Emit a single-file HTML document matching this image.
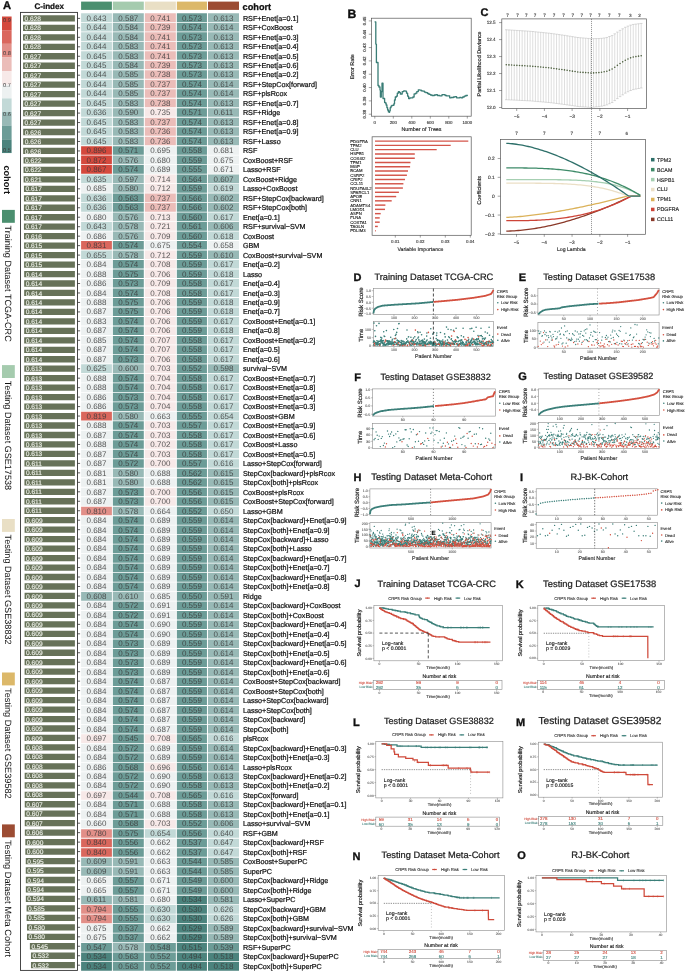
<!DOCTYPE html>
<html><head><meta charset="utf-8"><style>
html,body{margin:0;padding:0;background:#fff;}
svg{display:block;font-family:"Liberation Sans",sans-serif;will-change:transform;text-rendering:geometricPrecision;}
</style></head><body>
<svg width="685" height="972" viewBox="0 0 685 972">
<rect width="685" height="972" fill="#fff"/>
<rect x="81.1" y="1.6" width="30.8" height="8.3" fill="#4b8f6f"/>
<rect x="112.85" y="1.6" width="30.95" height="8.3" fill="#a5cbae"/>
<rect x="144.85" y="1.6" width="31" height="8.3" fill="#e9dfc5"/>
<rect x="176.85" y="1.6" width="30.1" height="8.3" fill="#dcb869"/>
<rect x="208" y="1.6" width="31" height="8.3" fill="#9c4c33"/>
<rect x="20.5" y="12.4" width="57" height="958" fill="none" stroke="#333" stroke-width="0.9"/>
<path d="M23.03,15.25h51.87v6.3h-51.87zM23.03,24.72h51.87v6.3h-51.87zM23.03,34.19h51.87v6.3h-51.87zM23.03,43.65h51.87v6.3h-51.87zM23.11,53.12h51.79v6.3h-51.79zM23.11,62.59h51.79v6.3h-51.79zM23.11,72.06h51.79v6.3h-51.79zM23.11,81.53h51.79v6.3h-51.79zM23.11,90.99h51.79v6.3h-51.79zM23.11,100.46h51.79v6.3h-51.79zM23.11,109.93h51.79v6.3h-51.79zM23.11,119.4h51.79v6.3h-51.79zM23.19,128.87h51.71v6.3h-51.71zM23.19,138.33h51.71v6.3h-51.71zM23.19,147.8h51.71v6.3h-51.71zM23.52,157.27h51.38v6.3h-51.38zM23.52,166.74h51.38v6.3h-51.38zM23.61,176.21h51.29v6.3h-51.29zM23.94,185.67h50.96v6.3h-50.96zM23.94,195.14h50.96v6.3h-50.96zM23.94,204.61h50.96v6.3h-50.96zM23.94,214.08h50.96v6.3h-50.96zM23.94,223.55h50.96v6.3h-50.96zM24.02,233.01h50.88v6.3h-50.88zM24.1,242.48h50.8v6.3h-50.8zM24.1,251.95h50.8v6.3h-50.8zM24.1,261.42h50.8v6.3h-50.8zM24.18,270.89h50.72v6.3h-50.72zM24.18,280.35h50.72v6.3h-50.72zM24.18,289.82h50.72v6.3h-50.72zM24.18,299.29h50.72v6.3h-50.72zM24.18,308.76h50.72v6.3h-50.72zM24.18,318.23h50.72v6.3h-50.72zM24.18,327.69h50.72v6.3h-50.72zM24.18,337.16h50.72v6.3h-50.72zM24.18,346.63h50.72v6.3h-50.72zM24.18,356.1h50.72v6.3h-50.72zM24.27,365.57h50.63v6.3h-50.63zM24.27,375.03h50.63v6.3h-50.63zM24.27,384.5h50.63v6.3h-50.63zM24.27,393.97h50.63v6.3h-50.63zM24.27,403.44h50.63v6.3h-50.63zM24.27,412.91h50.63v6.3h-50.63zM24.27,422.37h50.63v6.3h-50.63zM24.27,431.84h50.63v6.3h-50.63zM24.27,441.31h50.63v6.3h-50.63zM24.27,450.78h50.63v6.3h-50.63zM24.43,460.25h50.47v6.3h-50.47zM24.43,469.71h50.47v6.3h-50.47zM24.43,479.18h50.47v6.3h-50.47zM24.43,488.65h50.47v6.3h-50.47zM24.43,498.12h50.47v6.3h-50.47zM24.43,507.59h50.47v6.3h-50.47zM24.6,517.05h50.3v6.3h-50.3zM24.6,526.52h50.3v6.3h-50.3zM24.6,535.99h50.3v6.3h-50.3zM24.6,545.46h50.3v6.3h-50.3zM24.6,554.93h50.3v6.3h-50.3zM24.6,564.39h50.3v6.3h-50.3zM24.6,573.86h50.3v6.3h-50.3zM24.6,583.33h50.3v6.3h-50.3zM24.6,592.8h50.3v6.3h-50.3zM24.6,602.27h50.3v6.3h-50.3zM24.6,611.73h50.3v6.3h-50.3zM24.6,621.2h50.3v6.3h-50.3zM24.6,630.67h50.3v6.3h-50.3zM24.6,640.14h50.3v6.3h-50.3zM24.6,649.61h50.3v6.3h-50.3zM24.6,659.07h50.3v6.3h-50.3zM24.6,668.54h50.3v6.3h-50.3zM24.6,678.01h50.3v6.3h-50.3zM24.6,687.48h50.3v6.3h-50.3zM24.6,696.95h50.3v6.3h-50.3zM24.6,706.41h50.3v6.3h-50.3zM24.6,715.88h50.3v6.3h-50.3zM24.6,725.35h50.3v6.3h-50.3zM24.6,734.82h50.3v6.3h-50.3zM24.68,744.29h50.22v6.3h-50.22zM24.68,753.75h50.22v6.3h-50.22zM24.68,763.22h50.22v6.3h-50.22zM24.68,772.69h50.22v6.3h-50.22zM24.68,782.16h50.22v6.3h-50.22zM24.68,791.63h50.22v6.3h-50.22zM24.76,801.09h50.14v6.3h-50.14zM24.76,810.56h50.14v6.3h-50.14zM24.76,820.03h50.14v6.3h-50.14zM24.84,829.5h50.06v6.3h-50.06zM25.34,838.97h49.56v6.3h-49.56zM25.34,848.43h49.56v6.3h-49.56zM25.75,857.9h49.15v6.3h-49.15zM25.75,867.37h49.15v6.3h-49.15zM25.84,876.84h49.06v6.3h-49.06zM25.84,886.31h49.06v6.3h-49.06zM25.84,895.77h49.06v6.3h-49.06zM26.58,905.24h48.32v6.3h-48.32zM26.58,914.71h48.32v6.3h-48.32zM26.99,924.18h47.91v6.3h-47.91zM26.99,933.65h47.91v6.3h-47.91zM29.88,943.11h45.02v6.3h-45.02zM30.96,952.58h43.94v6.3h-43.94zM30.96,962.05h43.94v6.3h-43.94z" fill="#677259"/>
<path d="M77.5,18.4h2.6M77.5,27.87h2.6M77.5,37.34h2.6M77.5,46.8h2.6M77.5,56.27h2.6M77.5,65.74h2.6M77.5,75.21h2.6M77.5,84.68h2.6M77.5,94.14h2.6M77.5,103.61h2.6M77.5,113.08h2.6M77.5,122.55h2.6M77.5,132.02h2.6M77.5,141.48h2.6M77.5,150.95h2.6M77.5,160.42h2.6M77.5,169.89h2.6M77.5,179.36h2.6M77.5,188.82h2.6M77.5,198.29h2.6M77.5,207.76h2.6M77.5,217.23h2.6M77.5,226.7h2.6M77.5,236.16h2.6M77.5,245.63h2.6M77.5,255.1h2.6M77.5,264.57h2.6M77.5,274.04h2.6M77.5,283.5h2.6M77.5,292.97h2.6M77.5,302.44h2.6M77.5,311.91h2.6M77.5,321.38h2.6M77.5,330.84h2.6M77.5,340.31h2.6M77.5,349.78h2.6M77.5,359.25h2.6M77.5,368.72h2.6M77.5,378.18h2.6M77.5,387.65h2.6M77.5,397.12h2.6M77.5,406.59h2.6M77.5,416.06h2.6M77.5,425.52h2.6M77.5,434.99h2.6M77.5,444.46h2.6M77.5,453.93h2.6M77.5,463.4h2.6M77.5,472.86h2.6M77.5,482.33h2.6M77.5,491.8h2.6M77.5,501.27h2.6M77.5,510.74h2.6M77.5,520.2h2.6M77.5,529.67h2.6M77.5,539.14h2.6M77.5,548.61h2.6M77.5,558.08h2.6M77.5,567.54h2.6M77.5,577.01h2.6M77.5,586.48h2.6M77.5,595.95h2.6M77.5,605.42h2.6M77.5,614.88h2.6M77.5,624.35h2.6M77.5,633.82h2.6M77.5,643.29h2.6M77.5,652.76h2.6M77.5,662.22h2.6M77.5,671.69h2.6M77.5,681.16h2.6M77.5,690.63h2.6M77.5,700.1h2.6M77.5,709.56h2.6M77.5,719.03h2.6M77.5,728.5h2.6M77.5,737.97h2.6M77.5,747.44h2.6M77.5,756.9h2.6M77.5,766.37h2.6M77.5,775.84h2.6M77.5,785.31h2.6M77.5,794.78h2.6M77.5,804.24h2.6M77.5,813.71h2.6M77.5,823.18h2.6M77.5,832.65h2.6M77.5,842.12h2.6M77.5,851.58h2.6M77.5,861.05h2.6M77.5,870.52h2.6M77.5,879.99h2.6M77.5,889.46h2.6M77.5,898.92h2.6M77.5,908.39h2.6M77.5,917.86h2.6M77.5,927.33h2.6M77.5,936.8h2.6M77.5,946.26h2.6M77.5,955.73h2.6M77.5,965.2h2.6" stroke="#333" stroke-width="0.8"/>
<path d="M81.1,13.3h30.8v8.6h-30.8zM81.1,22.79h30.8v8.6h-30.8zM81.1,32.28h30.8v8.6h-30.8zM81.1,41.76h30.8v8.6h-30.8zM81.1,51.25h30.8v8.6h-30.8zM81.1,60.74h30.8v8.6h-30.8zM81.1,70.23h30.8v8.6h-30.8zM81.1,79.71h30.8v8.6h-30.8zM81.1,89.2h30.8v8.6h-30.8zM81.1,98.69h30.8v8.6h-30.8zM81.1,108.17h30.8v8.6h-30.8zM81.1,117.66h30.8v8.6h-30.8zM81.1,127.15h30.8v8.6h-30.8zM81.1,136.64h30.8v8.6h-30.8zM81.1,174.59h30.8v8.6h-30.8zM208,184.08h31v8.6h-31zM81.1,193.56h30.8v8.6h-30.8zM81.1,203.05h30.8v8.6h-30.8zM208,212.54h31v8.6h-31zM81.1,222.03h30.8v8.6h-30.8zM208,231.51h31v8.6h-31zM81.1,250.49h30.8v8.6h-30.8zM208,259.98h31v8.6h-31zM208,269.46h31v8.6h-31zM208,278.95h31v8.6h-31zM208,288.44h31v8.6h-31zM208,297.93h31v8.6h-31zM208,307.41h31v8.6h-31zM208,316.9h31v8.6h-31zM208,326.39h31v8.6h-31zM208,335.88h31v8.6h-31zM208,345.36h31v8.6h-31zM208,354.85h31v8.6h-31zM81.1,364.34h30.8v8.6h-30.8zM208,373.83h31v8.6h-31zM208,383.31h31v8.6h-31zM208,392.8h31v8.6h-31zM208,402.29h31v8.6h-31zM208,411.78h31v8.6h-31zM208,421.26h31v8.6h-31zM208,430.75h31v8.6h-31zM208,440.24h31v8.6h-31zM208,449.73h31v8.6h-31zM208,459.21h31v8.6h-31zM208,506.65h31v8.6h-31zM208,734.35h31v8.6h-31zM208,791.27h31v8.6h-31zM144.85,829.23h31v8.6h-31zM208,829.23h31v8.6h-31zM208,838.71h31v8.6h-31zM208,848.2h31v8.6h-31zM144.85,905.12h31v8.6h-31zM208,905.12h31v8.6h-31zM144.85,914.61h31v8.6h-31zM208,914.61h31v8.6h-31z" fill="#c2d9d7"/>
<path d="M112.85,13.3h30.95v8.6h-30.95zM208,13.3h31v8.6h-31zM112.85,22.79h30.95v8.6h-30.95zM208,22.79h31v8.6h-31zM112.85,32.28h30.95v8.6h-30.95zM208,32.28h31v8.6h-31zM112.85,41.76h30.95v8.6h-30.95zM208,41.76h31v8.6h-31zM112.85,51.25h30.95v8.6h-30.95zM208,51.25h31v8.6h-31zM112.85,60.74h30.95v8.6h-30.95zM208,60.74h31v8.6h-31zM112.85,70.23h30.95v8.6h-30.95zM208,70.23h31v8.6h-31zM112.85,79.71h30.95v8.6h-30.95zM208,79.71h31v8.6h-31zM112.85,89.2h30.95v8.6h-30.95zM208,89.2h31v8.6h-31zM112.85,98.69h30.95v8.6h-30.95zM208,98.69h31v8.6h-31zM112.85,108.17h30.95v8.6h-30.95zM208,108.17h31v8.6h-31zM112.85,117.66h30.95v8.6h-30.95zM208,117.66h31v8.6h-31zM112.85,127.15h30.95v8.6h-30.95zM208,127.15h31v8.6h-31zM112.85,136.64h30.95v8.6h-30.95zM208,136.64h31v8.6h-31zM112.85,155.61h30.95v8.6h-30.95zM112.85,174.59h30.95v8.6h-30.95zM208,174.59h31v8.6h-31zM112.85,184.08h30.95v8.6h-30.95zM208,193.56h31v8.6h-31zM208,203.05h31v8.6h-31zM112.85,212.54h30.95v8.6h-30.95zM112.85,222.03h30.95v8.6h-30.95zM208,222.03h31v8.6h-31zM112.85,231.51h30.95v8.6h-30.95zM112.85,250.49h30.95v8.6h-30.95zM208,250.49h31v8.6h-31zM112.85,364.34h30.95v8.6h-30.95zM208,364.34h31v8.6h-31zM112.85,411.78h30.95v8.6h-30.95zM112.85,468.7h30.95v8.6h-30.95zM208,468.7h31v8.6h-31zM112.85,478.19h30.95v8.6h-30.95zM208,478.19h31v8.6h-31zM208,487.68h31v8.6h-31zM208,497.16h31v8.6h-31zM112.85,506.65h30.95v8.6h-30.95zM208,516.14h31v8.6h-31zM208,525.62h31v8.6h-31zM208,535.11h31v8.6h-31zM208,544.6h31v8.6h-31zM208,554.09h31v8.6h-31zM208,563.58h31v8.6h-31zM208,573.06h31v8.6h-31zM208,582.55h31v8.6h-31zM81.1,592.04h30.8v8.6h-30.8zM112.85,592.04h30.95v8.6h-30.95zM208,592.04h31v8.6h-31zM208,601.52h31v8.6h-31zM208,611.01h31v8.6h-31zM208,620.5h31v8.6h-31zM208,629.99h31v8.6h-31zM208,639.48h31v8.6h-31zM208,648.96h31v8.6h-31zM208,658.45h31v8.6h-31zM208,667.94h31v8.6h-31zM208,677.42h31v8.6h-31zM208,686.91h31v8.6h-31zM208,696.4h31v8.6h-31zM208,705.89h31v8.6h-31zM208,715.38h31v8.6h-31zM208,724.86h31v8.6h-31zM208,743.84h31v8.6h-31zM208,753.33h31v8.6h-31zM208,762.81h31v8.6h-31zM208,772.3h31v8.6h-31zM208,781.79h31v8.6h-31zM208,800.76h31v8.6h-31zM208,810.25h31v8.6h-31zM208,819.74h31v8.6h-31zM81.1,857.69h30.8v8.6h-30.8zM112.85,857.69h30.95v8.6h-30.95zM208,857.69h31v8.6h-31zM81.1,867.18h30.8v8.6h-30.8zM112.85,867.18h30.95v8.6h-30.95zM208,867.18h31v8.6h-31zM208,876.66h31v8.6h-31zM208,886.15h31v8.6h-31zM81.1,895.64h30.8v8.6h-30.8zM112.85,895.64h30.95v8.6h-30.95zM208,895.64h31v8.6h-31zM208,924.1h31v8.6h-31zM208,933.59h31v8.6h-31zM112.85,943.08h30.95v8.6h-30.95z" fill="#98b9b6"/>
<path d="M144.85,13.3h31v8.6h-31zM144.85,22.79h31v8.6h-31zM144.85,32.28h31v8.6h-31zM144.85,41.76h31v8.6h-31zM144.85,51.25h31v8.6h-31zM144.85,60.74h31v8.6h-31zM144.85,70.23h31v8.6h-31zM144.85,79.71h31v8.6h-31zM144.85,89.2h31v8.6h-31zM144.85,98.69h31v8.6h-31zM144.85,117.66h31v8.6h-31zM144.85,127.15h31v8.6h-31zM144.85,136.64h31v8.6h-31zM144.85,193.56h31v8.6h-31zM144.85,203.05h31v8.6h-31z" fill="#ebbdb9"/>
<path d="M176.85,13.3h30.1v8.6h-30.1zM176.85,22.79h30.1v8.6h-30.1zM176.85,32.28h30.1v8.6h-30.1zM176.85,41.76h30.1v8.6h-30.1zM176.85,51.25h30.1v8.6h-30.1zM176.85,60.74h30.1v8.6h-30.1zM176.85,70.23h30.1v8.6h-30.1zM176.85,79.71h30.1v8.6h-30.1zM176.85,89.2h30.1v8.6h-30.1zM176.85,98.69h30.1v8.6h-30.1zM176.85,108.17h30.1v8.6h-30.1zM176.85,117.66h30.1v8.6h-30.1zM176.85,127.15h30.1v8.6h-30.1zM176.85,136.64h30.1v8.6h-30.1zM112.85,146.13h30.95v8.6h-30.95zM176.85,146.13h30.1v8.6h-30.1zM176.85,155.61h30.1v8.6h-30.1zM112.85,165.1h30.95v8.6h-30.95zM176.85,165.1h30.1v8.6h-30.1zM176.85,174.59h30.1v8.6h-30.1zM176.85,184.08h30.1v8.6h-30.1zM112.85,193.56h30.95v8.6h-30.95zM176.85,193.56h30.1v8.6h-30.1zM112.85,203.05h30.95v8.6h-30.95zM176.85,203.05h30.1v8.6h-30.1zM176.85,212.54h30.1v8.6h-30.1zM176.85,222.03h30.1v8.6h-30.1zM176.85,231.51h30.1v8.6h-30.1zM112.85,241h30.95v8.6h-30.95zM176.85,241h30.1v8.6h-30.1zM176.85,250.49h30.1v8.6h-30.1zM112.85,259.98h30.95v8.6h-30.95zM176.85,259.98h30.1v8.6h-30.1zM112.85,269.46h30.95v8.6h-30.95zM176.85,269.46h30.1v8.6h-30.1zM112.85,278.95h30.95v8.6h-30.95zM176.85,278.95h30.1v8.6h-30.1zM112.85,288.44h30.95v8.6h-30.95zM176.85,288.44h30.1v8.6h-30.1zM112.85,297.93h30.95v8.6h-30.95zM176.85,297.93h30.1v8.6h-30.1zM112.85,307.41h30.95v8.6h-30.95zM176.85,307.41h30.1v8.6h-30.1zM112.85,316.9h30.95v8.6h-30.95zM176.85,316.9h30.1v8.6h-30.1zM112.85,326.39h30.95v8.6h-30.95zM176.85,326.39h30.1v8.6h-30.1zM112.85,335.88h30.95v8.6h-30.95zM176.85,335.88h30.1v8.6h-30.1zM112.85,345.36h30.95v8.6h-30.95zM176.85,345.36h30.1v8.6h-30.1zM112.85,354.85h30.95v8.6h-30.95zM176.85,354.85h30.1v8.6h-30.1zM176.85,364.34h30.1v8.6h-30.1zM112.85,373.83h30.95v8.6h-30.95zM176.85,373.83h30.1v8.6h-30.1zM112.85,383.31h30.95v8.6h-30.95zM176.85,383.31h30.1v8.6h-30.1zM112.85,392.8h30.95v8.6h-30.95zM176.85,392.8h30.1v8.6h-30.1zM112.85,402.29h30.95v8.6h-30.95zM176.85,402.29h30.1v8.6h-30.1zM176.85,411.78h30.1v8.6h-30.1zM112.85,421.26h30.95v8.6h-30.95zM176.85,421.26h30.1v8.6h-30.1zM112.85,430.75h30.95v8.6h-30.95zM176.85,430.75h30.1v8.6h-30.1zM112.85,440.24h30.95v8.6h-30.95zM176.85,440.24h30.1v8.6h-30.1zM112.85,449.73h30.95v8.6h-30.95zM176.85,449.73h30.1v8.6h-30.1zM112.85,459.21h30.95v8.6h-30.95zM176.85,459.21h30.1v8.6h-30.1zM176.85,468.7h30.1v8.6h-30.1zM176.85,478.19h30.1v8.6h-30.1zM112.85,487.68h30.95v8.6h-30.95zM176.85,487.68h30.1v8.6h-30.1zM112.85,497.16h30.95v8.6h-30.95zM176.85,497.16h30.1v8.6h-30.1zM176.85,506.65h30.1v8.6h-30.1zM112.85,516.14h30.95v8.6h-30.95zM176.85,516.14h30.1v8.6h-30.1zM112.85,525.62h30.95v8.6h-30.95zM176.85,525.62h30.1v8.6h-30.1zM112.85,535.11h30.95v8.6h-30.95zM176.85,535.11h30.1v8.6h-30.1zM112.85,544.6h30.95v8.6h-30.95zM176.85,544.6h30.1v8.6h-30.1zM112.85,554.09h30.95v8.6h-30.95zM176.85,554.09h30.1v8.6h-30.1zM112.85,563.58h30.95v8.6h-30.95zM176.85,563.58h30.1v8.6h-30.1zM112.85,573.06h30.95v8.6h-30.95zM176.85,573.06h30.1v8.6h-30.1zM112.85,582.55h30.95v8.6h-30.95zM176.85,582.55h30.1v8.6h-30.1zM176.85,592.04h30.1v8.6h-30.1zM112.85,601.52h30.95v8.6h-30.95zM176.85,601.52h30.1v8.6h-30.1zM112.85,611.01h30.95v8.6h-30.95zM176.85,611.01h30.1v8.6h-30.1zM112.85,620.5h30.95v8.6h-30.95zM176.85,620.5h30.1v8.6h-30.1zM112.85,629.99h30.95v8.6h-30.95zM176.85,629.99h30.1v8.6h-30.1zM112.85,639.48h30.95v8.6h-30.95zM176.85,639.48h30.1v8.6h-30.1zM112.85,648.96h30.95v8.6h-30.95zM176.85,648.96h30.1v8.6h-30.1zM112.85,658.45h30.95v8.6h-30.95zM176.85,658.45h30.1v8.6h-30.1zM112.85,667.94h30.95v8.6h-30.95zM176.85,667.94h30.1v8.6h-30.1zM112.85,677.42h30.95v8.6h-30.95zM176.85,677.42h30.1v8.6h-30.1zM112.85,686.91h30.95v8.6h-30.95zM176.85,686.91h30.1v8.6h-30.1zM112.85,696.4h30.95v8.6h-30.95zM176.85,696.4h30.1v8.6h-30.1zM112.85,705.89h30.95v8.6h-30.95zM176.85,705.89h30.1v8.6h-30.1zM112.85,715.38h30.95v8.6h-30.95zM176.85,715.38h30.1v8.6h-30.1zM112.85,724.86h30.95v8.6h-30.95zM176.85,724.86h30.1v8.6h-30.1zM112.85,734.35h30.95v8.6h-30.95zM176.85,734.35h30.1v8.6h-30.1zM112.85,743.84h30.95v8.6h-30.95zM176.85,743.84h30.1v8.6h-30.1zM112.85,753.33h30.95v8.6h-30.95zM176.85,753.33h30.1v8.6h-30.1zM112.85,762.81h30.95v8.6h-30.95zM176.85,762.81h30.1v8.6h-30.1zM112.85,772.3h30.95v8.6h-30.95zM176.85,772.3h30.1v8.6h-30.1zM112.85,781.79h30.95v8.6h-30.95zM176.85,781.79h30.1v8.6h-30.1zM112.85,791.27h30.95v8.6h-30.95zM176.85,791.27h30.1v8.6h-30.1zM112.85,800.76h30.95v8.6h-30.95zM176.85,800.76h30.1v8.6h-30.1zM112.85,810.25h30.95v8.6h-30.95zM176.85,810.25h30.1v8.6h-30.1zM112.85,819.74h30.95v8.6h-30.95zM176.85,819.74h30.1v8.6h-30.1zM112.85,829.23h30.95v8.6h-30.95zM176.85,829.23h30.1v8.6h-30.1zM112.85,838.71h30.95v8.6h-30.95zM176.85,838.71h30.1v8.6h-30.1zM112.85,848.2h30.95v8.6h-30.95zM176.85,848.2h30.1v8.6h-30.1zM176.85,857.69h30.1v8.6h-30.1zM176.85,867.18h30.1v8.6h-30.1zM112.85,876.66h30.95v8.6h-30.95zM176.85,876.66h30.1v8.6h-30.1zM112.85,886.15h30.95v8.6h-30.95zM176.85,886.15h30.1v8.6h-30.1zM112.85,905.12h30.95v8.6h-30.95zM112.85,914.61h30.95v8.6h-30.95zM112.85,924.1h30.95v8.6h-30.95zM112.85,933.59h30.95v8.6h-30.95zM81.1,943.08h30.8v8.6h-30.8zM144.85,943.08h31v8.6h-31zM208,943.08h31v8.6h-31zM112.85,952.56h30.95v8.6h-30.95zM144.85,952.56h31v8.6h-31zM112.85,962.05h30.95v8.6h-30.95zM144.85,962.05h31v8.6h-31z" fill="#6c9c97"/>
<path d="M144.85,108.17h31v8.6h-31zM144.85,174.59h31v8.6h-31zM144.85,184.08h31v8.6h-31zM144.85,212.54h31v8.6h-31zM144.85,222.03h31v8.6h-31zM144.85,231.51h31v8.6h-31zM144.85,250.49h31v8.6h-31zM144.85,259.98h31v8.6h-31zM144.85,269.46h31v8.6h-31zM144.85,278.95h31v8.6h-31zM144.85,288.44h31v8.6h-31zM144.85,297.93h31v8.6h-31zM144.85,307.41h31v8.6h-31zM144.85,316.9h31v8.6h-31zM144.85,326.39h31v8.6h-31zM144.85,335.88h31v8.6h-31zM144.85,345.36h31v8.6h-31zM144.85,354.85h31v8.6h-31zM144.85,364.34h31v8.6h-31zM144.85,373.83h31v8.6h-31zM144.85,383.31h31v8.6h-31zM144.85,392.8h31v8.6h-31zM144.85,402.29h31v8.6h-31zM144.85,421.26h31v8.6h-31zM144.85,430.75h31v8.6h-31zM144.85,440.24h31v8.6h-31zM144.85,449.73h31v8.6h-31zM144.85,459.21h31v8.6h-31zM144.85,487.68h31v8.6h-31zM144.85,497.16h31v8.6h-31zM81.1,734.35h30.8v8.6h-30.8zM144.85,734.35h31v8.6h-31zM144.85,762.81h31v8.6h-31zM81.1,791.27h30.8v8.6h-30.8zM144.85,791.27h31v8.6h-31zM144.85,819.74h31v8.6h-31z" fill="#f7e9e8"/>
<path d="M81.1,146.13h30.8v8.6h-30.8zM81.1,155.61h30.8v8.6h-30.8zM81.1,165.1h30.8v8.6h-30.8z" fill="#d4493d"/>
<path d="M144.85,146.13h31v8.6h-31zM208,146.13h31v8.6h-31zM144.85,155.61h31v8.6h-31zM208,155.61h31v8.6h-31zM144.85,165.1h31v8.6h-31zM208,165.1h31v8.6h-31zM81.1,184.08h30.8v8.6h-30.8zM81.1,212.54h30.8v8.6h-30.8zM81.1,231.51h30.8v8.6h-30.8zM144.85,241h31v8.6h-31zM208,241h31v8.6h-31zM81.1,259.98h30.8v8.6h-30.8zM81.1,269.46h30.8v8.6h-30.8zM81.1,278.95h30.8v8.6h-30.8zM81.1,288.44h30.8v8.6h-30.8zM81.1,297.93h30.8v8.6h-30.8zM81.1,307.41h30.8v8.6h-30.8zM81.1,316.9h30.8v8.6h-30.8zM81.1,326.39h30.8v8.6h-30.8zM81.1,335.88h30.8v8.6h-30.8zM81.1,345.36h30.8v8.6h-30.8zM81.1,354.85h30.8v8.6h-30.8zM81.1,373.83h30.8v8.6h-30.8zM81.1,383.31h30.8v8.6h-30.8zM81.1,392.8h30.8v8.6h-30.8zM81.1,402.29h30.8v8.6h-30.8zM144.85,411.78h31v8.6h-31zM81.1,421.26h30.8v8.6h-30.8zM81.1,430.75h30.8v8.6h-30.8zM81.1,440.24h30.8v8.6h-30.8zM81.1,449.73h30.8v8.6h-30.8zM81.1,459.21h30.8v8.6h-30.8zM81.1,468.7h30.8v8.6h-30.8zM144.85,468.7h31v8.6h-31zM81.1,478.19h30.8v8.6h-30.8zM144.85,478.19h31v8.6h-31zM81.1,487.68h30.8v8.6h-30.8zM81.1,497.16h30.8v8.6h-30.8zM144.85,506.65h31v8.6h-31zM81.1,516.14h30.8v8.6h-30.8zM144.85,516.14h31v8.6h-31zM81.1,525.62h30.8v8.6h-30.8zM144.85,525.62h31v8.6h-31zM81.1,535.11h30.8v8.6h-30.8zM144.85,535.11h31v8.6h-31zM81.1,544.6h30.8v8.6h-30.8zM144.85,544.6h31v8.6h-31zM81.1,554.09h30.8v8.6h-30.8zM144.85,554.09h31v8.6h-31zM81.1,563.58h30.8v8.6h-30.8zM144.85,563.58h31v8.6h-31zM81.1,573.06h30.8v8.6h-30.8zM144.85,573.06h31v8.6h-31zM81.1,582.55h30.8v8.6h-30.8zM144.85,582.55h31v8.6h-31zM144.85,592.04h31v8.6h-31zM81.1,601.52h30.8v8.6h-30.8zM144.85,601.52h31v8.6h-31zM81.1,611.01h30.8v8.6h-30.8zM144.85,611.01h31v8.6h-31zM81.1,620.5h30.8v8.6h-30.8zM144.85,620.5h31v8.6h-31zM81.1,629.99h30.8v8.6h-30.8zM144.85,629.99h31v8.6h-31zM81.1,639.48h30.8v8.6h-30.8zM144.85,639.48h31v8.6h-31zM81.1,648.96h30.8v8.6h-30.8zM144.85,648.96h31v8.6h-31zM81.1,658.45h30.8v8.6h-30.8zM144.85,658.45h31v8.6h-31zM81.1,667.94h30.8v8.6h-30.8zM144.85,667.94h31v8.6h-31zM81.1,677.42h30.8v8.6h-30.8zM144.85,677.42h31v8.6h-31zM81.1,686.91h30.8v8.6h-30.8zM144.85,686.91h31v8.6h-31zM81.1,696.4h30.8v8.6h-30.8zM144.85,696.4h31v8.6h-31zM81.1,705.89h30.8v8.6h-30.8zM144.85,705.89h31v8.6h-31zM81.1,715.38h30.8v8.6h-30.8zM144.85,715.38h31v8.6h-31zM81.1,724.86h30.8v8.6h-30.8zM144.85,724.86h31v8.6h-31zM81.1,743.84h30.8v8.6h-30.8zM144.85,743.84h31v8.6h-31zM81.1,753.33h30.8v8.6h-30.8zM144.85,753.33h31v8.6h-31zM81.1,762.81h30.8v8.6h-30.8zM81.1,772.3h30.8v8.6h-30.8zM144.85,772.3h31v8.6h-31zM81.1,781.79h30.8v8.6h-30.8zM144.85,781.79h31v8.6h-31zM81.1,800.76h30.8v8.6h-30.8zM144.85,800.76h31v8.6h-31zM81.1,810.25h30.8v8.6h-30.8zM144.85,810.25h31v8.6h-31zM81.1,819.74h30.8v8.6h-30.8zM144.85,838.71h31v8.6h-31zM144.85,848.2h31v8.6h-31zM144.85,857.69h31v8.6h-31zM144.85,867.18h31v8.6h-31zM81.1,876.66h30.8v8.6h-30.8zM144.85,876.66h31v8.6h-31zM81.1,886.15h30.8v8.6h-30.8zM144.85,886.15h31v8.6h-31zM144.85,895.64h31v8.6h-31zM81.1,924.1h30.8v8.6h-30.8zM144.85,924.1h31v8.6h-31zM81.1,933.59h30.8v8.6h-30.8zM144.85,933.59h31v8.6h-31z" fill="#edf1f1"/>
<path d="M81.1,241h30.8v8.6h-30.8zM81.1,411.78h30.8v8.6h-30.8zM81.1,838.71h30.8v8.6h-30.8zM81.1,848.2h30.8v8.6h-30.8z" fill="#da675d"/>
<path d="M81.1,506.65h30.8v8.6h-30.8zM81.1,829.23h30.8v8.6h-30.8zM81.1,905.12h30.8v8.6h-30.8zM81.1,914.61h30.8v8.6h-30.8z" fill="#e28f88"/>
<path d="M176.85,895.64h30.1v8.6h-30.1zM176.85,905.12h30.1v8.6h-30.1zM176.85,914.61h30.1v8.6h-30.1zM176.85,924.1h30.1v8.6h-30.1zM176.85,933.59h30.1v8.6h-30.1zM176.85,943.08h30.1v8.6h-30.1zM81.1,952.56h30.8v8.6h-30.8zM176.85,952.56h30.1v8.6h-30.1zM208,952.56h31v8.6h-31zM81.1,962.05h30.8v8.6h-30.8zM176.85,962.05h30.1v8.6h-30.1zM208,962.05h31v8.6h-31z" fill="#4b837d"/>
<rect x="2" y="16.5" width="9.6" height="13.7" fill="#d4493d"/>
<rect x="2" y="30.15" width="9.6" height="13.7" fill="#da675d"/>
<rect x="2" y="43.8" width="9.6" height="13.7" fill="#e28f88"/>
<rect x="2" y="57.45" width="9.6" height="13.7" fill="#ebbdb9"/>
<rect x="2" y="71.1" width="9.6" height="13.7" fill="#f7e9e8"/>
<rect x="2" y="84.75" width="9.6" height="13.7" fill="#edf1f1"/>
<rect x="2" y="98.4" width="9.6" height="13.7" fill="#c2d9d7"/>
<rect x="2" y="112.05" width="9.6" height="13.7" fill="#98b9b6"/>
<rect x="2" y="125.7" width="9.6" height="13.7" fill="#6c9c97"/>
<rect x="2" y="139.35" width="9.6" height="13.7" fill="#4b837d"/>
<text transform="translate(4.4,165.4) rotate(90)" font-size="9.2" fill="#111" font-weight="bold">cohort</text>
<rect x="2" y="209.9" width="12.8" height="12.9" fill="#4b8f6f"/>
<text transform="translate(4.7,225.5) rotate(90)" font-size="9.1" fill="#111" textLength="116.2" lengthAdjust="spacingAndGlyphs">Training Dataset TCGA-CRC</text>
<rect x="2" y="365.1" width="12.8" height="12.9" fill="#a5cbae"/>
<text transform="translate(4.7,380.7) rotate(90)" font-size="9.1" fill="#111" textLength="109.3" lengthAdjust="spacingAndGlyphs">Testing Dataset GSE17538</text>
<rect x="2" y="519" width="12.8" height="12.9" fill="#e9dfc5"/>
<text transform="translate(4.7,534.6) rotate(90)" font-size="9.1" fill="#111" textLength="110.0" lengthAdjust="spacingAndGlyphs">Testing Dataset GSE38832</text>
<rect x="2" y="672.5" width="12.8" height="12.9" fill="#dcb869"/>
<text transform="translate(4.7,688.1) rotate(90)" font-size="9.1" fill="#111" textLength="110.6" lengthAdjust="spacingAndGlyphs">Testing Dataset GSE39582</text>
<rect x="2" y="824.4" width="12.8" height="12.9" fill="#9c4c33"/>
<text transform="translate(4.7,840) rotate(90)" font-size="9.1" fill="#111" textLength="117.0" lengthAdjust="spacingAndGlyphs">Testing Dataset Meta Cohort</text>
<rect x="371.4" y="18.2" width="99.8" height="98" fill="none" stroke="#555" stroke-width="0.7"/>
<line x1="368.8" y1="20.9" x2="371.4" y2="20.9" stroke="#444" stroke-width="0.5"/>
<text transform="translate(365.6,20.9) rotate(-90)" font-size="4.4" fill="#333" text-anchor="middle" stroke="#333" stroke-width="0.13">0.45</text>
<line x1="368.8" y1="34.23" x2="371.4" y2="34.23" stroke="#444" stroke-width="0.5"/>
<text transform="translate(365.6,34.23) rotate(-90)" font-size="4.4" fill="#333" text-anchor="middle" stroke="#333" stroke-width="0.13">0.44</text>
<line x1="368.8" y1="47.56" x2="371.4" y2="47.56" stroke="#444" stroke-width="0.5"/>
<text transform="translate(365.6,47.56) rotate(-90)" font-size="4.4" fill="#333" text-anchor="middle" stroke="#333" stroke-width="0.13">0.43</text>
<line x1="368.8" y1="60.89" x2="371.4" y2="60.89" stroke="#444" stroke-width="0.5"/>
<text transform="translate(365.6,60.89) rotate(-90)" font-size="4.4" fill="#333" text-anchor="middle" stroke="#333" stroke-width="0.13">0.42</text>
<line x1="368.8" y1="74.22" x2="371.4" y2="74.22" stroke="#444" stroke-width="0.5"/>
<text transform="translate(365.6,74.22) rotate(-90)" font-size="4.4" fill="#333" text-anchor="middle" stroke="#333" stroke-width="0.13">0.41</text>
<line x1="368.8" y1="87.55" x2="371.4" y2="87.55" stroke="#444" stroke-width="0.5"/>
<text transform="translate(365.6,87.55) rotate(-90)" font-size="4.4" fill="#333" text-anchor="middle" stroke="#333" stroke-width="0.13">0.40</text>
<line x1="368.8" y1="100.88" x2="371.4" y2="100.88" stroke="#444" stroke-width="0.5"/>
<text transform="translate(365.6,100.88) rotate(-90)" font-size="4.4" fill="#333" text-anchor="middle" stroke="#333" stroke-width="0.13">0.39</text>
<line x1="368.8" y1="114.21" x2="371.4" y2="114.21" stroke="#444" stroke-width="0.5"/>
<text transform="translate(365.6,114.21) rotate(-90)" font-size="4.4" fill="#333" text-anchor="middle" stroke="#333" stroke-width="0.13">0.38</text>
<text transform="translate(353.8,66.8) rotate(-90)" font-size="5.4" fill="#222" text-anchor="middle" stroke="#222" stroke-width="0.16">Error Rate</text>
<line x1="374.8" y1="116.2" x2="374.8" y2="118.6" stroke="#444" stroke-width="0.5"/>
<line x1="393.3" y1="116.2" x2="393.3" y2="118.6" stroke="#444" stroke-width="0.5"/>
<line x1="411.8" y1="116.2" x2="411.8" y2="118.6" stroke="#444" stroke-width="0.5"/>
<line x1="430.3" y1="116.2" x2="430.3" y2="118.6" stroke="#444" stroke-width="0.5"/>
<line x1="448.8" y1="116.2" x2="448.8" y2="118.6" stroke="#444" stroke-width="0.5"/>
<line x1="467.3" y1="116.2" x2="467.3" y2="118.6" stroke="#444" stroke-width="0.5"/>
<path d="M374.6,21.9 L375.8,21.9 L375.8,21.9 L375.8,21.9 L375.8,44.1 L376.4,44.1 L376.4,44.1 L376.4,44.1 L376.4,62.5 L377.7,62.5 L377.7,62.5 L378,62.5 L378,85.5 L378.9,85.5 L378.9,87 L380,87 L380,90.1 L380.4,90.1 L380.4,97 L381,97 L381,97 L381.3,97 L381.3,91.6 L382,91.6 L382,83.2 L383,83.2 L383,83.2 L383,83.2 L383,98.5 L384.1,98.5 L384.1,98.5 L384.6,98.5 L384.6,102.4 L385.3,102.4 L385.3,103 L386.1,103 L386.1,105 L386.9,105 L386.9,107.7 L387.6,107.7 L387.6,110 L388.4,110 L388.4,111.9 L389.2,111.9 L389.2,112.3 L389.6,112.3 L389.6,110.8 L390.2,110.8 L390.2,107.7 L391,107.7 L391,106.2 L391.8,106.2 L391.8,105.4 L393,105.4 L393,105.4 L393.8,105.4 L393.8,103.9 L394.5,103.9 L394.5,100 L395.3,100 L395.3,97 L396.4,97 L396.4,96.2 L397.3,96.2 L397.3,93.2 L398.4,93.2 L398.4,91.6 L399.4,91.6 L399.4,92.4 L400.3,92.4 L400.3,94 L401.4,94 L401.4,94 L402.2,94 L402.2,91.6 L403.7,91.6 L403.7,90.9 L405.3,90.9 L405.3,91.2 L406.5,91.2 L406.5,93.2 L407.6,93.2 L407.6,96.2 L408.6,96.2 L408.6,98.5 L409.9,98.5 L409.9,97.8 L411.4,97.8 L411.4,97.8 L412.9,97.8 L412.9,97 L414.1,97 L414.1,93.9 L415.7,93.9 L415.7,93.2 L416.8,93.2 L416.8,91.6 L418.3,91.6 L418.3,89.8 L419.8,89.8 L419.8,90.1 L421.3,90.1 L421.3,90.9 L422.9,90.9 L422.9,91.2 L424.4,91.2 L424.4,92.1 L425.9,92.1 L425.9,92.7 L427.5,92.7 L427.5,93.5 L429,93.5 L429,94.4 L430.5,94.4 L430.5,95 L432,95 L432,95.5 L434.4,95.5 L434.4,95 L435.9,95 L435.9,94.7 L437.4,94.7 L437.4,95.5 L439.7,95.5 L439.7,95.8 L442,95.8 L442,94.7 L443.6,94.7 L443.6,94.7 L445.1,94.7 L445.1,95.5 L446.6,95.5 L446.6,95.9 L448.2,95.9 L448.2,95.8 L449.7,95.8 L449.7,97.8 L451.2,97.8 L451.2,97.5 L453.5,97.5 L453.5,97 L455,97 L455,96.7 L456.6,96.7 L456.6,97.8 L458.1,97.8 L458.1,97.8 L459.7,97.8 L459.7,97.5 L461.2,97.5 L461.2,97.8 L462.7,97.8 L462.7,97 L464.2,97 L464.2,96.2 L465.8,96.2 L465.8,95.5 L467.3,95.5 L467.3,94.7" fill="none" stroke="#3a7d76" stroke-width="1.3" stroke-linejoin="round"/>
<rect x="372.1" y="136.8" width="99.1" height="98.5" fill="none" stroke="#555" stroke-width="0.7"/>
<line x1="375" y1="141.1" x2="468.3" y2="141.1" stroke="#d4554a" stroke-width="1.45"/>
<line x1="375" y1="145.37" x2="450.7" y2="145.37" stroke="#d4554a" stroke-width="1.45"/>
<line x1="375" y1="149.63" x2="436.7" y2="149.63" stroke="#d4554a" stroke-width="1.45"/>
<line x1="375" y1="153.9" x2="414.8" y2="153.9" stroke="#d4554a" stroke-width="1.45"/>
<line x1="375" y1="158.17" x2="414.8" y2="158.17" stroke="#d4554a" stroke-width="1.45"/>
<line x1="375" y1="162.44" x2="410.5" y2="162.44" stroke="#d4554a" stroke-width="1.45"/>
<line x1="375" y1="166.7" x2="410.1" y2="166.7" stroke="#d4554a" stroke-width="1.45"/>
<line x1="375" y1="170.97" x2="408" y2="170.97" stroke="#d4554a" stroke-width="1.45"/>
<line x1="375" y1="175.24" x2="406.9" y2="175.24" stroke="#d4554a" stroke-width="1.45"/>
<line x1="375" y1="179.5" x2="405" y2="179.5" stroke="#d4554a" stroke-width="1.45"/>
<line x1="375" y1="183.77" x2="403.4" y2="183.77" stroke="#d4554a" stroke-width="1.45"/>
<line x1="375" y1="188.04" x2="402.9" y2="188.04" stroke="#d4554a" stroke-width="1.45"/>
<line x1="375" y1="192.3" x2="398.9" y2="192.3" stroke="#d4554a" stroke-width="1.45"/>
<line x1="375" y1="196.57" x2="396.2" y2="196.57" stroke="#d4554a" stroke-width="1.45"/>
<line x1="375" y1="200.84" x2="391.7" y2="200.84" stroke="#d4554a" stroke-width="1.45"/>
<line x1="375" y1="205.11" x2="385.4" y2="205.11" stroke="#d4554a" stroke-width="1.45"/>
<line x1="375" y1="209.37" x2="385" y2="209.37" stroke="#d4554a" stroke-width="1.45"/>
<line x1="375" y1="213.64" x2="380.7" y2="213.64" stroke="#d4554a" stroke-width="1.45"/>
<line x1="375" y1="217.91" x2="379.7" y2="217.91" stroke="#d4554a" stroke-width="1.45"/>
<line x1="375" y1="222.17" x2="379.7" y2="222.17" stroke="#d4554a" stroke-width="1.45"/>
<line x1="375" y1="226.44" x2="377.8" y2="226.44" stroke="#d4554a" stroke-width="1.45"/>
<line x1="375" y1="230.71" x2="375.7" y2="230.71" stroke="#d4554a" stroke-width="1.45"/>
<line x1="395.3" y1="235.3" x2="395.3" y2="237.6" stroke="#444" stroke-width="0.5"/>
<line x1="420.3" y1="235.3" x2="420.3" y2="237.6" stroke="#444" stroke-width="0.5"/>
<line x1="445.3" y1="235.3" x2="445.3" y2="237.6" stroke="#444" stroke-width="0.5"/>
<line x1="470.3" y1="235.3" x2="470.3" y2="237.6" stroke="#444" stroke-width="0.5"/>
<rect x="501.8" y="18.9" width="144.6" height="89.7" fill="none" stroke="#555" stroke-width="0.7"/>
<line x1="499" y1="22.6" x2="501.8" y2="22.6" stroke="#444" stroke-width="0.5"/>
<line x1="499" y1="39.58" x2="501.8" y2="39.58" stroke="#444" stroke-width="0.5"/>
<line x1="499" y1="56.56" x2="501.8" y2="56.56" stroke="#444" stroke-width="0.5"/>
<line x1="499" y1="73.54" x2="501.8" y2="73.54" stroke="#444" stroke-width="0.5"/>
<line x1="499" y1="90.52" x2="501.8" y2="90.52" stroke="#444" stroke-width="0.5"/>
<line x1="499" y1="107.5" x2="501.8" y2="107.5" stroke="#444" stroke-width="0.5"/>
<text transform="translate(481.2,63.9) rotate(-90)" font-size="5.4" fill="#222" text-anchor="middle" stroke="#222" stroke-width="0.16">Partial Likelihood Deviance</text>
<line x1="516.7" y1="108.6" x2="516.7" y2="111" stroke="#444" stroke-width="0.5"/>
<line x1="544.42" y1="108.6" x2="544.42" y2="111" stroke="#444" stroke-width="0.5"/>
<line x1="572.14" y1="108.6" x2="572.14" y2="111" stroke="#444" stroke-width="0.5"/>
<line x1="599.86" y1="108.6" x2="599.86" y2="111" stroke="#444" stroke-width="0.5"/>
<line x1="627.58" y1="108.6" x2="627.58" y2="111" stroke="#444" stroke-width="0.5"/>
<line x1="506.3" y1="29.76" x2="506.3" y2="99.71" stroke="#b5b5b5" stroke-width="0.45"/>
<line x1="505" y1="29.76" x2="507.6" y2="29.76" stroke="#b5b5b5" stroke-width="0.5"/>
<line x1="505" y1="99.71" x2="507.6" y2="99.71" stroke="#b5b5b5" stroke-width="0.5"/>
<line x1="508.94" y1="29.93" x2="508.94" y2="99.84" stroke="#b5b5b5" stroke-width="0.45"/>
<line x1="507.64" y1="29.93" x2="510.25" y2="29.93" stroke="#b5b5b5" stroke-width="0.5"/>
<line x1="507.64" y1="99.84" x2="510.25" y2="99.84" stroke="#b5b5b5" stroke-width="0.5"/>
<line x1="511.59" y1="30.1" x2="511.59" y2="99.97" stroke="#b5b5b5" stroke-width="0.45"/>
<line x1="510.29" y1="30.1" x2="512.89" y2="30.1" stroke="#b5b5b5" stroke-width="0.5"/>
<line x1="510.29" y1="99.97" x2="512.89" y2="99.97" stroke="#b5b5b5" stroke-width="0.5"/>
<line x1="514.24" y1="30.26" x2="514.24" y2="100.1" stroke="#b5b5b5" stroke-width="0.45"/>
<line x1="512.94" y1="30.26" x2="515.53" y2="30.26" stroke="#b5b5b5" stroke-width="0.5"/>
<line x1="512.94" y1="100.1" x2="515.53" y2="100.1" stroke="#b5b5b5" stroke-width="0.5"/>
<line x1="516.88" y1="30.43" x2="516.88" y2="100.23" stroke="#b5b5b5" stroke-width="0.45"/>
<line x1="515.58" y1="30.43" x2="518.18" y2="30.43" stroke="#b5b5b5" stroke-width="0.5"/>
<line x1="515.58" y1="100.23" x2="518.18" y2="100.23" stroke="#b5b5b5" stroke-width="0.5"/>
<line x1="519.52" y1="30.6" x2="519.52" y2="100.36" stroke="#b5b5b5" stroke-width="0.45"/>
<line x1="518.23" y1="30.6" x2="520.82" y2="30.6" stroke="#b5b5b5" stroke-width="0.5"/>
<line x1="518.23" y1="100.36" x2="520.82" y2="100.36" stroke="#b5b5b5" stroke-width="0.5"/>
<line x1="522.17" y1="30.76" x2="522.17" y2="100.49" stroke="#b5b5b5" stroke-width="0.45"/>
<line x1="520.87" y1="30.76" x2="523.47" y2="30.76" stroke="#b5b5b5" stroke-width="0.5"/>
<line x1="520.87" y1="100.49" x2="523.47" y2="100.49" stroke="#b5b5b5" stroke-width="0.5"/>
<line x1="524.82" y1="30.93" x2="524.82" y2="100.62" stroke="#b5b5b5" stroke-width="0.45"/>
<line x1="523.52" y1="30.93" x2="526.12" y2="30.93" stroke="#b5b5b5" stroke-width="0.5"/>
<line x1="523.52" y1="100.62" x2="526.12" y2="100.62" stroke="#b5b5b5" stroke-width="0.5"/>
<line x1="527.46" y1="31.1" x2="527.46" y2="100.75" stroke="#b5b5b5" stroke-width="0.45"/>
<line x1="526.16" y1="31.1" x2="528.76" y2="31.1" stroke="#b5b5b5" stroke-width="0.5"/>
<line x1="526.16" y1="100.75" x2="528.76" y2="100.75" stroke="#b5b5b5" stroke-width="0.5"/>
<line x1="530.11" y1="31.27" x2="530.11" y2="100.89" stroke="#b5b5b5" stroke-width="0.45"/>
<line x1="528.81" y1="31.27" x2="531.4" y2="31.27" stroke="#b5b5b5" stroke-width="0.5"/>
<line x1="528.81" y1="100.89" x2="531.4" y2="100.89" stroke="#b5b5b5" stroke-width="0.5"/>
<line x1="532.75" y1="31.53" x2="532.75" y2="101.12" stroke="#b5b5b5" stroke-width="0.45"/>
<line x1="531.45" y1="31.53" x2="534.05" y2="31.53" stroke="#b5b5b5" stroke-width="0.5"/>
<line x1="531.45" y1="101.12" x2="534.05" y2="101.12" stroke="#b5b5b5" stroke-width="0.5"/>
<line x1="535.39" y1="31.8" x2="535.39" y2="101.35" stroke="#b5b5b5" stroke-width="0.45"/>
<line x1="534.1" y1="31.8" x2="536.69" y2="31.8" stroke="#b5b5b5" stroke-width="0.5"/>
<line x1="534.1" y1="101.35" x2="536.69" y2="101.35" stroke="#b5b5b5" stroke-width="0.5"/>
<line x1="538.04" y1="32.07" x2="538.04" y2="101.57" stroke="#b5b5b5" stroke-width="0.45"/>
<line x1="536.74" y1="32.07" x2="539.34" y2="32.07" stroke="#b5b5b5" stroke-width="0.5"/>
<line x1="536.74" y1="101.57" x2="539.34" y2="101.57" stroke="#b5b5b5" stroke-width="0.5"/>
<line x1="540.69" y1="32.33" x2="540.69" y2="101.8" stroke="#b5b5b5" stroke-width="0.45"/>
<line x1="539.39" y1="32.33" x2="541.99" y2="32.33" stroke="#b5b5b5" stroke-width="0.5"/>
<line x1="539.39" y1="101.8" x2="541.99" y2="101.8" stroke="#b5b5b5" stroke-width="0.5"/>
<line x1="543.33" y1="32.6" x2="543.33" y2="102.03" stroke="#b5b5b5" stroke-width="0.45"/>
<line x1="542.03" y1="32.6" x2="544.63" y2="32.6" stroke="#b5b5b5" stroke-width="0.5"/>
<line x1="542.03" y1="102.03" x2="544.63" y2="102.03" stroke="#b5b5b5" stroke-width="0.5"/>
<line x1="545.98" y1="32.86" x2="545.98" y2="102.26" stroke="#b5b5b5" stroke-width="0.45"/>
<line x1="544.68" y1="32.86" x2="547.27" y2="32.86" stroke="#b5b5b5" stroke-width="0.5"/>
<line x1="544.68" y1="102.26" x2="547.27" y2="102.26" stroke="#b5b5b5" stroke-width="0.5"/>
<line x1="548.62" y1="33.13" x2="548.62" y2="102.49" stroke="#b5b5b5" stroke-width="0.45"/>
<line x1="547.32" y1="33.13" x2="549.92" y2="33.13" stroke="#b5b5b5" stroke-width="0.5"/>
<line x1="547.32" y1="102.49" x2="549.92" y2="102.49" stroke="#b5b5b5" stroke-width="0.5"/>
<line x1="551.26" y1="33.45" x2="551.26" y2="102.77" stroke="#b5b5b5" stroke-width="0.45"/>
<line x1="549.97" y1="33.45" x2="552.56" y2="33.45" stroke="#b5b5b5" stroke-width="0.5"/>
<line x1="549.97" y1="102.77" x2="552.56" y2="102.77" stroke="#b5b5b5" stroke-width="0.5"/>
<line x1="553.91" y1="33.82" x2="553.91" y2="103.11" stroke="#b5b5b5" stroke-width="0.45"/>
<line x1="552.61" y1="33.82" x2="555.21" y2="33.82" stroke="#b5b5b5" stroke-width="0.5"/>
<line x1="552.61" y1="103.11" x2="555.21" y2="103.11" stroke="#b5b5b5" stroke-width="0.5"/>
<line x1="556.56" y1="34.2" x2="556.56" y2="103.45" stroke="#b5b5b5" stroke-width="0.45"/>
<line x1="555.26" y1="34.2" x2="557.86" y2="34.2" stroke="#b5b5b5" stroke-width="0.5"/>
<line x1="555.26" y1="103.45" x2="557.86" y2="103.45" stroke="#b5b5b5" stroke-width="0.5"/>
<line x1="559.2" y1="34.58" x2="559.2" y2="103.79" stroke="#b5b5b5" stroke-width="0.45"/>
<line x1="557.9" y1="34.58" x2="560.5" y2="34.58" stroke="#b5b5b5" stroke-width="0.5"/>
<line x1="557.9" y1="103.79" x2="560.5" y2="103.79" stroke="#b5b5b5" stroke-width="0.5"/>
<line x1="561.85" y1="34.96" x2="561.85" y2="104.13" stroke="#b5b5b5" stroke-width="0.45"/>
<line x1="560.55" y1="34.96" x2="563.14" y2="34.96" stroke="#b5b5b5" stroke-width="0.5"/>
<line x1="560.55" y1="104.13" x2="563.14" y2="104.13" stroke="#b5b5b5" stroke-width="0.5"/>
<line x1="564.49" y1="35.34" x2="564.49" y2="104.47" stroke="#b5b5b5" stroke-width="0.45"/>
<line x1="563.19" y1="35.34" x2="565.79" y2="35.34" stroke="#b5b5b5" stroke-width="0.5"/>
<line x1="563.19" y1="104.47" x2="565.79" y2="104.47" stroke="#b5b5b5" stroke-width="0.5"/>
<line x1="567.13" y1="35.76" x2="567.13" y2="104.86" stroke="#b5b5b5" stroke-width="0.45"/>
<line x1="565.84" y1="35.76" x2="568.43" y2="35.76" stroke="#b5b5b5" stroke-width="0.5"/>
<line x1="565.84" y1="104.86" x2="568.43" y2="104.86" stroke="#b5b5b5" stroke-width="0.5"/>
<line x1="569.78" y1="36.19" x2="569.78" y2="105.26" stroke="#b5b5b5" stroke-width="0.45"/>
<line x1="568.48" y1="36.19" x2="571.08" y2="36.19" stroke="#b5b5b5" stroke-width="0.5"/>
<line x1="568.48" y1="105.26" x2="571.08" y2="105.26" stroke="#b5b5b5" stroke-width="0.5"/>
<line x1="572.42" y1="36.62" x2="572.42" y2="105.65" stroke="#b5b5b5" stroke-width="0.45"/>
<line x1="571.12" y1="36.62" x2="573.72" y2="36.62" stroke="#b5b5b5" stroke-width="0.5"/>
<line x1="571.12" y1="105.65" x2="573.72" y2="105.65" stroke="#b5b5b5" stroke-width="0.5"/>
<line x1="575.07" y1="37.06" x2="575.07" y2="106.05" stroke="#b5b5b5" stroke-width="0.45"/>
<line x1="573.77" y1="37.06" x2="576.37" y2="37.06" stroke="#b5b5b5" stroke-width="0.5"/>
<line x1="573.77" y1="106.05" x2="576.37" y2="106.05" stroke="#b5b5b5" stroke-width="0.5"/>
<line x1="577.72" y1="37.49" x2="577.72" y2="106.44" stroke="#b5b5b5" stroke-width="0.45"/>
<line x1="576.42" y1="37.49" x2="579.01" y2="37.49" stroke="#b5b5b5" stroke-width="0.5"/>
<line x1="576.42" y1="106.44" x2="579.01" y2="106.44" stroke="#b5b5b5" stroke-width="0.5"/>
<line x1="580.36" y1="37.74" x2="580.36" y2="106.66" stroke="#b5b5b5" stroke-width="0.45"/>
<line x1="579.06" y1="37.74" x2="581.66" y2="37.74" stroke="#b5b5b5" stroke-width="0.5"/>
<line x1="579.06" y1="106.66" x2="581.66" y2="106.66" stroke="#b5b5b5" stroke-width="0.5"/>
<line x1="583" y1="37.96" x2="583" y2="106.84" stroke="#b5b5b5" stroke-width="0.45"/>
<line x1="581.71" y1="37.96" x2="584.3" y2="37.96" stroke="#b5b5b5" stroke-width="0.5"/>
<line x1="581.71" y1="106.84" x2="584.3" y2="106.84" stroke="#b5b5b5" stroke-width="0.5"/>
<line x1="585.65" y1="38.19" x2="585.65" y2="107.03" stroke="#b5b5b5" stroke-width="0.45"/>
<line x1="584.35" y1="38.19" x2="586.95" y2="38.19" stroke="#b5b5b5" stroke-width="0.5"/>
<line x1="584.35" y1="107.03" x2="586.95" y2="107.03" stroke="#b5b5b5" stroke-width="0.5"/>
<line x1="588.3" y1="38.42" x2="588.3" y2="107.22" stroke="#b5b5b5" stroke-width="0.45"/>
<line x1="587" y1="38.42" x2="589.6" y2="38.42" stroke="#b5b5b5" stroke-width="0.5"/>
<line x1="587" y1="107.22" x2="589.6" y2="107.22" stroke="#b5b5b5" stroke-width="0.5"/>
<line x1="590.94" y1="38.64" x2="590.94" y2="107.41" stroke="#b5b5b5" stroke-width="0.45"/>
<line x1="589.64" y1="38.64" x2="592.24" y2="38.64" stroke="#b5b5b5" stroke-width="0.5"/>
<line x1="589.64" y1="107.41" x2="592.24" y2="107.41" stroke="#b5b5b5" stroke-width="0.5"/>
<line x1="593.59" y1="38.61" x2="593.59" y2="107.16" stroke="#b5b5b5" stroke-width="0.45"/>
<line x1="592.29" y1="38.61" x2="594.88" y2="38.61" stroke="#b5b5b5" stroke-width="0.5"/>
<line x1="592.29" y1="107.16" x2="594.88" y2="107.16" stroke="#b5b5b5" stroke-width="0.5"/>
<line x1="596.23" y1="38.57" x2="596.23" y2="106.9" stroke="#b5b5b5" stroke-width="0.45"/>
<line x1="594.93" y1="38.57" x2="597.53" y2="38.57" stroke="#b5b5b5" stroke-width="0.5"/>
<line x1="594.93" y1="106.9" x2="597.53" y2="106.9" stroke="#b5b5b5" stroke-width="0.5"/>
<line x1="598.88" y1="38.53" x2="598.88" y2="106.64" stroke="#b5b5b5" stroke-width="0.45"/>
<line x1="597.58" y1="38.53" x2="600.17" y2="38.53" stroke="#b5b5b5" stroke-width="0.5"/>
<line x1="597.58" y1="106.64" x2="600.17" y2="106.64" stroke="#b5b5b5" stroke-width="0.5"/>
<line x1="601.52" y1="38.33" x2="601.52" y2="106.2" stroke="#b5b5b5" stroke-width="0.45"/>
<line x1="600.22" y1="38.33" x2="602.82" y2="38.33" stroke="#b5b5b5" stroke-width="0.5"/>
<line x1="600.22" y1="106.2" x2="602.82" y2="106.2" stroke="#b5b5b5" stroke-width="0.5"/>
<line x1="604.16" y1="37.99" x2="604.16" y2="105.64" stroke="#b5b5b5" stroke-width="0.45"/>
<line x1="602.87" y1="37.99" x2="605.46" y2="37.99" stroke="#b5b5b5" stroke-width="0.5"/>
<line x1="602.87" y1="105.64" x2="605.46" y2="105.64" stroke="#b5b5b5" stroke-width="0.5"/>
<line x1="606.81" y1="37.47" x2="606.81" y2="104.89" stroke="#b5b5b5" stroke-width="0.45"/>
<line x1="605.51" y1="37.47" x2="608.11" y2="37.47" stroke="#b5b5b5" stroke-width="0.5"/>
<line x1="605.51" y1="104.89" x2="608.11" y2="104.89" stroke="#b5b5b5" stroke-width="0.5"/>
<line x1="609.46" y1="36.53" x2="609.46" y2="103.73" stroke="#b5b5b5" stroke-width="0.45"/>
<line x1="608.16" y1="36.53" x2="610.75" y2="36.53" stroke="#b5b5b5" stroke-width="0.5"/>
<line x1="608.16" y1="103.73" x2="610.75" y2="103.73" stroke="#b5b5b5" stroke-width="0.5"/>
<line x1="612.1" y1="35.57" x2="612.1" y2="102.54" stroke="#b5b5b5" stroke-width="0.45"/>
<line x1="610.8" y1="35.57" x2="613.4" y2="35.57" stroke="#b5b5b5" stroke-width="0.5"/>
<line x1="610.8" y1="102.54" x2="613.4" y2="102.54" stroke="#b5b5b5" stroke-width="0.5"/>
<line x1="614.75" y1="33.83" x2="614.75" y2="100.58" stroke="#b5b5b5" stroke-width="0.45"/>
<line x1="613.45" y1="33.83" x2="616.04" y2="33.83" stroke="#b5b5b5" stroke-width="0.5"/>
<line x1="613.45" y1="100.58" x2="616.04" y2="100.58" stroke="#b5b5b5" stroke-width="0.5"/>
<line x1="617.39" y1="32.09" x2="617.39" y2="98.61" stroke="#b5b5b5" stroke-width="0.45"/>
<line x1="616.09" y1="32.09" x2="618.69" y2="32.09" stroke="#b5b5b5" stroke-width="0.5"/>
<line x1="616.09" y1="98.61" x2="618.69" y2="98.61" stroke="#b5b5b5" stroke-width="0.5"/>
<line x1="620.03" y1="30.35" x2="620.03" y2="96.65" stroke="#b5b5b5" stroke-width="0.45"/>
<line x1="618.74" y1="30.35" x2="621.33" y2="30.35" stroke="#b5b5b5" stroke-width="0.5"/>
<line x1="618.74" y1="96.65" x2="621.33" y2="96.65" stroke="#b5b5b5" stroke-width="0.5"/>
<line x1="622.68" y1="28.81" x2="622.68" y2="94.89" stroke="#b5b5b5" stroke-width="0.45"/>
<line x1="621.38" y1="28.81" x2="623.98" y2="28.81" stroke="#b5b5b5" stroke-width="0.5"/>
<line x1="621.38" y1="94.89" x2="623.98" y2="94.89" stroke="#b5b5b5" stroke-width="0.5"/>
<line x1="625.33" y1="27.28" x2="625.33" y2="93.13" stroke="#b5b5b5" stroke-width="0.45"/>
<line x1="624.03" y1="27.28" x2="626.62" y2="27.28" stroke="#b5b5b5" stroke-width="0.5"/>
<line x1="624.03" y1="93.13" x2="626.62" y2="93.13" stroke="#b5b5b5" stroke-width="0.5"/>
<line x1="627.97" y1="26.13" x2="627.97" y2="91.77" stroke="#b5b5b5" stroke-width="0.45"/>
<line x1="626.67" y1="26.13" x2="629.27" y2="26.13" stroke="#b5b5b5" stroke-width="0.5"/>
<line x1="626.67" y1="91.77" x2="629.27" y2="91.77" stroke="#b5b5b5" stroke-width="0.5"/>
<line x1="630.62" y1="25.12" x2="630.62" y2="90.53" stroke="#b5b5b5" stroke-width="0.45"/>
<line x1="629.32" y1="25.12" x2="631.91" y2="25.12" stroke="#b5b5b5" stroke-width="0.5"/>
<line x1="629.32" y1="90.53" x2="631.91" y2="90.53" stroke="#b5b5b5" stroke-width="0.5"/>
<line x1="633.26" y1="24.43" x2="633.26" y2="89.62" stroke="#b5b5b5" stroke-width="0.45"/>
<line x1="631.96" y1="24.43" x2="634.56" y2="24.43" stroke="#b5b5b5" stroke-width="0.5"/>
<line x1="631.96" y1="89.62" x2="634.56" y2="89.62" stroke="#b5b5b5" stroke-width="0.5"/>
<line x1="635.9" y1="24.1" x2="635.9" y2="89.05" stroke="#b5b5b5" stroke-width="0.45"/>
<line x1="634.61" y1="24.1" x2="637.2" y2="24.1" stroke="#b5b5b5" stroke-width="0.5"/>
<line x1="634.61" y1="89.05" x2="637.2" y2="89.05" stroke="#b5b5b5" stroke-width="0.5"/>
<line x1="638.55" y1="23.76" x2="638.55" y2="88.49" stroke="#b5b5b5" stroke-width="0.45"/>
<line x1="637.25" y1="23.76" x2="639.85" y2="23.76" stroke="#b5b5b5" stroke-width="0.5"/>
<line x1="637.25" y1="88.49" x2="639.85" y2="88.49" stroke="#b5b5b5" stroke-width="0.5"/>
<line x1="641.2" y1="23.45" x2="641.2" y2="87.97" stroke="#b5b5b5" stroke-width="0.45"/>
<line x1="639.9" y1="23.45" x2="642.5" y2="23.45" stroke="#b5b5b5" stroke-width="0.5"/>
<line x1="639.9" y1="87.97" x2="642.5" y2="87.97" stroke="#b5b5b5" stroke-width="0.5"/>
<circle cx="506.3" cy="64.74" r="0.8" fill="#4f6140"/>
<circle cx="508.94" cy="64.89" r="0.8" fill="#4f6140"/>
<circle cx="511.59" cy="65.04" r="0.8" fill="#4f6140"/>
<circle cx="514.24" cy="65.18" r="0.8" fill="#4f6140"/>
<circle cx="516.88" cy="65.33" r="0.8" fill="#4f6140"/>
<circle cx="519.52" cy="65.48" r="0.8" fill="#4f6140"/>
<circle cx="522.17" cy="65.63" r="0.8" fill="#4f6140"/>
<circle cx="524.82" cy="65.78" r="0.8" fill="#4f6140"/>
<circle cx="527.46" cy="65.93" r="0.8" fill="#4f6140"/>
<circle cx="530.11" cy="66.08" r="0.8" fill="#4f6140"/>
<circle cx="532.75" cy="66.33" r="0.8" fill="#4f6140"/>
<circle cx="535.39" cy="66.57" r="0.8" fill="#4f6140"/>
<circle cx="538.04" cy="66.82" r="0.8" fill="#4f6140"/>
<circle cx="540.69" cy="67.07" r="0.8" fill="#4f6140"/>
<circle cx="543.33" cy="67.31" r="0.8" fill="#4f6140"/>
<circle cx="545.98" cy="67.56" r="0.8" fill="#4f6140"/>
<circle cx="548.62" cy="67.81" r="0.8" fill="#4f6140"/>
<circle cx="551.26" cy="68.11" r="0.8" fill="#4f6140"/>
<circle cx="553.91" cy="68.47" r="0.8" fill="#4f6140"/>
<circle cx="556.56" cy="68.83" r="0.8" fill="#4f6140"/>
<circle cx="559.2" cy="69.19" r="0.8" fill="#4f6140"/>
<circle cx="561.85" cy="69.55" r="0.8" fill="#4f6140"/>
<circle cx="564.49" cy="69.9" r="0.8" fill="#4f6140"/>
<circle cx="567.13" cy="70.31" r="0.8" fill="#4f6140"/>
<circle cx="569.78" cy="70.72" r="0.8" fill="#4f6140"/>
<circle cx="572.42" cy="71.14" r="0.8" fill="#4f6140"/>
<circle cx="575.07" cy="71.55" r="0.8" fill="#4f6140"/>
<circle cx="577.72" cy="71.97" r="0.8" fill="#4f6140"/>
<circle cx="580.36" cy="72.2" r="0.8" fill="#4f6140"/>
<circle cx="583" cy="72.4" r="0.8" fill="#4f6140"/>
<circle cx="585.65" cy="72.61" r="0.8" fill="#4f6140"/>
<circle cx="588.3" cy="72.82" r="0.8" fill="#4f6140"/>
<circle cx="590.94" cy="73.03" r="0.8" fill="#4f6140"/>
<circle cx="593.59" cy="72.88" r="0.8" fill="#4f6140"/>
<circle cx="596.23" cy="72.73" r="0.8" fill="#4f6140"/>
<circle cx="598.88" cy="72.58" r="0.8" fill="#4f6140"/>
<circle cx="601.52" cy="72.26" r="0.8" fill="#4f6140"/>
<circle cx="604.16" cy="71.81" r="0.8" fill="#4f6140"/>
<circle cx="606.81" cy="71.18" r="0.8" fill="#4f6140"/>
<circle cx="609.46" cy="70.13" r="0.8" fill="#4f6140"/>
<circle cx="612.1" cy="69.06" r="0.8" fill="#4f6140"/>
<circle cx="614.75" cy="67.2" r="0.8" fill="#4f6140"/>
<circle cx="617.39" cy="65.35" r="0.8" fill="#4f6140"/>
<circle cx="620.03" cy="63.5" r="0.8" fill="#4f6140"/>
<circle cx="622.68" cy="61.85" r="0.8" fill="#4f6140"/>
<circle cx="625.33" cy="60.21" r="0.8" fill="#4f6140"/>
<circle cx="627.97" cy="58.95" r="0.8" fill="#4f6140"/>
<circle cx="630.62" cy="57.83" r="0.8" fill="#4f6140"/>
<circle cx="633.26" cy="57.03" r="0.8" fill="#4f6140"/>
<circle cx="635.9" cy="56.58" r="0.8" fill="#4f6140"/>
<circle cx="638.55" cy="56.13" r="0.8" fill="#4f6140"/>
<circle cx="641.2" cy="55.71" r="0.8" fill="#4f6140"/>
<line x1="591.5" y1="18.9" x2="591.5" y2="234.3" stroke="#333" stroke-width="0.55" stroke-dasharray="1,1"/>
<rect x="500.4" y="139.5" width="145" height="94.8" fill="none" stroke="#555" stroke-width="0.7"/>
<line x1="497.7" y1="158.48" x2="500.4" y2="158.48" stroke="#444" stroke-width="0.5"/>
<line x1="497.7" y1="177.34" x2="500.4" y2="177.34" stroke="#444" stroke-width="0.5"/>
<line x1="497.7" y1="196.2" x2="500.4" y2="196.2" stroke="#444" stroke-width="0.5"/>
<line x1="497.7" y1="215.06" x2="500.4" y2="215.06" stroke="#444" stroke-width="0.5"/>
<line x1="497.7" y1="233.92" x2="500.4" y2="233.92" stroke="#444" stroke-width="0.5"/>
<text transform="translate(481.3,190.4) rotate(-90)" font-size="5.5" fill="#222" text-anchor="middle" stroke="#222" stroke-width="0.16">Coefficients</text>
<line x1="516.5" y1="234.3" x2="516.5" y2="236.8" stroke="#444" stroke-width="0.5"/>
<line x1="544.28" y1="234.3" x2="544.28" y2="236.8" stroke="#444" stroke-width="0.5"/>
<line x1="572.06" y1="234.3" x2="572.06" y2="236.8" stroke="#444" stroke-width="0.5"/>
<line x1="599.84" y1="234.3" x2="599.84" y2="236.8" stroke="#444" stroke-width="0.5"/>
<line x1="627.62" y1="234.3" x2="627.62" y2="236.8" stroke="#444" stroke-width="0.5"/>
<path d="M506.3,231.09 L508.3,231.07 L510.3,231.01 L512.3,230.92 L514.3,230.81 L516.3,230.68 L518.3,230.52 L520.3,230.35 L522.3,230.15 L524.3,229.93 L526.3,229.7 L528.3,229.44 L530.3,229.17 L532.3,228.88 L534.3,228.57 L536.3,228.25 L538.3,227.91 L540.3,227.55 L542.3,227.17 L544.3,226.78 L546.3,226.37 L548.3,225.95 L550.3,225.51 L552.3,225.06 L554.3,224.59 L556.3,224.11 L558.3,223.61 L560.3,223.09 L562.3,222.56 L564.3,222.02 L566.3,221.46 L568.3,220.89 L570.3,220.3 L572.3,219.7 L574.3,219.09 L576.3,218.46 L578.3,217.82 L580.3,217.16 L582.3,216.5 L584.3,215.81 L586.3,215.12 L588.3,214.41 L590.3,213.68 L592.3,212.95 L594.3,212.2 L596.3,211.44 L598.3,210.66 L600.3,209.87 L602.3,209.07 L604.3,208.26 L606.3,207.43 L608.3,206.59 L610.3,205.74 L612.3,204.88 L614.3,204 L616.3,203.11 L618.3,202.21 L620.3,201.3 L622.3,200.37 L624.3,199.43 L626.3,198.48 L628.3,197.52 L630.3,196.54 L632.3,196.2 L634.3,196.2 L636.3,196.2 L638.3,196.2 L640.3,196.2" fill="none" stroke="#8b3a2a" stroke-width="1.3" stroke-linejoin="round"/>
<path d="M506.3,220.72 L508.3,220.72 L510.3,220.72 L512.3,220.71 L514.3,220.71 L516.3,220.7 L518.3,220.68 L520.3,220.66 L522.3,220.64 L524.3,220.61 L526.3,220.57 L528.3,220.53 L530.3,220.47 L532.3,220.41 L534.3,220.34 L536.3,220.26 L538.3,220.17 L540.3,220.07 L542.3,219.96 L544.3,219.84 L546.3,219.7 L548.3,219.55 L550.3,219.39 L552.3,219.22 L554.3,219.03 L556.3,218.82 L558.3,218.6 L560.3,218.36 L562.3,218.11 L564.3,217.84 L566.3,217.56 L568.3,217.25 L570.3,216.93 L572.3,216.59 L574.3,216.23 L576.3,215.85 L578.3,215.45 L580.3,215.03 L582.3,214.59 L584.3,214.13 L586.3,213.64 L588.3,213.14 L590.3,212.61 L592.3,212.06 L594.3,211.48 L596.3,210.88 L598.3,210.25 L600.3,209.61 L602.3,208.93 L604.3,208.23 L606.3,207.5 L608.3,206.75 L610.3,205.97 L612.3,205.16 L614.3,204.33 L616.3,203.46 L618.3,202.57 L620.3,201.65 L622.3,200.69 L624.3,199.71 L626.3,198.7 L628.3,197.66 L630.3,196.58 L632.3,196.2 L634.3,196.2 L636.3,196.2 L638.3,196.2 L640.3,196.2" fill="none" stroke="#cd4438" stroke-width="1.3" stroke-linejoin="round"/>
<path d="M506.3,217.32 L508.3,217.28 L510.3,217.2 L512.3,217.09 L514.3,216.96 L516.3,216.82 L518.3,216.66 L520.3,216.49 L522.3,216.3 L524.3,216.11 L526.3,215.9 L528.3,215.68 L530.3,215.45 L532.3,215.21 L534.3,214.96 L536.3,214.71 L538.3,214.44 L540.3,214.17 L542.3,213.88 L544.3,213.59 L546.3,213.29 L548.3,212.99 L550.3,212.67 L552.3,212.35 L554.3,212.03 L556.3,211.69 L558.3,211.35 L560.3,211 L562.3,210.65 L564.3,210.29 L566.3,209.92 L568.3,209.55 L570.3,209.17 L572.3,208.78 L574.3,208.39 L576.3,207.99 L578.3,207.59 L580.3,207.18 L582.3,206.77 L584.3,206.35 L586.3,205.93 L588.3,205.49 L590.3,205.06 L592.3,204.62 L594.3,204.17 L596.3,203.72 L598.3,203.27 L600.3,202.81 L602.3,202.34 L604.3,201.87 L606.3,201.39 L608.3,200.91 L610.3,200.43 L612.3,199.94 L614.3,199.44 L616.3,198.95 L618.3,198.44 L620.3,197.93 L622.3,197.42 L624.3,196.9 L626.3,196.38 L628.3,196.2 L630.3,196.2 L632.3,196.2 L634.3,196.2 L636.3,196.2 L638.3,196.2 L640.3,196.2" fill="none" stroke="#dbb25a" stroke-width="1.3" stroke-linejoin="round"/>
<path d="M506.3,183.19 L508.3,183.19 L510.3,183.19 L512.3,183.19 L514.3,183.19 L516.3,183.19 L518.3,183.19 L520.3,183.19 L522.3,183.19 L524.3,183.19 L526.3,183.2 L528.3,183.2 L530.3,183.21 L532.3,183.21 L534.3,183.22 L536.3,183.23 L538.3,183.25 L540.3,183.27 L542.3,183.29 L544.3,183.31 L546.3,183.34 L548.3,183.37 L550.3,183.41 L552.3,183.45 L554.3,183.5 L556.3,183.56 L558.3,183.62 L560.3,183.69 L562.3,183.77 L564.3,183.86 L566.3,183.96 L568.3,184.06 L570.3,184.18 L572.3,184.31 L574.3,184.46 L576.3,184.61 L578.3,184.78 L580.3,184.97 L582.3,185.17 L584.3,185.38 L586.3,185.62 L588.3,185.87 L590.3,186.14 L592.3,186.43 L594.3,186.74 L596.3,187.08 L598.3,187.44 L600.3,187.82 L602.3,188.23 L604.3,188.66 L606.3,189.12 L608.3,189.61 L610.3,190.13 L612.3,190.68 L614.3,191.26 L616.3,191.87 L618.3,192.52 L620.3,193.21 L622.3,193.93 L624.3,194.69 L626.3,195.49 L628.3,196.2 L630.3,196.2 L632.3,196.2 L634.3,196.2 L636.3,196.2 L638.3,196.2 L640.3,196.2" fill="none" stroke="#ebdfc6" stroke-width="1.3" stroke-linejoin="round"/>
<path d="M506.3,179.6 L508.3,179.6 L510.3,179.6 L512.3,179.6 L514.3,179.6 L516.3,179.6 L518.3,179.6 L520.3,179.6 L522.3,179.6 L524.3,179.6 L526.3,179.6 L528.3,179.61 L530.3,179.61 L532.3,179.61 L534.3,179.61 L536.3,179.61 L538.3,179.62 L540.3,179.62 L542.3,179.63 L544.3,179.63 L546.3,179.64 L548.3,179.65 L550.3,179.66 L552.3,179.68 L554.3,179.7 L556.3,179.72 L558.3,179.74 L560.3,179.77 L562.3,179.8 L564.3,179.84 L566.3,179.89 L568.3,179.94 L570.3,180 L572.3,180.06 L574.3,180.14 L576.3,180.22 L578.3,180.31 L580.3,180.42 L582.3,180.53 L584.3,180.66 L586.3,180.8 L588.3,180.96 L590.3,181.13 L592.3,181.33 L594.3,181.53 L596.3,181.76 L598.3,182.02 L600.3,182.29 L602.3,182.59 L604.3,182.91 L606.3,183.26 L608.3,183.64 L610.3,184.06 L612.3,184.5 L614.3,184.98 L616.3,185.5 L618.3,186.05 L620.3,186.65 L622.3,187.29 L624.3,187.98 L626.3,188.71 L628.3,189.5 L630.3,190.33 L632.3,191.23 L634.3,192.18 L636.3,193.19 L638.3,194.27 L640.3,195.42" fill="none" stroke="#a6cfb2" stroke-width="1.3" stroke-linejoin="round"/>
<path d="M506.3,167.91 L508.3,167.91 L510.3,167.91 L512.3,167.91 L514.3,167.92 L516.3,167.92 L518.3,167.93 L520.3,167.94 L522.3,167.96 L524.3,167.98 L526.3,168 L528.3,168.03 L530.3,168.07 L532.3,168.11 L534.3,168.16 L536.3,168.22 L538.3,168.28 L540.3,168.36 L542.3,168.44 L544.3,168.54 L546.3,168.64 L548.3,168.76 L550.3,168.88 L552.3,169.02 L554.3,169.17 L556.3,169.34 L558.3,169.52 L560.3,169.71 L562.3,169.92 L564.3,170.14 L566.3,170.38 L568.3,170.63 L570.3,170.9 L572.3,171.19 L574.3,171.5 L576.3,171.83 L578.3,172.17 L580.3,172.54 L582.3,172.92 L584.3,173.33 L586.3,173.76 L588.3,174.21 L590.3,174.68 L592.3,175.17 L594.3,175.69 L596.3,176.24 L598.3,176.8 L600.3,177.4 L602.3,178.02 L604.3,178.66 L606.3,179.33 L608.3,180.03 L610.3,180.76 L612.3,181.51 L614.3,182.3 L616.3,183.11 L618.3,183.96 L620.3,184.83 L622.3,185.74 L624.3,186.68 L626.3,187.65 L628.3,188.65 L630.3,189.69 L632.3,190.76 L634.3,191.86 L636.3,193 L638.3,194.18 L640.3,195.39" fill="none" stroke="#3e8b69" stroke-width="1.3" stroke-linejoin="round"/>
<path d="M506.3,143.39 L508.3,143.45 L510.3,143.58 L512.3,143.76 L514.3,143.98 L516.3,144.24 L518.3,144.53 L520.3,144.87 L522.3,145.23 L524.3,145.62 L526.3,146.05 L528.3,146.5 L530.3,146.98 L532.3,147.48 L534.3,148.02 L536.3,148.57 L538.3,149.16 L540.3,149.76 L542.3,150.39 L544.3,151.05 L546.3,151.72 L548.3,152.42 L550.3,153.14 L552.3,153.88 L554.3,154.65 L556.3,155.43 L558.3,156.24 L560.3,157.06 L562.3,157.91 L564.3,158.77 L566.3,159.66 L568.3,160.56 L570.3,161.48 L572.3,162.43 L574.3,163.39 L576.3,164.37 L578.3,165.36 L580.3,166.38 L582.3,167.41 L584.3,168.47 L586.3,169.54 L588.3,170.62 L590.3,171.73 L592.3,172.85 L594.3,173.99 L596.3,175.14 L598.3,176.32 L600.3,177.51 L602.3,178.71 L604.3,179.93 L606.3,181.17 L608.3,182.43 L610.3,183.7 L612.3,184.99 L614.3,186.29 L616.3,187.61 L618.3,188.94 L620.3,190.29 L622.3,191.66 L624.3,193.04 L626.3,194.43 L628.3,195.84 L630.3,196.2 L632.3,196.2 L634.3,196.2 L636.3,196.2 L638.3,196.2 L640.3,196.2" fill="none" stroke="#2d6f69" stroke-width="1.3" stroke-linejoin="round"/>
<rect x="651" y="157.95" width="3.5" height="3.5" fill="#2d6f69"/>
<rect x="651" y="167.9" width="3.5" height="3.5" fill="#3e8b69"/>
<rect x="651" y="177.85" width="3.5" height="3.5" fill="#a6cfb2"/>
<rect x="651" y="187.8" width="3.5" height="3.5" fill="#ebdfc6"/>
<rect x="651" y="197.75" width="3.5" height="3.5" fill="#dbb25a"/>
<rect x="651" y="207.7" width="3.5" height="3.5" fill="#cd4438"/>
<rect x="651" y="217.65" width="3.5" height="3.5" fill="#8b3a2a"/>
<text x="374.4" y="280.2" font-size="9.26" fill="#222" stroke="#222" stroke-width="0.23" textLength="118.9" lengthAdjust="spacingAndGlyphs">Training Dataset TCGA-CRC</text>
<rect x="373.3" y="288.5" width="120.2" height="26.1" fill="none" stroke="#8a8a8a" stroke-width="0.6"/>
<line x1="371.7" y1="290.7" x2="373.3" y2="290.7" stroke="#666" stroke-width="0.4"/>
<line x1="371.7" y1="296.5" x2="373.3" y2="296.5" stroke="#666" stroke-width="0.4"/>
<line x1="371.7" y1="302.3" x2="373.3" y2="302.3" stroke="#666" stroke-width="0.4"/>
<line x1="371.7" y1="308.2" x2="373.3" y2="308.2" stroke="#666" stroke-width="0.4"/>
<line x1="371.7" y1="313.7" x2="373.3" y2="313.7" stroke="#666" stroke-width="0.4"/>
<text transform="translate(363.2,302.05) rotate(-90)" font-size="6.1" fill="#222" text-anchor="middle" stroke="#222" stroke-width="0.18">Risk Score</text>
<line x1="393.95" y1="314.6" x2="393.95" y2="316" stroke="#666" stroke-width="0.4"/>
<line x1="393.95" y1="346.5" x2="393.95" y2="347.9" stroke="#666" stroke-width="0.4"/>
<line x1="414.6" y1="314.6" x2="414.6" y2="316" stroke="#666" stroke-width="0.4"/>
<line x1="414.6" y1="346.5" x2="414.6" y2="347.9" stroke="#666" stroke-width="0.4"/>
<line x1="435.25" y1="314.6" x2="435.25" y2="316" stroke="#666" stroke-width="0.4"/>
<line x1="435.25" y1="346.5" x2="435.25" y2="347.9" stroke="#666" stroke-width="0.4"/>
<line x1="455.9" y1="314.6" x2="455.9" y2="316" stroke="#666" stroke-width="0.4"/>
<line x1="455.9" y1="346.5" x2="455.9" y2="347.9" stroke="#666" stroke-width="0.4"/>
<line x1="476.55" y1="314.6" x2="476.55" y2="316" stroke="#666" stroke-width="0.4"/>
<line x1="476.55" y1="346.5" x2="476.55" y2="347.9" stroke="#666" stroke-width="0.4"/>
<path d="M373.4,313.32 L373.61,312.35 L373.81,311.38 L374.02,310.41 L374.23,309.86 L374.43,309.6 L374.64,309.35 L374.84,309.09 L375.05,308.84 L375.26,308.6 L375.46,308.47 L375.67,308.34 L375.87,308.21 L376.08,308.08 L376.28,307.95 L376.49,307.82 L376.7,307.69 L376.9,307.55 L377.11,307.42 L377.31,307.29 L377.52,307.16 L377.73,307.03 L377.93,306.96 L378.14,306.91 L378.34,306.85 L378.55,306.79 L378.75,306.73 L378.96,306.68 L379.17,306.62 L379.37,306.56 L379.58,306.5 L379.78,306.44 L379.99,306.39 L380.2,306.33 L380.4,306.27 L380.61,306.21 L380.81,306.16 L381.02,306.1 L381.22,306.04 L381.43,305.98 L381.64,305.93 L381.84,305.87 L382.05,305.81 L382.25,305.75 L382.46,305.7 L382.66,305.64 L382.87,305.62 L383.08,305.6 L383.28,305.59 L383.49,305.57 L383.69,305.56 L383.9,305.54 L384.11,305.52 L384.31,305.51 L384.52,305.49 L384.72,305.48 L384.93,305.46 L385.13,305.44 L385.34,305.43 L385.55,305.41 L385.75,305.4 L385.96,305.38 L386.16,305.37 L386.37,305.35 L386.58,305.33 L386.78,305.32 L386.99,305.3 L387.19,305.29 L387.4,305.27 L387.6,305.25 L387.81,305.24 L388.02,305.22 L388.22,305.21 L388.43,305.19 L388.63,305.17 L388.84,305.16 L389.05,305.14 L389.25,305.13 L389.46,305.11 L389.66,305.09 L389.87,305.08 L390.07,305.06 L390.28,305.05 L390.49,305.03 L390.69,305.02 L390.9,305 L391.1,304.98 L391.31,304.97 L391.52,304.95 L391.72,304.94 L391.93,304.92 L392.13,304.9 L392.34,304.89 L392.54,304.87 L392.75,304.86 L392.96,304.84 L393.16,304.82 L393.37,304.81 L393.57,304.79 L393.78,304.78 L393.99,304.76 L394.19,304.74 L394.4,304.73 L394.6,304.71 L394.81,304.7 L395.01,304.69 L395.22,304.68 L395.43,304.67 L395.63,304.65 L395.84,304.64 L396.04,304.63 L396.25,304.62 L396.45,304.61 L396.66,304.59 L396.87,304.58 L397.07,304.57 L397.28,304.56 L397.48,304.55 L397.69,304.53 L397.9,304.52 L398.1,304.51 L398.31,304.5 L398.51,304.49 L398.72,304.47 L398.92,304.46 L399.13,304.45 L399.34,304.44 L399.54,304.43 L399.75,304.41 L399.95,304.4 L400.16,304.39 L400.37,304.38 L400.57,304.37 L400.78,304.35 L400.98,304.34 L401.19,304.33 L401.39,304.32 L401.6,304.31 L401.81,304.29 L402.01,304.28 L402.22,304.27 L402.42,304.26 L402.63,304.25 L402.84,304.23 L403.04,304.22 L403.25,304.21 L403.45,304.2 L403.66,304.19 L403.86,304.17 L404.07,304.16 L404.28,304.15 L404.48,304.14 L404.69,304.13 L404.89,304.11 L405.1,304.1 L405.31,304.09 L405.51,304.08 L405.72,304.07 L405.92,304.05 L406.13,304.04 L406.33,304.03 L406.54,304.02 L406.75,304.01 L406.95,303.99 L407.16,303.98 L407.36,303.97 L407.57,303.96 L407.78,303.95 L407.98,303.93 L408.19,303.92 L408.39,303.91 L408.6,303.9 L408.8,303.89 L409.01,303.87 L409.22,303.86 L409.42,303.85 L409.63,303.84 L409.83,303.83 L410.04,303.81 L410.25,303.8 L410.45,303.79 L410.66,303.78 L410.86,303.77 L411.07,303.75 L411.27,303.74 L411.48,303.73 L411.69,303.72 L411.89,303.71 L412.1,303.69 L412.3,303.68 L412.51,303.67 L412.71,303.66 L412.92,303.65 L413.13,303.63 L413.33,303.62 L413.54,303.61 L413.74,303.6 L413.95,303.59 L414.16,303.57 L414.36,303.56 L414.57,303.55 L414.77,303.54 L414.98,303.53 L415.18,303.51 L415.39,303.5 L415.6,303.49 L415.8,303.48 L416.01,303.47 L416.21,303.45 L416.42,303.44 L416.63,303.43 L416.83,303.42 L417.04,303.41 L417.24,303.39 L417.45,303.38 L417.65,303.37 L417.86,303.36 L418.07,303.35 L418.27,303.33 L418.48,303.31 L418.68,303.29 L418.89,303.28 L419.1,303.26 L419.3,303.24 L419.51,303.22 L419.71,303.2 L419.92,303.18 L420.12,303.16 L420.33,303.14 L420.54,303.12 L420.74,303.1 L420.95,303.08 L421.15,303.06 L421.36,303.05 L421.57,303.03 L421.77,303.01 L421.98,302.99 L422.18,302.97 L422.39,302.95 L422.59,302.93 L422.8,302.91 L423.01,302.89 L423.21,302.87 L423.42,302.85 L423.62,302.83 L423.83,302.81 L424.04,302.8 L424.24,302.78 L424.45,302.76 L424.65,302.74 L424.86,302.72 L425.06,302.7 L425.27,302.68 L425.48,302.66 L425.68,302.64 L425.89,302.62 L426.09,302.6 L426.3,302.58 L426.5,302.56 L426.71,302.55 L426.92,302.53 L427.12,302.51 L427.33,302.49 L427.53,302.47 L427.74,302.45 L427.95,302.43 L428.15,302.41 L428.36,302.39 L428.56,302.37 L428.77,302.35 L428.97,302.33 L429.18,302.32 L429.39,302.3 L429.59,302.28 L429.8,302.26 L430,302.24 L430.21,302.22 L430.42,302.2 L430.62,302.18 L430.83,302.16 L431.03,302.14 L431.24,302.12 L431.44,302.1 L431.65,302.08 L431.86,302.07 L432.06,302.05 L432.27,302.03 L432.47,302.01 L432.68,301.99 L432.89,301.97 L433.09,301.95 L433.3,301.93" fill="none" stroke="#3b7f79" stroke-width="1.8" stroke-linejoin="round"/>
<path d="M433.5,301.92 L433.71,301.9 L433.91,301.88 L434.12,301.86 L434.33,301.85 L434.53,301.83 L434.74,301.81 L434.94,301.79 L435.15,301.78 L435.36,301.76 L435.56,301.74 L435.77,301.72 L435.97,301.71 L436.18,301.69 L436.38,301.67 L436.59,301.65 L436.8,301.64 L437,301.62 L437.21,301.6 L437.41,301.58 L437.62,301.57 L437.83,301.55 L438.03,301.53 L438.24,301.51 L438.44,301.5 L438.65,301.48 L438.85,301.46 L439.06,301.44 L439.27,301.43 L439.47,301.41 L439.68,301.39 L439.88,301.37 L440.09,301.36 L440.3,301.34 L440.5,301.32 L440.71,301.3 L440.91,301.29 L441.12,301.27 L441.32,301.25 L441.53,301.23 L441.74,301.22 L441.94,301.2 L442.15,301.18 L442.35,301.16 L442.56,301.15 L442.76,301.13 L442.97,301.11 L443.18,301.09 L443.38,301.08 L443.59,301.06 L443.79,301.04 L444,301.02 L444.21,301 L444.41,300.98 L444.62,300.96 L444.82,300.95 L445.03,300.93 L445.23,300.91 L445.44,300.89 L445.65,300.87 L445.85,300.85 L446.06,300.83 L446.26,300.81 L446.47,300.79 L446.68,300.77 L446.88,300.76 L447.09,300.74 L447.29,300.72 L447.5,300.7 L447.7,300.68 L447.91,300.66 L448.12,300.64 L448.32,300.62 L448.53,300.6 L448.73,300.58 L448.94,300.57 L449.15,300.55 L449.35,300.53 L449.56,300.51 L449.76,300.49 L449.97,300.47 L450.17,300.45 L450.38,300.43 L450.59,300.41 L450.79,300.39 L451,300.38 L451.2,300.36 L451.41,300.34 L451.62,300.32 L451.82,300.3 L452.03,300.28 L452.23,300.26 L452.44,300.24 L452.64,300.22 L452.85,300.2 L453.06,300.19 L453.26,300.17 L453.47,300.15 L453.67,300.13 L453.88,300.11 L454.09,300.09 L454.29,300.07 L454.5,300.05 L454.7,300.03 L454.91,300.01 L455.11,300 L455.32,299.98 L455.53,299.96 L455.73,299.94 L455.94,299.92 L456.14,299.9 L456.35,299.88 L456.55,299.86 L456.76,299.84 L456.97,299.82 L457.17,299.81 L457.38,299.79 L457.58,299.77 L457.79,299.74 L458,299.72 L458.2,299.69 L458.41,299.67 L458.61,299.64 L458.82,299.61 L459.02,299.59 L459.23,299.56 L459.44,299.54 L459.64,299.51 L459.85,299.49 L460.05,299.46 L460.26,299.44 L460.47,299.41 L460.67,299.39 L460.88,299.36 L461.08,299.34 L461.29,299.31 L461.49,299.29 L461.7,299.26 L461.91,299.23 L462.11,299.21 L462.32,299.18 L462.52,299.16 L462.73,299.13 L462.94,299.11 L463.14,299.08 L463.35,299.06 L463.55,299.03 L463.76,299.01 L463.96,298.98 L464.17,298.96 L464.38,298.93 L464.58,298.9 L464.79,298.88 L464.99,298.85 L465.2,298.83 L465.41,298.8 L465.61,298.78 L465.82,298.75 L466.02,298.73 L466.23,298.7 L466.43,298.68 L466.64,298.65 L466.85,298.63 L467.05,298.6 L467.26,298.58 L467.46,298.55 L467.67,298.52 L467.88,298.5 L468.08,298.47 L468.29,298.45 L468.49,298.42 L468.7,298.4 L468.9,298.37 L469.11,298.35 L469.32,298.32 L469.52,298.3 L469.73,298.27 L469.93,298.25 L470.14,298.22 L470.35,298.19 L470.55,298.17 L470.76,298.14 L470.96,298.12 L471.17,298.09 L471.37,298.07 L471.58,298.04 L471.79,298.02 L471.99,297.99 L472.2,297.97 L472.4,297.94 L472.61,297.92 L472.81,297.89 L473.02,297.87 L473.23,297.84 L473.43,297.81 L473.64,297.78 L473.84,297.75 L474.05,297.71 L474.26,297.68 L474.46,297.64 L474.67,297.61 L474.87,297.57 L475.08,297.54 L475.28,297.51 L475.49,297.47 L475.7,297.44 L475.9,297.4 L476.11,297.37 L476.31,297.34 L476.52,297.3 L476.73,297.27 L476.93,297.23 L477.14,297.2 L477.34,297.17 L477.55,297.13 L477.75,297.1 L477.96,297.06 L478.17,297.03 L478.37,296.99 L478.58,296.96 L478.78,296.93 L478.99,296.89 L479.2,296.86 L479.4,296.82 L479.61,296.79 L479.81,296.76 L480.02,296.72 L480.22,296.69 L480.43,296.65 L480.64,296.62 L480.84,296.58 L481.05,296.55 L481.25,296.52 L481.46,296.48 L481.67,296.45 L481.87,296.41 L482.08,296.38 L482.28,296.35 L482.49,296.31 L482.69,296.28 L482.9,296.24 L483.11,296.21 L483.31,296.17 L483.52,296.14 L483.72,296.11 L483.93,296.07 L484.14,296.04 L484.34,296 L484.55,295.97 L484.75,295.94 L484.96,295.9 L485.16,295.87 L485.37,295.81 L485.58,295.74 L485.78,295.67 L485.99,295.61 L486.19,295.54 L486.4,295.47 L486.6,295.4 L486.81,295.34 L487.02,295.27 L487.22,295.2 L487.43,295.14 L487.63,295.07 L487.84,295 L488.05,294.94 L488.25,294.87 L488.46,294.8 L488.66,294.74 L488.87,294.67 L489.07,294.6 L489.28,294.53 L489.49,294.47 L489.69,294.4 L489.9,294.33 L490.1,294.27 L490.31,294.2 L490.52,294.13 L490.72,294.07 L490.93,294 L491.13,293.93 L491.34,293.69 L491.54,293.32 L491.75,292.96 L491.96,292.59 L492.16,292.22 L492.37,291.86 L492.57,291.49 L492.78,291.13 L492.99,290.73 L493.19,290.3 L493.4,289.87" fill="none" stroke="#d4503f" stroke-width="1.8" stroke-linejoin="round"/>
<line x1="433.4" y1="288.5" x2="433.4" y2="314.6" stroke="#222" stroke-width="0.8" stroke-dasharray="3,2"/>
<rect x="373.3" y="321.6" width="120.2" height="24.9" fill="none" stroke="#8a8a8a" stroke-width="0.6"/>
<line x1="371.7" y1="329.4" x2="373.3" y2="329.4" stroke="#666" stroke-width="0.4"/>
<line x1="371.7" y1="337.7" x2="373.3" y2="337.7" stroke="#666" stroke-width="0.4"/>
<line x1="371.7" y1="345.9" x2="373.3" y2="345.9" stroke="#666" stroke-width="0.4"/>
<text transform="translate(363.2,335.25) rotate(-90)" font-size="5.9" fill="#222" text-anchor="middle" stroke="#222" stroke-width="0.18">Time</text>
<path d="M373.4,342.2h0M373.6,341.0h0M373.8,344.9h0M374.0,323.1h0M374.2,341.1h0M374.8,330.8h0M375.0,342.1h0M375.3,342.6h0M375.5,336.4h0M375.7,343.7h0M375.9,345.1h0M376.1,345.0h0M376.3,344.8h0M376.5,325.8h0M376.7,342.7h0M376.9,340.8h0M377.1,343.9h0M377.3,343.1h0M377.5,343.9h0M377.7,345.1h0M377.9,341.3h0M378.1,342.4h0M378.3,344.5h0M378.5,344.3h0M378.8,341.3h0M379.0,323.4h0M379.2,343.9h0M379.4,344.4h0M379.8,341.2h0M380.0,345.6h0M380.2,344.4h0M380.4,343.3h0M380.6,340.1h0M380.8,337.4h0M381.0,340.9h0M381.2,341.9h0M381.4,339.9h0M381.6,340.2h0M381.8,338.1h0M382.0,343.1h0M382.3,340.8h0M382.5,343.1h0M382.7,341.3h0M382.9,342.3h0M383.1,345.6h0M383.3,344.4h0M383.5,340.5h0M383.7,331.7h0M383.9,343.6h0M384.1,336.1h0M384.3,344.5h0M384.5,342.9h0M384.7,336.5h0M384.9,345.4h0M385.3,344.7h0M385.8,345.3h0M386.0,340.6h0M386.2,344.3h0M386.4,330.6h0M386.6,343.8h0M386.8,341.1h0M387.0,344.7h0M387.2,343.2h0M387.4,340.7h0M387.6,340.8h0M387.8,341.9h0M388.0,345.0h0M388.2,342.4h0M388.4,343.5h0M388.6,342.1h0M388.8,344.1h0M389.0,340.9h0M389.3,343.6h0M389.5,344.2h0M389.7,341.6h0M389.9,341.3h0M390.1,343.0h0M390.3,341.9h0M390.5,343.9h0M390.7,337.3h0M390.9,344.3h0M391.1,344.3h0M391.3,343.3h0M391.5,344.7h0M391.7,342.0h0M391.9,342.0h0M392.1,340.9h0M392.3,339.2h0M392.5,343.6h0M392.8,344.0h0M393.0,343.0h0M393.4,342.2h0M393.6,344.3h0M393.8,329.5h0M394.0,344.6h0M394.2,338.7h0M394.4,342.8h0M394.8,342.6h0M395.0,344.5h0M395.4,335.5h0M395.6,342.2h0M395.8,338.4h0M396.0,334.4h0M396.2,343.0h0M396.7,332.4h0M396.9,344.1h0M397.1,340.6h0M397.3,340.0h0M397.5,328.5h0M397.7,343.0h0M397.9,344.9h0M398.1,342.2h0M398.3,340.9h0M398.7,323.8h0M398.9,344.5h0M399.1,323.6h0M399.3,341.3h0M399.5,341.7h0M399.7,345.6h0M400.2,345.2h0M400.4,342.5h0M400.6,342.5h0M400.8,344.8h0M401.0,345.2h0M401.2,340.5h0M401.4,342.9h0M401.6,344.0h0M401.8,341.0h0M402.0,341.7h0M402.2,344.3h0M402.4,345.2h0M402.6,344.9h0M403.0,341.0h0M403.2,343.4h0M403.5,344.8h0M403.7,344.2h0M403.9,343.2h0M404.1,341.8h0M404.3,343.2h0M404.5,345.0h0M404.7,343.7h0M405.1,343.7h0M405.3,344.6h0M405.5,344.8h0M405.7,342.8h0M405.9,343.0h0M406.1,343.3h0M406.3,343.1h0M406.5,341.9h0M406.7,338.9h0M407.0,330.0h0M407.2,341.9h0M407.6,345.0h0M407.8,340.7h0M408.0,342.1h0M408.2,342.3h0M408.4,337.0h0M408.6,336.7h0M408.8,342.1h0M409.0,342.9h0M409.2,343.2h0M409.4,343.7h0M410.0,345.1h0M410.2,344.4h0M410.5,341.4h0M410.7,344.4h0M410.9,337.3h0M411.1,341.8h0M411.3,345.2h0M411.5,342.0h0M411.7,340.6h0M412.1,339.8h0M412.3,343.5h0M412.5,340.9h0M412.7,344.6h0M413.1,345.0h0M413.3,342.4h0M413.5,338.1h0M413.7,341.9h0M413.9,343.6h0M414.4,343.3h0M414.8,336.8h0M415.2,341.7h0M415.6,341.1h0M415.8,343.7h0M416.0,343.9h0M416.2,339.6h0M416.4,344.6h0M416.6,344.4h0M416.8,344.9h0M417.0,343.0h0M417.2,342.2h0M417.4,343.1h0M417.7,331.7h0M417.9,338.1h0M418.1,332.7h0M418.3,344.8h0M418.5,337.0h0M418.7,343.3h0M418.9,339.7h0M419.1,341.0h0M419.5,343.5h0M419.7,344.7h0M419.9,341.9h0M420.1,332.2h0M420.3,344.7h0M420.5,344.0h0M420.7,341.8h0M421.2,340.6h0M421.4,343.2h0M421.6,334.7h0M421.8,343.1h0M422.0,343.9h0M422.2,345.3h0M422.4,341.3h0M422.6,340.1h0M422.8,342.8h0M423.0,342.1h0M423.2,345.2h0M423.4,341.3h0M423.6,345.1h0M423.8,343.1h0M424.0,344.0h0M424.2,345.1h0M424.4,339.1h0M424.7,341.9h0M425.1,345.1h0M425.3,343.3h0M425.7,342.3h0M425.9,344.2h0M426.1,344.3h0M426.3,344.4h0M426.5,340.9h0M426.7,336.1h0M426.9,333.0h0M427.1,340.0h0M427.3,344.1h0M427.5,344.4h0M427.7,343.2h0M427.9,344.1h0M428.2,343.8h0M428.6,342.0h0M428.8,344.0h0M429.2,343.8h0M429.4,342.6h0M429.6,342.3h0M429.8,343.3h0M430.0,342.2h0M430.2,341.2h0M430.4,338.2h0M430.6,344.1h0M430.8,328.8h0M431.0,342.3h0M431.2,341.9h0M431.4,343.6h0M431.7,342.1h0M431.9,343.9h0M432.1,343.0h0M432.3,345.3h0M432.5,344.6h0M432.7,334.1h0M432.9,343.1h0M433.1,345.4h0M433.3,344.1h0M433.5,342.6h0M433.7,345.3h0M433.9,332.6h0M434.1,341.4h0M434.3,343.4h0M434.5,344.2h0M434.7,342.7h0M434.9,344.2h0M435.4,345.5h0M435.6,343.9h0M435.8,343.3h0M436.0,345.5h0M436.2,338.6h0M436.6,335.4h0M436.8,333.0h0M437.0,344.7h0M437.2,340.5h0M437.4,339.8h0M437.6,344.1h0M437.8,341.0h0M438.0,343.7h0M438.2,340.2h0M438.4,344.1h0M438.9,343.1h0M439.1,344.5h0M439.3,340.5h0M439.7,341.5h0M439.9,345.5h0M440.1,343.0h0M440.3,342.5h0M440.5,332.5h0M440.7,343.9h0M440.9,341.1h0M441.1,341.0h0M441.3,343.8h0M441.5,344.7h0M441.7,344.3h0M441.9,345.8h0M442.1,342.3h0M442.4,341.7h0M442.6,343.4h0M442.8,340.1h0M443.0,344.5h0M443.2,343.2h0M443.4,344.1h0M443.6,342.2h0M444.4,344.5h0M444.6,333.9h0M444.8,343.1h0M445.0,343.5h0M445.2,336.9h0M445.4,341.0h0M445.6,343.2h0M445.9,345.6h0M446.1,344.7h0M446.3,343.1h0M446.5,327.1h0M446.9,343.5h0M447.1,343.2h0M447.3,343.8h0M447.5,340.1h0M447.7,344.4h0M447.9,342.4h0M448.1,329.2h0M448.5,342.4h0M448.7,336.7h0M448.9,345.0h0M449.1,344.3h0M449.4,337.6h0M449.8,343.8h0M450.0,342.7h0M450.2,345.4h0M450.6,343.6h0M451.0,329.8h0M451.2,339.4h0M451.4,338.7h0M451.8,344.0h0M452.2,343.2h0M452.4,340.9h0M452.6,343.5h0M452.9,344.2h0M453.1,344.4h0M453.5,330.2h0M453.7,341.9h0M453.9,343.5h0M454.3,344.2h0M454.5,343.8h0M454.7,344.4h0M454.9,340.9h0M455.1,341.1h0M455.3,342.2h0M455.7,340.5h0M455.9,341.3h0M456.1,328.3h0M456.3,341.4h0M456.8,343.6h0M457.0,344.1h0M457.2,336.9h0M457.4,345.1h0M457.6,337.6h0M457.8,344.3h0M458.0,341.8h0M458.2,337.8h0M458.4,344.6h0M458.8,344.4h0M459.0,341.0h0M459.2,340.5h0M459.6,343.8h0M459.8,344.7h0M460.1,344.8h0M460.3,344.3h0M460.5,343.3h0M460.7,340.9h0M460.9,342.6h0M461.1,339.9h0M461.3,335.8h0M461.5,343.1h0M461.7,345.1h0M461.9,340.1h0M462.1,344.7h0M462.3,343.4h0M462.5,341.9h0M462.7,343.3h0M462.9,343.4h0M463.1,328.2h0M463.3,342.6h0M463.6,336.9h0M463.8,345.1h0M464.0,344.2h0M464.2,344.6h0M464.4,344.5h0M464.6,344.0h0M464.8,344.8h0M465.2,345.5h0M465.4,344.8h0M465.6,344.7h0M466.0,342.9h0M466.2,341.7h0M466.4,343.0h0M466.6,342.9h0M467.1,344.5h0M467.5,340.8h0M468.3,340.7h0M468.5,342.3h0M468.7,339.3h0M468.9,342.5h0M469.1,345.2h0M469.5,344.1h0M469.7,342.4h0M469.9,345.7h0M470.1,328.8h0M470.3,341.3h0M470.6,341.4h0M470.8,344.9h0M471.0,342.8h0M471.2,340.3h0M471.4,343.5h0M471.6,340.8h0M471.8,328.4h0M472.0,339.3h0M472.2,338.3h0M472.4,342.7h0M472.8,344.8h0M473.0,344.8h0M473.2,341.7h0M473.4,342.0h0M473.8,331.2h0M474.0,340.1h0M474.3,341.5h0M474.5,343.4h0M474.7,341.6h0M474.9,342.4h0M475.1,344.1h0M475.3,343.9h0M475.5,339.7h0M475.7,342.6h0M475.9,344.9h0M476.1,327.3h0M476.3,343.5h0M476.5,344.3h0M476.7,338.7h0M476.9,340.1h0M477.1,343.7h0M477.3,341.9h0M477.5,344.7h0M477.8,343.8h0M478.0,335.6h0M478.2,339.4h0M478.4,338.5h0M478.8,344.1h0M479.0,341.7h0M479.2,344.8h0M479.4,341.7h0M479.6,340.5h0M480.0,335.8h0M480.2,342.0h0M480.4,342.3h0M480.6,342.4h0M480.8,344.7h0M481.0,328.3h0M481.3,335.6h0M481.7,341.2h0M481.9,342.1h0M482.3,336.8h0M482.5,338.9h0M482.9,343.5h0M483.3,342.0h0M483.5,344.1h0M483.9,338.3h0M484.1,343.9h0M484.3,344.4h0M484.5,339.5h0M484.8,345.0h0M485.0,342.9h0M485.2,332.0h0M485.4,338.1h0M485.6,343.2h0M485.8,342.5h0M486.2,344.2h0M486.4,343.4h0M486.8,344.7h0M487.0,343.2h0M487.2,345.1h0M487.4,333.1h0M487.8,341.7h0M488.0,345.0h0M488.5,342.2h0M488.7,343.7h0M488.9,341.3h0M489.1,327.3h0M489.5,335.2h0M490.1,342.3h0M490.3,345.6h0M490.7,342.5h0M490.9,342.9h0M491.1,342.2h0M491.3,339.6h0M491.5,344.9h0M491.8,342.3h0M492.0,345.8h0M492.2,340.9h0M492.6,342.7h0M492.8,336.9h0M493.0,342.2h0M493.2,342.4h0M493.4,342.2h0" stroke="#3b7f79" stroke-width="1.6" stroke-linecap="round"/>
<path d="M374.4,343.4h0M374.6,345.2h0M379.6,345.0h0M385.1,341.8h0M385.5,340.1h0M393.2,345.2h0M394.6,341.9h0M395.2,338.5h0M396.5,344.5h0M398.5,342.9h0M400.0,345.3h0M402.8,345.6h0M404.9,345.1h0M407.4,345.6h0M409.6,344.7h0M409.8,342.5h0M411.9,343.8h0M412.9,340.2h0M414.2,344.7h0M414.6,344.2h0M415.0,344.3h0M415.4,330.1h0M419.3,345.0h0M420.9,345.2h0M424.9,345.0h0M425.5,345.8h0M428.4,332.4h0M429.0,344.8h0M435.1,342.0h0M436.4,344.2h0M438.6,344.1h0M439.5,344.5h0M443.8,345.7h0M444.0,341.9h0M444.2,343.9h0M446.7,345.8h0M448.3,342.7h0M449.6,343.3h0M450.4,345.6h0M450.8,345.1h0M451.6,336.0h0M452.0,343.1h0M453.3,344.5h0M454.1,331.4h0M455.5,339.9h0M456.6,343.8h0M458.6,345.8h0M459.4,344.5h0M465.0,339.4h0M465.8,345.6h0M466.8,340.3h0M467.3,345.5h0M467.7,344.1h0M467.9,344.9h0M468.1,337.6h0M469.3,343.4h0M472.6,344.6h0M473.6,339.1h0M478.6,336.8h0M479.8,343.1h0M481.5,343.7h0M482.1,345.5h0M482.7,345.7h0M483.1,341.0h0M483.7,345.4h0M486.0,343.6h0M486.6,341.8h0M487.6,345.5h0M488.3,344.7h0M489.3,341.2h0M489.7,341.5h0M489.9,345.8h0M490.5,344.9h0M492.4,343.6h0" stroke="#d4503f" stroke-width="1.6" stroke-linecap="round"/>
<line x1="433.4" y1="321.6" x2="433.4" y2="346.5" stroke="#222" stroke-width="0.8" stroke-dasharray="3,2"/>
<circle cx="497.8" cy="302.8" r="0.8" fill="#3b7f79"/>
<circle cx="497.8" cy="309.6" r="0.8" fill="#d4503f"/>
<circle cx="497.8" cy="334.1" r="0.8" fill="#d4503f"/>
<circle cx="497.8" cy="340.2" r="0.8" fill="#3b7f79"/>
<text x="543.2" y="280.3" font-size="9.28" fill="#222" stroke="#222" stroke-width="0.23" textLength="111.9" lengthAdjust="spacingAndGlyphs">Testing Dataset GSE17538</text>
<rect x="537.9" y="288.5" width="121.2" height="26.5" fill="none" stroke="#8a8a8a" stroke-width="0.6"/>
<line x1="536.3" y1="295.8" x2="537.9" y2="295.8" stroke="#666" stroke-width="0.4"/>
<line x1="536.3" y1="304.1" x2="537.9" y2="304.1" stroke="#666" stroke-width="0.4"/>
<line x1="536.3" y1="312.2" x2="537.9" y2="312.2" stroke="#666" stroke-width="0.4"/>
<text transform="translate(528,302.25) rotate(-90)" font-size="6.1" fill="#222" text-anchor="middle" stroke="#222" stroke-width="0.18">Risk Score</text>
<line x1="563.74" y1="315" x2="563.74" y2="316.4" stroke="#666" stroke-width="0.4"/>
<line x1="563.74" y1="348.2" x2="563.74" y2="349.6" stroke="#666" stroke-width="0.4"/>
<line x1="590.07" y1="315" x2="590.07" y2="316.4" stroke="#666" stroke-width="0.4"/>
<line x1="590.07" y1="348.2" x2="590.07" y2="349.6" stroke="#666" stroke-width="0.4"/>
<line x1="616.4" y1="315" x2="616.4" y2="316.4" stroke="#666" stroke-width="0.4"/>
<line x1="616.4" y1="348.2" x2="616.4" y2="349.6" stroke="#666" stroke-width="0.4"/>
<line x1="642.74" y1="315" x2="642.74" y2="316.4" stroke="#666" stroke-width="0.4"/>
<line x1="642.74" y1="348.2" x2="642.74" y2="349.6" stroke="#666" stroke-width="0.4"/>
<path d="M538.16,314.34 L538.69,313.81 L539.22,313.29 L539.75,312.77 L540.28,312.36 L540.81,312 L541.34,311.63 L541.87,311.27 L542.4,310.9 L542.93,310.6 L543.46,310.43 L543.99,310.26 L544.52,310.09 L545.04,309.91 L545.57,309.74 L546.1,309.64 L546.63,309.58 L547.16,309.52 L547.69,309.46 L548.22,309.41 L548.75,309.35 L549.28,309.29 L549.81,309.23 L550.34,309.17 L550.87,309.11 L551.4,309.06 L551.93,309 L552.45,308.96 L552.98,308.91 L553.51,308.87 L554.04,308.83 L554.57,308.78 L555.1,308.74 L555.63,308.69 L556.16,308.65 L556.69,308.61 L557.22,308.56 L557.75,308.52 L558.28,308.47 L558.81,308.43 L559.33,308.39 L559.86,308.23 L560.39,307.96 L560.92,307.69 L561.45,307.42 L561.98,307.31 L562.51,307.24 L563.04,307.16 L563.57,307.08 L564.1,307.01 L564.63,306.93 L565.16,306.85 L565.69,306.77 L566.22,306.7 L566.74,306.62 L567.27,306.54 L567.8,306.47 L568.33,306.39 L568.86,306.31 L569.39,306.24 L569.92,306.18 L570.45,306.13 L570.98,306.08 L571.51,306.02 L572.04,305.97 L572.57,305.92 L573.1,305.87 L573.62,305.81 L574.15,305.76 L574.68,305.71 L575.21,305.66 L575.74,305.61 L576.27,305.55 L576.8,305.5 L577.33,305.45 L577.86,305.4 L578.39,305.34 L578.92,305.29 L579.45,305.24 L579.98,305.18 L580.51,305.13 L581.03,305.08 L581.56,305.02 L582.09,304.97 L582.62,304.92 L583.15,304.86 L583.68,304.81 L584.21,304.75 L584.74,304.7 L585.27,304.65 L585.8,304.59 L586.33,304.54 L586.86,304.49 L587.39,304.43 L587.91,304.38 L588.44,304.33 L588.97,304.27 L589.5,304.24 L590.03,304.2 L590.56,304.17 L591.09,304.14 L591.62,304.11 L592.15,304.07 L592.68,304.04 L593.21,304.01 L593.74,303.98 L594.27,303.94 L594.8,303.91 L595.32,303.88 L595.85,303.85 L596.38,303.81 L596.91,303.78 L597.44,303.75 L597.97,303.72 L598.5,303.69" fill="none" stroke="#3b7f79" stroke-width="1.8" stroke-linejoin="round"/>
<path d="M599.03,303.66 L599.56,303.63 L600.09,303.6 L600.62,303.57 L601.15,303.54 L601.68,303.51 L602.2,303.48 L602.73,303.45 L603.26,303.43 L603.79,303.4 L604.32,303.37 L604.85,303.34 L605.38,303.31 L605.91,303.28 L606.44,303.25 L606.97,303.22 L607.5,303.19 L608.03,303.16 L608.56,303.13 L609.09,303.09 L609.61,303.05 L610.14,303.01 L610.67,302.96 L611.2,302.92 L611.73,302.87 L612.26,302.83 L612.79,302.79 L613.32,302.74 L613.85,302.7 L614.38,302.66 L614.91,302.61 L615.44,302.57 L615.97,302.52 L616.49,302.48 L617.02,302.44 L617.55,302.39 L618.08,302.35 L618.61,302.31 L619.14,302.25 L619.67,302.19 L620.2,302.13 L620.73,302.06 L621.26,302 L621.79,301.94 L622.32,301.88 L622.85,301.82 L623.38,301.75 L623.9,301.69 L624.43,301.63 L624.96,301.57 L625.49,301.51 L626.02,301.44 L626.55,301.38 L627.08,301.32 L627.61,301.26 L628.14,301.2 L628.67,301.14 L629.2,301.07 L629.73,301.01 L630.26,300.95 L630.78,300.89 L631.31,300.83 L631.84,300.76 L632.37,300.7 L632.9,300.64 L633.43,300.58 L633.96,300.52 L634.49,300.45 L635.02,300.39 L635.55,300.33 L636.08,300.27 L636.61,300.21 L637.14,300.14 L637.67,300.08 L638.19,300.02 L638.72,299.94 L639.25,299.85 L639.78,299.76 L640.31,299.68 L640.84,299.59 L641.37,299.5 L641.9,299.41 L642.43,299.32 L642.96,299.23 L643.49,299.15 L644.02,299.06 L644.55,298.97 L645.07,298.88 L645.6,298.79 L646.13,298.7 L646.66,298.62 L647.19,298.53 L647.72,298.44 L648.25,298.35 L648.78,298.24 L649.31,298.12 L649.84,298.01 L650.37,297.9 L650.9,297.79 L651.43,297.68 L651.96,297.57 L652.48,297.46 L653.01,297.35 L653.54,297.23 L654.07,296.67 L654.6,296.01 L655.13,295.34 L655.66,294.69 L656.19,294.08 L656.72,293.46 L657.25,292.79 L657.78,291.8 L658.31,290.82 L658.84,289.83" fill="none" stroke="#d4503f" stroke-width="1.8" stroke-linejoin="round"/>
<line x1="597.5" y1="288.5" x2="597.5" y2="315" stroke="#777" stroke-width="0.7" stroke-dasharray="0.9,2.2"/>
<rect x="537.9" y="322.3" width="121.2" height="25.9" fill="none" stroke="#8a8a8a" stroke-width="0.6"/>
<line x1="536.3" y1="330.7" x2="537.9" y2="330.7" stroke="#666" stroke-width="0.4"/>
<line x1="536.3" y1="338.9" x2="537.9" y2="338.9" stroke="#666" stroke-width="0.4"/>
<line x1="536.3" y1="347.2" x2="537.9" y2="347.2" stroke="#666" stroke-width="0.4"/>
<text transform="translate(528,336.45) rotate(-90)" font-size="5.9" fill="#222" text-anchor="middle" stroke="#222" stroke-width="0.18">Time</text>
<path d="M538.7,331.0h0M539.2,333.5h0M539.8,333.5h0M540.8,331.8h0M541.9,336.2h0M542.4,335.7h0M544.0,342.1h0M544.5,330.9h0M545.0,334.5h0M546.1,332.5h0M546.6,335.8h0M547.2,339.8h0M548.2,335.6h0M548.7,337.5h0M549.3,342.1h0M549.8,331.5h0M550.3,331.9h0M550.9,336.0h0M551.4,340.1h0M551.9,337.9h0M553.0,334.3h0M553.5,336.6h0M555.1,331.4h0M555.6,339.0h0M556.7,338.7h0M557.2,336.9h0M557.7,332.1h0M558.8,342.1h0M559.3,331.0h0M559.9,334.6h0M560.4,334.0h0M560.9,338.3h0M561.5,328.0h0M562.0,343.9h0M563.0,342.9h0M563.6,334.3h0M564.1,335.2h0M564.6,325.9h0M565.7,331.7h0M566.2,343.2h0M566.7,337.9h0M567.3,330.9h0M568.9,339.1h0M569.4,333.6h0M569.9,339.6h0M570.4,340.3h0M571.0,340.5h0M571.5,338.1h0M572.0,339.5h0M572.6,333.7h0M573.1,334.3h0M574.2,335.3h0M574.7,341.6h0M575.2,331.0h0M575.7,344.5h0M576.3,341.1h0M576.8,339.1h0M577.3,331.9h0M578.4,339.2h0M578.9,334.0h0M579.4,341.2h0M580.0,337.1h0M580.5,333.8h0M581.0,331.4h0M582.1,342.4h0M582.6,335.4h0M583.7,336.2h0M584.2,330.8h0M584.7,339.8h0M585.3,329.6h0M585.8,333.1h0M586.3,339.7h0M586.9,329.0h0M587.4,340.4h0M587.9,341.2h0M589.5,337.9h0M590.0,324.9h0M590.6,334.9h0M591.1,332.4h0M592.7,336.2h0M593.2,341.6h0M593.7,331.2h0M594.8,331.9h0M595.3,339.7h0M595.9,332.3h0M596.4,339.6h0M598.5,343.4h0M599.6,332.6h0M601.7,340.2h0M602.2,336.9h0M605.4,337.5h0M606.4,335.5h0M607.0,338.9h0M608.0,337.2h0M608.6,341.6h0M610.1,342.0h0M610.7,335.1h0M611.2,338.3h0M612.3,331.9h0M612.8,330.1h0M613.3,337.5h0M614.4,343.7h0M614.9,331.0h0M616.5,334.0h0M617.0,342.3h0M617.6,335.3h0M618.6,336.6h0M619.1,330.4h0M619.7,343.7h0M620.2,331.3h0M620.7,326.6h0M621.8,343.9h0M623.9,340.2h0M625.5,344.1h0M626.0,333.2h0M627.6,340.8h0M628.1,343.8h0M629.7,335.3h0M630.3,334.7h0M630.8,327.9h0M632.4,340.1h0M633.4,337.7h0M634.0,336.8h0M635.0,324.5h0M636.6,334.1h0M637.1,324.9h0M638.7,343.5h0M639.8,344.2h0M642.4,342.6h0M643.0,339.3h0M644.0,340.0h0M645.1,337.1h0M645.6,339.3h0M646.1,334.8h0M646.7,329.8h0M647.7,331.8h0M648.8,343.1h0M649.3,332.6h0M650.4,336.6h0M650.9,333.0h0M651.4,342.7h0M654.1,338.4h0M654.6,341.0h0M658.3,343.8h0M658.8,338.0h0" stroke="#3b7f79" stroke-width="1.3" stroke-linecap="round"/>
<path d="M538.2,346.3h0M540.3,341.1h0M541.3,344.6h0M542.9,343.2h0M543.5,332.6h0M545.6,339.9h0M547.7,346.6h0M552.5,340.0h0M554.0,345.8h0M554.6,347.0h0M556.2,344.9h0M558.3,344.4h0M562.5,346.1h0M565.2,347.0h0M567.8,345.9h0M568.3,339.9h0M573.6,342.5h0M577.9,344.0h0M581.6,344.2h0M583.2,341.2h0M588.4,346.7h0M589.0,341.5h0M591.6,344.9h0M592.1,345.1h0M594.3,345.1h0M596.9,342.6h0M597.4,342.9h0M598.0,340.5h0M599.0,345.6h0M600.1,346.8h0M600.6,342.9h0M601.1,346.0h0M602.7,345.6h0M603.3,345.9h0M603.8,347.1h0M604.3,343.9h0M604.9,346.8h0M605.9,339.3h0M607.5,344.7h0M609.1,345.9h0M609.6,341.4h0M611.7,344.3h0M613.8,340.0h0M615.4,343.5h0M616.0,344.2h0M618.1,345.0h0M621.3,341.1h0M622.3,341.4h0M622.8,346.4h0M623.4,346.6h0M624.4,340.8h0M625.0,343.5h0M626.6,342.6h0M627.1,344.7h0M628.7,346.2h0M629.2,340.4h0M631.3,344.5h0M631.8,347.1h0M632.9,343.9h0M634.5,346.4h0M635.5,346.4h0M636.1,340.5h0M637.7,346.6h0M638.2,347.1h0M639.3,340.4h0M640.3,346.0h0M640.8,346.8h0M641.4,343.5h0M641.9,346.5h0M643.5,347.1h0M644.5,339.3h0M647.2,342.2h0M648.3,345.4h0M649.8,343.8h0M652.0,344.2h0M652.5,341.7h0M653.0,343.6h0M653.5,345.8h0M655.1,342.9h0M655.7,340.3h0M656.2,344.2h0M656.7,347.2h0M657.2,347.2h0M657.8,346.0h0" stroke="#d4503f" stroke-width="1.3" stroke-linecap="round"/>
<line x1="597.5" y1="322.3" x2="597.5" y2="348.2" stroke="#777" stroke-width="0.7" stroke-dasharray="0.9,2.2"/>
<circle cx="663.4" cy="302.8" r="0.8" fill="#3b7f79"/>
<circle cx="663.4" cy="309.6" r="0.8" fill="#d4503f"/>
<circle cx="663.4" cy="334.8" r="0.8" fill="#d4503f"/>
<circle cx="663.4" cy="340.9" r="0.8" fill="#3b7f79"/>
<text x="380.4" y="380.3" font-size="9.15" fill="#222" stroke="#222" stroke-width="0.23" textLength="110.4" lengthAdjust="spacingAndGlyphs">Testing Dataset GSE38832</text>
<rect x="372.5" y="388.9" width="123" height="27.2" fill="none" stroke="#8a8a8a" stroke-width="0.6"/>
<line x1="370.9" y1="389.8" x2="372.5" y2="389.8" stroke="#666" stroke-width="0.4"/>
<line x1="370.9" y1="397.8" x2="372.5" y2="397.8" stroke="#666" stroke-width="0.4"/>
<line x1="370.9" y1="405.9" x2="372.5" y2="405.9" stroke="#666" stroke-width="0.4"/>
<line x1="370.9" y1="414.2" x2="372.5" y2="414.2" stroke="#666" stroke-width="0.4"/>
<text transform="translate(361.6,403) rotate(-90)" font-size="6.1" fill="#222" text-anchor="middle" stroke="#222" stroke-width="0.18">Risk Score</text>
<line x1="402.75" y1="416.1" x2="402.75" y2="417.5" stroke="#666" stroke-width="0.4"/>
<line x1="402.75" y1="448.6" x2="402.75" y2="450" stroke="#666" stroke-width="0.4"/>
<line x1="433.5" y1="416.1" x2="433.5" y2="417.5" stroke="#666" stroke-width="0.4"/>
<line x1="433.5" y1="448.6" x2="433.5" y2="450" stroke="#666" stroke-width="0.4"/>
<line x1="464.25" y1="416.1" x2="464.25" y2="417.5" stroke="#666" stroke-width="0.4"/>
<line x1="464.25" y1="448.6" x2="464.25" y2="450" stroke="#666" stroke-width="0.4"/>
<path d="M373.02,415.36 L374.05,414.2 L375.08,413.26 L376.12,412.83 L377.15,412.43 L378.18,412.09 L379.22,411.75 L380.25,411.41 L381.29,411.16 L382.32,410.99 L383.35,410.82 L384.39,410.66 L385.42,410.49 L386.45,410.32 L387.49,410.15 L388.52,409.98 L389.55,409.88 L390.59,409.8 L391.62,409.71 L392.66,409.62 L393.69,409.54 L394.72,409.45 L395.76,409.36 L396.79,409.28 L397.82,409.19 L398.86,409.11 L399.89,409.04 L400.92,408.97 L401.96,408.9 L402.99,408.83 L404.03,408.76 L405.06,408.69 L406.09,408.62 L407.13,408.55 L408.16,408.47 L409.19,408.4 L410.23,408.33 L411.26,408.25 L412.29,408.16 L413.33,408.08 L414.36,408 L415.39,407.91 L416.43,407.83 L417.46,407.74 L418.5,407.66 L419.53,407.57 L420.56,407.49 L421.6,407.41 L422.63,407.31 L423.66,407.2 L424.7,407.1 L425.73,406.99 L426.76,406.88 L427.8,406.77 L428.83,406.66 L429.87,406.55 L430.9,406.45 L431.93,406.34 L432.97,406.23 L434,406.14" fill="none" stroke="#3b7f79" stroke-width="1.8" stroke-linejoin="round"/>
<path d="M435.03,406.04 L436.07,405.95 L437.1,405.86 L438.13,405.76 L439.17,405.67 L440.2,405.58 L441.24,405.49 L442.27,405.39 L443.3,405.3 L444.34,405.2 L445.37,405.1 L446.4,405 L447.44,404.9 L448.47,404.79 L449.5,404.69 L450.54,404.59 L451.57,404.49 L452.61,404.39 L453.64,404.28 L454.67,404.17 L455.71,404.05 L456.74,403.93 L457.77,403.81 L458.81,403.69 L459.84,403.57 L460.87,403.45 L461.91,403.33 L462.94,403.21 L463.97,403.07 L465.01,402.9 L466.04,402.73 L467.08,402.56 L468.11,402.39 L469.14,402.22 L470.18,402.05 L471.21,401.88 L472.24,401.69 L473.28,401.5 L474.31,401.31 L475.34,401.12 L476.38,400.93 L477.41,400.74 L478.45,400.54 L479.48,400.36 L480.51,400.19 L481.55,400.02 L482.58,399.85 L483.61,399.68 L484.65,399.51 L485.68,399.34 L486.71,398.52 L487.75,397.29 L488.78,397.07 L489.82,396.85 L490.85,396.63 L491.88,396.44 L492.92,396.29 L493.95,393.85 L494.98,391.32" fill="none" stroke="#d4503f" stroke-width="1.8" stroke-linejoin="round"/>
<line x1="433.4" y1="388.9" x2="433.4" y2="416.1" stroke="#444" stroke-width="0.7" stroke-dasharray="1,2"/>
<rect x="372.5" y="423.4" width="123" height="25.2" fill="none" stroke="#8a8a8a" stroke-width="0.6"/>
<line x1="370.9" y1="428.5" x2="372.5" y2="428.5" stroke="#666" stroke-width="0.4"/>
<line x1="370.9" y1="435" x2="372.5" y2="435" stroke="#666" stroke-width="0.4"/>
<line x1="370.9" y1="441.3" x2="372.5" y2="441.3" stroke="#666" stroke-width="0.4"/>
<line x1="370.9" y1="447.8" x2="372.5" y2="447.8" stroke="#666" stroke-width="0.4"/>
<text transform="translate(361.6,437.2) rotate(-90)" font-size="5.9" fill="#222" text-anchor="middle" stroke="#222" stroke-width="0.18">Time</text>
<path d="M373.0,428.8h0M374.1,439.7h0M375.1,438.4h0M376.1,431.9h0M377.2,435.2h0M378.2,439.4h0M379.2,436.1h0M380.3,446.6h0M381.3,438.4h0M382.3,436.6h0M383.4,445.5h0M384.4,443.1h0M387.5,431.0h0M388.5,434.1h0M389.6,436.5h0M390.6,434.0h0M391.6,432.0h0M392.7,447.6h0M393.7,435.5h0M394.7,446.6h0M395.8,433.9h0M396.8,441.9h0M397.8,431.4h0M398.9,437.9h0M399.9,440.5h0M400.9,439.7h0M403.0,439.2h0M404.0,438.7h0M405.1,429.7h0M406.1,429.8h0M407.1,445.0h0M408.2,446.5h0M409.2,438.7h0M410.2,428.7h0M411.3,431.9h0M413.3,429.5h0M414.4,446.9h0M415.4,441.7h0M416.4,434.7h0M418.5,441.3h0M419.5,431.6h0M422.6,442.7h0M423.7,444.4h0M424.7,440.9h0M425.7,433.0h0M426.8,445.9h0M428.8,440.4h0M429.9,427.9h0M430.9,433.5h0M431.9,432.1h0M433.0,428.0h0M434.0,440.2h0M435.0,434.6h0M436.1,430.6h0M437.1,430.6h0M438.1,442.7h0M439.2,431.5h0M440.2,440.1h0M442.3,446.1h0M443.3,443.2h0M444.3,438.2h0M446.4,432.9h0M448.5,443.9h0M450.5,447.5h0M451.6,441.3h0M453.6,440.5h0M454.7,436.1h0M458.8,427.6h0M459.8,428.3h0M460.9,438.2h0M461.9,444.6h0M462.9,437.3h0M464.0,436.2h0M465.0,445.9h0M468.1,438.3h0M469.1,431.9h0M470.2,431.4h0M474.3,434.2h0M475.3,443.7h0M476.4,434.0h0M479.5,427.7h0M480.5,444.6h0M481.5,444.2h0M482.6,428.7h0M485.7,438.2h0M488.8,438.9h0M489.8,440.3h0M490.8,433.3h0M493.9,447.1h0" stroke="#3b7f79" stroke-width="1.4" stroke-linecap="round"/>
<path d="M385.4,446.9h0M386.5,443.7h0M402.0,441.7h0M412.3,447.6h0M417.5,434.0h0M420.6,444.0h0M421.6,443.6h0M427.8,438.4h0M441.2,447.0h0M445.4,446.0h0M447.4,442.3h0M449.5,447.4h0M452.6,444.9h0M455.7,439.0h0M456.7,443.4h0M457.8,447.3h0M466.0,447.5h0M467.1,433.5h0M471.2,443.5h0M472.2,436.3h0M473.3,446.1h0M477.4,447.0h0M478.4,443.7h0M483.6,447.1h0M484.6,446.4h0M486.7,445.5h0M487.7,442.2h0M491.9,443.3h0M492.9,447.6h0M495.0,444.8h0" stroke="#d4503f" stroke-width="1.4" stroke-linecap="round"/>
<line x1="433.4" y1="423.4" x2="433.4" y2="448.6" stroke="#888" stroke-width="0.7" stroke-dasharray="1,2"/>
<circle cx="499.8" cy="403.2" r="0.8" fill="#3b7f79"/>
<circle cx="499.8" cy="410" r="0.8" fill="#d4503f"/>
<circle cx="499.8" cy="435.9" r="0.8" fill="#d4503f"/>
<circle cx="499.8" cy="442" r="0.8" fill="#3b7f79"/>
<text x="543.6" y="379.3" font-size="9.09" fill="#222" stroke="#222" stroke-width="0.23" textLength="109.7" lengthAdjust="spacingAndGlyphs">Testing Dataset GSE39582</text>
<rect x="538.3" y="388.9" width="121.2" height="26.6" fill="none" stroke="#8a8a8a" stroke-width="0.6"/>
<line x1="536.7" y1="389.9" x2="538.3" y2="389.9" stroke="#666" stroke-width="0.4"/>
<line x1="536.7" y1="396.4" x2="538.3" y2="396.4" stroke="#666" stroke-width="0.4"/>
<line x1="536.7" y1="403.3" x2="538.3" y2="403.3" stroke="#666" stroke-width="0.4"/>
<line x1="536.7" y1="409.8" x2="538.3" y2="409.8" stroke="#666" stroke-width="0.4"/>
<text transform="translate(527.3,402.7) rotate(-90)" font-size="6.1" fill="#222" text-anchor="middle" stroke="#222" stroke-width="0.18">Risk Score</text>
<line x1="559.65" y1="415.5" x2="559.65" y2="416.9" stroke="#666" stroke-width="0.4"/>
<line x1="559.65" y1="448.6" x2="559.65" y2="450" stroke="#666" stroke-width="0.4"/>
<line x1="581" y1="415.5" x2="581" y2="416.9" stroke="#666" stroke-width="0.4"/>
<line x1="581" y1="448.6" x2="581" y2="450" stroke="#666" stroke-width="0.4"/>
<line x1="602.35" y1="415.5" x2="602.35" y2="416.9" stroke="#666" stroke-width="0.4"/>
<line x1="602.35" y1="448.6" x2="602.35" y2="450" stroke="#666" stroke-width="0.4"/>
<line x1="623.7" y1="415.5" x2="623.7" y2="416.9" stroke="#666" stroke-width="0.4"/>
<line x1="623.7" y1="448.6" x2="623.7" y2="450" stroke="#666" stroke-width="0.4"/>
<line x1="645.05" y1="415.5" x2="645.05" y2="416.9" stroke="#666" stroke-width="0.4"/>
<line x1="645.05" y1="448.6" x2="645.05" y2="450" stroke="#666" stroke-width="0.4"/>
<path d="M538.41,414.86 L538.63,414.74 L538.84,414.62 L539.06,414.43 L539.28,414.2 L539.5,413.98 L539.71,413.76 L539.93,413.53 L540.15,413.31 L540.37,413.09 L540.58,412.86 L540.8,412.64 L541.02,412.5 L541.24,412.37 L541.46,412.25 L541.67,412.12 L541.89,412 L542.11,411.88 L542.33,411.75 L542.54,411.63 L542.76,411.5 L542.98,411.38 L543.2,411.25 L543.41,411.13 L543.63,411.01 L543.85,410.9 L544.07,410.83 L544.28,410.76 L544.5,410.69 L544.72,410.62 L544.94,410.54 L545.15,410.47 L545.37,410.4 L545.59,410.33 L545.81,410.25 L546.02,410.18 L546.24,410.11 L546.46,410.04 L546.68,409.97 L546.89,409.89 L547.11,409.82 L547.33,409.75 L547.55,409.68 L547.77,409.61 L547.98,409.55 L548.2,409.5 L548.42,409.45 L548.64,409.4 L548.85,409.35 L549.07,409.3 L549.29,409.25 L549.51,409.2 L549.72,409.15 L549.94,409.1 L550.16,409.05 L550.38,409 L550.59,408.95 L550.81,408.9 L551.03,408.85 L551.25,408.8 L551.46,408.75 L551.68,408.7 L551.9,408.65 L552.12,408.6 L552.33,408.55 L552.55,408.5 L552.77,408.45 L552.99,408.39 L553.21,408.34 L553.42,408.29 L553.64,408.24 L553.86,408.19 L554.08,408.14 L554.29,408.09 L554.51,408.04 L554.73,407.99 L554.95,407.94 L555.16,407.89 L555.38,407.84 L555.6,407.79 L555.82,407.75 L556.03,407.72 L556.25,407.69 L556.47,407.66 L556.69,407.63 L556.9,407.59 L557.12,407.56 L557.34,407.53 L557.56,407.5 L557.77,407.47 L557.99,407.43 L558.21,407.4 L558.43,407.37 L558.65,407.34 L558.86,407.31 L559.08,407.27 L559.3,407.24 L559.52,407.21 L559.73,407.18 L559.95,407.14 L560.17,407.11 L560.39,407.08 L560.6,407.05 L560.82,407.02 L561.04,406.98 L561.26,406.95 L561.47,406.92 L561.69,406.89 L561.91,406.86 L562.13,406.82 L562.34,406.79 L562.56,406.76 L562.78,406.73 L563,406.7 L563.21,406.66 L563.43,406.63 L563.65,406.61 L563.87,406.58 L564.08,406.56 L564.3,406.54 L564.52,406.52 L564.74,406.5 L564.96,406.48 L565.17,406.45 L565.39,406.43 L565.61,406.41 L565.83,406.39 L566.04,406.37 L566.26,406.34 L566.48,406.32 L566.7,406.3 L566.91,406.28 L567.13,406.26 L567.35,406.24 L567.57,406.21 L567.78,406.19 L568,406.17 L568.22,406.15 L568.44,406.13 L568.65,406.1 L568.87,406.08 L569.09,406.06 L569.31,406.04 L569.52,406.02 L569.74,406 L569.96,405.97 L570.18,405.95 L570.4,405.93 L570.61,405.91 L570.83,405.89 L571.05,405.86 L571.27,405.84 L571.48,405.82 L571.7,405.8 L571.92,405.78 L572.14,405.76 L572.35,405.73 L572.57,405.71 L572.79,405.69 L573.01,405.67 L573.22,405.65 L573.44,405.62 L573.66,405.61 L573.88,405.59 L574.09,405.57 L574.31,405.55 L574.53,405.53 L574.75,405.51 L574.96,405.5 L575.18,405.48 L575.4,405.46 L575.62,405.44 L575.84,405.42 L576.05,405.4 L576.27,405.38 L576.49,405.37 L576.71,405.35 L576.92,405.33 L577.14,405.31 L577.36,405.29 L577.58,405.27 L577.79,405.26 L578.01,405.24 L578.23,405.22 L578.45,405.2 L578.66,405.18 L578.88,405.16 L579.1,405.15 L579.32,405.13 L579.53,405.11 L579.75,405.09 L579.97,405.07 L580.19,405.05 L580.4,405.03 L580.62,405.02 L580.84,405 L581.06,404.98 L581.27,404.96 L581.49,404.94 L581.71,404.92 L581.93,404.91 L582.15,404.89 L582.36,404.87 L582.58,404.85 L582.8,404.83 L583.02,404.81 L583.23,404.79 L583.45,404.78 L583.67,404.76 L583.89,404.74 L584.1,404.72 L584.32,404.7 L584.54,404.68 L584.76,404.67 L584.97,404.65 L585.19,404.63 L585.41,404.61 L585.63,404.59 L585.84,404.57 L586.06,404.55 L586.28,404.53 L586.5,404.51 L586.71,404.49 L586.93,404.47 L587.15,404.45 L587.37,404.43 L587.59,404.41 L587.8,404.39 L588.02,404.37 L588.24,404.35 L588.46,404.33 L588.67,404.31 L588.89,404.29 L589.11,404.27 L589.33,404.26 L589.54,404.24 L589.76,404.22 L589.98,404.2 L590.2,404.18 L590.41,404.16 L590.63,404.14 L590.85,404.12 L591.07,404.1 L591.28,404.08 L591.5,404.06 L591.72,404.04 L591.94,404.02 L592.15,404 L592.37,403.98 L592.59,403.96 L592.81,403.94 L593.02,403.92 L593.24,403.9 L593.46,403.88 L593.68,403.86 L593.9,403.84 L594.11,403.82 L594.33,403.8 L594.55,403.78 L594.77,403.76 L594.98,403.74 L595.2,403.72 L595.42,403.7 L595.64,403.68 L595.85,403.66 L596.07,403.65 L596.29,403.63 L596.51,403.61 L596.72,403.59 L596.94,403.57 L597.16,403.55 L597.38,403.53 L597.59,403.51 L597.81,403.49 L598.03,403.47 L598.25,403.44 L598.46,403.42 L598.68,403.4 L598.9,403.37" fill="none" stroke="#3b7f79" stroke-width="1.8" stroke-linejoin="round"/>
<path d="M599.12,403.35 L599.34,403.33 L599.55,403.3 L599.77,403.28 L599.99,403.26 L600.21,403.23 L600.42,403.21 L600.64,403.19 L600.86,403.16 L601.08,403.14 L601.29,403.12 L601.51,403.09 L601.73,403.07 L601.95,403.05 L602.16,403.02 L602.38,403 L602.6,402.98 L602.82,402.95 L603.03,402.93 L603.25,402.91 L603.47,402.88 L603.69,402.86 L603.9,402.84 L604.12,402.81 L604.34,402.79 L604.56,402.77 L604.78,402.74 L604.99,402.72 L605.21,402.69 L605.43,402.67 L605.65,402.65 L605.86,402.62 L606.08,402.6 L606.3,402.58 L606.52,402.55 L606.73,402.53 L606.95,402.51 L607.17,402.48 L607.39,402.46 L607.6,402.44 L607.82,402.41 L608.04,402.39 L608.26,402.37 L608.47,402.34 L608.69,402.32 L608.91,402.3 L609.13,402.27 L609.34,402.24 L609.56,402.22 L609.78,402.19 L610,402.17 L610.21,402.14 L610.43,402.12 L610.65,402.09 L610.87,402.06 L611.09,402.04 L611.3,402.01 L611.52,401.99 L611.74,401.96 L611.96,401.94 L612.17,401.91 L612.39,401.88 L612.61,401.86 L612.83,401.83 L613.04,401.81 L613.26,401.78 L613.48,401.75 L613.7,401.73 L613.91,401.7 L614.13,401.68 L614.35,401.65 L614.57,401.63 L614.78,401.6 L615,401.57 L615.22,401.55 L615.44,401.52 L615.65,401.5 L615.87,401.47 L616.09,401.45 L616.31,401.42 L616.53,401.39 L616.74,401.37 L616.96,401.34 L617.18,401.32 L617.4,401.29 L617.61,401.27 L617.83,401.24 L618.05,401.21 L618.27,401.19 L618.48,401.16 L618.7,401.14 L618.92,401.11 L619.14,401.08 L619.35,401.05 L619.57,401.02 L619.79,400.99 L620.01,400.96 L620.22,400.93 L620.44,400.9 L620.66,400.87 L620.88,400.84 L621.09,400.81 L621.31,400.78 L621.53,400.75 L621.75,400.72 L621.96,400.69 L622.18,400.66 L622.4,400.64 L622.62,400.61 L622.84,400.58 L623.05,400.55 L623.27,400.52 L623.49,400.49 L623.71,400.46 L623.92,400.43 L624.14,400.4 L624.36,400.37 L624.58,400.34 L624.79,400.31 L625.01,400.28 L625.23,400.25 L625.45,400.22 L625.66,400.19 L625.88,400.16 L626.1,400.14 L626.32,400.11 L626.53,400.08 L626.75,400.05 L626.97,400.02 L627.19,399.99 L627.4,399.96 L627.62,399.93 L627.84,399.9 L628.06,399.87 L628.28,399.84 L628.49,399.81 L628.71,399.78 L628.93,399.75 L629.15,399.71 L629.36,399.68 L629.58,399.65 L629.8,399.61 L630.02,399.58 L630.23,399.55 L630.45,399.52 L630.67,399.48 L630.89,399.45 L631.1,399.42 L631.32,399.39 L631.54,399.35 L631.76,399.32 L631.97,399.29 L632.19,399.25 L632.41,399.22 L632.63,399.19 L632.84,399.16 L633.06,399.12 L633.28,399.09 L633.5,399.06 L633.72,399.03 L633.93,398.99 L634.15,398.96 L634.37,398.93 L634.59,398.9 L634.8,398.86 L635.02,398.83 L635.24,398.8 L635.46,398.76 L635.67,398.73 L635.89,398.7 L636.11,398.67 L636.33,398.63 L636.54,398.6 L636.76,398.57 L636.98,398.54 L637.2,398.5 L637.41,398.47 L637.63,398.44 L637.85,398.4 L638.07,398.37 L638.28,398.34 L638.5,398.3 L638.72,398.26 L638.94,398.21 L639.15,398.17 L639.37,398.12 L639.59,398.08 L639.81,398.04 L640.03,397.99 L640.24,397.95 L640.46,397.9 L640.68,397.86 L640.9,397.82 L641.11,397.77 L641.33,397.73 L641.55,397.68 L641.77,397.64 L641.98,397.6 L642.2,397.55 L642.42,397.51 L642.64,397.46 L642.85,397.42 L643.07,397.37 L643.29,397.33 L643.51,397.29 L643.72,397.24 L643.94,397.2 L644.16,397.15 L644.38,397.11 L644.59,397.07 L644.81,397.02 L645.03,396.98 L645.25,396.93 L645.47,396.89 L645.68,396.84 L645.9,396.8 L646.12,396.76 L646.34,396.71 L646.55,396.67 L646.77,396.62 L646.99,396.58 L647.21,396.54 L647.42,396.49 L647.64,396.45 L647.86,396.4 L648.08,396.36 L648.29,396.31 L648.51,396.24 L648.73,396.17 L648.95,396.11 L649.16,396.04 L649.38,395.97 L649.6,395.91 L649.82,395.84 L650.03,395.77 L650.25,395.71 L650.47,395.64 L650.69,395.57 L650.91,395.51 L651.12,395.44 L651.34,395.37 L651.56,395.3 L651.78,395.24 L651.99,395.17 L652.21,395.1 L652.43,395.04 L652.65,394.97 L652.86,394.9 L653.08,394.84 L653.3,394.77 L653.52,394.7 L653.73,394.64 L653.95,394.57 L654.17,394.5 L654.39,394.35 L654.6,394.2 L654.82,394.05 L655.04,393.9 L655.26,393.76 L655.47,393.61 L655.69,393.46 L655.91,393.31 L656.13,393.16 L656.34,393.01 L656.56,392.86 L656.78,392.71 L657,392.56 L657.22,392.31 L657.43,392 L657.65,391.68 L657.87,391.37 L658.09,391.06 L658.3,390.75 L658.52,390.43 L658.74,390.12 L658.96,389.81 L659.17,389.49 L659.39,389.18" fill="none" stroke="#d4503f" stroke-width="1.8" stroke-linejoin="round"/>
<line x1="598.9" y1="388.9" x2="598.9" y2="415.5" stroke="#777" stroke-width="0.7" stroke-dasharray="0.9,2.2"/>
<rect x="538.3" y="422.4" width="121.2" height="26.2" fill="none" stroke="#8a8a8a" stroke-width="0.6"/>
<line x1="536.7" y1="423.4" x2="538.3" y2="423.4" stroke="#666" stroke-width="0.4"/>
<line x1="536.7" y1="429.3" x2="538.3" y2="429.3" stroke="#666" stroke-width="0.4"/>
<line x1="536.7" y1="435.3" x2="538.3" y2="435.3" stroke="#666" stroke-width="0.4"/>
<line x1="536.7" y1="441.2" x2="538.3" y2="441.2" stroke="#666" stroke-width="0.4"/>
<line x1="536.7" y1="447.2" x2="538.3" y2="447.2" stroke="#666" stroke-width="0.4"/>
<text transform="translate(527.3,436.7) rotate(-90)" font-size="5.9" fill="#222" text-anchor="middle" stroke="#222" stroke-width="0.18">Time</text>
<path d="M538.4,445.1h0M538.6,441.9h0M539.1,443.4h0M539.5,437.2h0M539.7,432.9h0M539.9,437.1h0M540.1,441.4h0M540.4,442.5h0M540.6,438.6h0M540.8,443.5h0M541.0,436.3h0M541.5,437.7h0M541.9,444.8h0M542.1,440.7h0M542.3,436.1h0M542.8,442.8h0M543.2,440.9h0M543.4,445.2h0M543.6,439.9h0M543.8,444.8h0M544.1,444.1h0M544.7,439.5h0M545.2,439.8h0M545.4,439.7h0M545.6,435.3h0M545.8,440.2h0M546.0,439.5h0M546.2,444.8h0M546.5,438.7h0M546.7,429.4h0M546.9,443.6h0M547.1,436.9h0M547.3,441.9h0M547.5,432.5h0M547.8,436.6h0M548.0,426.4h0M548.2,423.6h0M548.4,429.3h0M548.6,435.4h0M548.9,440.4h0M549.1,444.2h0M549.3,440.1h0M549.5,434.8h0M549.7,436.0h0M550.2,438.6h0M550.4,441.9h0M551.0,432.3h0M551.2,435.3h0M551.5,434.5h0M551.7,440.1h0M551.9,439.7h0M552.1,437.9h0M552.3,443.8h0M552.6,442.9h0M552.8,435.0h0M553.0,436.1h0M553.2,426.2h0M553.4,444.9h0M553.9,434.2h0M554.1,437.9h0M554.3,438.2h0M554.7,440.2h0M555.2,444.2h0M555.6,442.9h0M555.8,435.1h0M556.0,424.5h0M556.3,438.5h0M556.5,444.6h0M556.7,426.8h0M556.9,438.6h0M557.1,436.2h0M557.3,445.2h0M557.6,435.7h0M557.8,445.4h0M558.0,434.3h0M558.2,436.7h0M558.4,435.3h0M558.6,431.2h0M558.9,441.0h0M559.1,444.3h0M559.3,444.0h0M559.5,436.3h0M559.7,443.2h0M560.0,445.3h0M560.2,442.1h0M560.4,442.4h0M560.6,430.9h0M560.8,436.7h0M561.0,435.6h0M561.3,433.7h0M561.5,434.2h0M561.7,439.0h0M561.9,443.9h0M562.1,442.4h0M562.3,444.6h0M562.6,442.9h0M562.8,441.8h0M563.0,434.2h0M563.2,442.6h0M563.4,428.0h0M563.9,437.3h0M564.1,425.4h0M564.5,440.4h0M565.2,444.1h0M565.4,441.7h0M565.6,440.7h0M565.8,442.2h0M566.0,436.7h0M566.3,445.4h0M566.5,434.3h0M566.7,433.3h0M567.1,442.1h0M567.8,441.3h0M568.0,436.1h0M568.2,445.1h0M568.4,444.8h0M568.7,437.6h0M568.9,442.6h0M569.3,439.3h0M569.7,431.6h0M570.2,430.8h0M570.6,444.3h0M570.8,429.8h0M571.0,436.1h0M571.5,428.4h0M571.7,434.7h0M571.9,443.2h0M572.1,439.2h0M572.6,433.8h0M572.8,435.5h0M573.0,443.5h0M573.2,443.1h0M573.9,444.1h0M574.1,443.9h0M574.3,436.4h0M574.5,442.0h0M575.2,439.9h0M575.4,436.0h0M575.6,441.5h0M576.1,442.1h0M576.3,434.5h0M576.5,435.0h0M577.1,443.8h0M577.4,429.5h0M577.8,435.8h0M578.0,444.8h0M578.2,440.8h0M579.3,439.2h0M579.8,438.1h0M580.0,432.8h0M580.2,434.7h0M580.4,444.9h0M580.6,434.9h0M581.3,443.7h0M581.9,442.2h0M582.1,436.8h0M582.6,441.5h0M582.8,442.5h0M583.0,444.1h0M583.7,436.9h0M584.1,436.0h0M584.3,434.8h0M584.5,441.8h0M584.8,442.6h0M585.0,437.3h0M585.4,435.8h0M585.6,438.6h0M585.8,439.1h0M586.1,444.0h0M586.3,434.7h0M586.7,443.4h0M586.9,432.5h0M587.6,438.2h0M587.8,440.0h0M588.0,440.2h0M588.2,437.1h0M588.5,438.4h0M588.7,442.2h0M588.9,437.1h0M589.1,434.6h0M589.3,434.2h0M589.5,444.4h0M590.0,436.6h0M590.2,438.6h0M590.4,437.9h0M590.6,437.8h0M590.8,434.5h0M591.1,439.6h0M591.3,435.4h0M591.9,424.6h0M592.4,438.2h0M592.6,441.4h0M592.8,444.1h0M593.0,439.2h0M593.2,441.8h0M593.5,442.3h0M593.7,444.9h0M593.9,442.2h0M594.3,438.6h0M594.8,436.3h0M595.2,442.5h0M595.4,437.7h0M596.1,438.9h0M596.3,439.1h0M596.5,444.4h0M596.7,434.6h0M596.9,445.1h0M597.4,433.2h0M598.0,435.8h0M598.2,437.8h0M598.7,435.0h0M598.9,439.9h0M599.1,438.8h0M599.8,437.6h0M600.0,434.2h0M600.4,443.4h0M601.5,443.8h0M601.7,438.4h0M601.9,437.5h0M602.2,442.6h0M602.4,444.0h0M602.6,439.1h0M603.0,434.7h0M603.3,439.9h0M603.5,438.0h0M603.7,441.8h0M603.9,441.0h0M604.1,429.3h0M604.3,437.1h0M605.0,440.6h0M605.2,444.2h0M605.4,442.0h0M605.6,437.1h0M606.5,441.3h0M607.0,425.7h0M607.4,442.8h0M607.6,438.6h0M607.8,444.6h0M608.3,438.2h0M608.5,440.8h0M608.7,435.5h0M608.9,436.7h0M609.1,442.6h0M609.8,440.6h0M610.2,441.8h0M610.7,436.9h0M610.9,437.2h0M611.1,440.4h0M611.3,436.0h0M611.5,439.5h0M612.2,435.2h0M612.4,442.3h0M613.0,436.1h0M613.3,439.7h0M613.7,442.1h0M613.9,442.5h0M614.3,440.7h0M614.6,439.0h0M614.8,442.1h0M615.0,434.6h0M615.2,423.5h0M615.4,436.8h0M615.7,439.2h0M616.1,438.9h0M616.7,440.9h0M617.0,438.0h0M617.8,437.1h0M618.7,436.4h0M619.1,435.5h0M619.4,435.1h0M619.6,438.7h0M620.7,438.3h0M621.3,440.3h0M621.7,442.7h0M622.0,434.8h0M622.4,437.6h0M622.6,444.8h0M623.5,443.6h0M624.1,436.5h0M624.4,441.2h0M625.2,444.6h0M625.4,434.1h0M625.7,438.6h0M625.9,438.2h0M626.1,444.9h0M626.5,442.2h0M626.8,442.1h0M627.4,439.3h0M627.6,437.7h0M628.1,438.0h0M628.7,444.8h0M629.4,437.1h0M629.6,441.0h0M630.5,439.7h0M630.7,427.1h0M630.9,439.9h0M631.1,443.4h0M631.5,427.6h0M631.8,443.4h0M632.0,439.7h0M632.2,442.4h0M632.8,434.7h0M633.3,440.1h0M633.5,441.9h0M633.9,444.1h0M634.2,436.4h0M634.4,444.6h0M635.2,444.5h0M635.5,437.5h0M636.5,442.4h0M637.0,439.0h0M637.4,436.8h0M637.6,440.2h0M638.1,434.8h0M638.5,445.1h0M638.7,434.6h0M638.9,436.8h0M639.8,441.8h0M640.2,436.5h0M640.7,436.1h0M641.5,444.6h0M641.8,442.0h0M642.2,438.8h0M642.4,438.6h0M643.1,439.4h0M643.3,436.5h0M643.7,443.4h0M644.4,441.6h0M645.2,436.7h0M645.9,423.8h0M646.8,439.4h0M647.2,438.2h0M647.4,443.8h0M648.5,438.7h0M648.7,441.5h0M649.4,430.0h0M649.8,440.2h0M650.5,443.0h0M650.7,437.5h0M652.2,443.4h0M652.4,443.8h0M653.1,436.3h0M653.3,441.9h0M653.5,438.3h0M653.7,442.7h0M654.2,424.3h0M654.4,434.5h0M654.6,430.5h0M655.7,439.8h0M655.9,436.9h0M656.1,437.0h0M656.8,439.8h0M657.0,435.1h0M657.2,437.0h0M657.4,438.7h0M657.7,439.4h0M657.9,443.3h0M658.1,437.3h0M658.3,432.7h0M658.5,437.7h0M659.0,444.4h0M659.2,438.5h0M659.4,434.2h0" stroke="#3b7f79" stroke-width="1.3" stroke-linecap="round"/>
<path d="M538.8,444.2h0M539.3,447.1h0M541.2,446.0h0M541.7,439.6h0M542.5,446.3h0M543.0,447.0h0M544.3,445.0h0M544.5,440.2h0M544.9,446.8h0M549.9,446.3h0M550.6,446.9h0M550.8,442.8h0M553.6,442.8h0M554.5,439.5h0M554.9,445.2h0M555.4,445.5h0M563.6,446.9h0M564.3,439.9h0M564.7,443.2h0M565.0,444.7h0M566.9,444.0h0M567.3,446.4h0M567.6,447.1h0M569.1,435.8h0M569.5,445.7h0M570.0,440.1h0M570.4,445.3h0M571.3,445.5h0M572.4,443.3h0M573.4,446.7h0M573.7,441.8h0M574.7,444.9h0M575.0,440.5h0M575.8,442.4h0M576.7,444.0h0M576.9,443.4h0M577.6,445.4h0M578.4,445.2h0M578.7,446.8h0M578.9,445.4h0M579.1,441.3h0M579.5,446.1h0M580.8,446.4h0M581.1,447.1h0M581.5,444.3h0M581.7,444.0h0M582.4,440.4h0M583.2,444.1h0M583.5,446.8h0M583.9,445.7h0M585.2,447.1h0M586.5,444.4h0M587.1,446.4h0M587.4,446.9h0M589.8,444.2h0M591.5,443.0h0M591.7,444.8h0M592.2,434.6h0M594.1,446.3h0M594.5,444.0h0M595.0,434.6h0M595.6,440.6h0M595.9,440.4h0M597.2,444.9h0M597.6,447.0h0M597.8,445.0h0M598.5,445.6h0M599.3,446.3h0M599.6,444.9h0M600.2,430.1h0M600.6,443.7h0M600.9,447.1h0M601.1,444.6h0M601.3,446.2h0M602.8,437.6h0M604.6,445.5h0M604.8,444.2h0M605.9,443.9h0M606.1,446.4h0M606.3,447.1h0M606.7,442.8h0M607.2,446.3h0M608.0,444.7h0M609.3,443.6h0M609.6,444.0h0M610.0,446.0h0M610.4,445.2h0M611.7,447.2h0M612.0,445.0h0M612.6,440.1h0M612.8,446.0h0M613.5,445.6h0M614.1,444.3h0M615.9,445.1h0M616.3,446.2h0M616.5,447.1h0M617.2,439.6h0M617.4,441.0h0M617.6,437.1h0M618.0,445.6h0M618.3,445.8h0M618.5,446.6h0M618.9,443.1h0M619.8,445.7h0M620.0,444.0h0M620.2,442.5h0M620.4,445.4h0M620.9,443.5h0M621.1,444.0h0M621.5,446.0h0M622.2,445.9h0M622.8,446.0h0M623.1,446.1h0M623.3,447.1h0M623.7,442.9h0M623.9,446.7h0M624.6,441.5h0M624.8,441.4h0M625.0,445.3h0M626.3,446.8h0M627.0,447.2h0M627.2,447.1h0M627.8,445.3h0M628.3,443.7h0M628.5,445.0h0M628.9,443.0h0M629.1,445.0h0M629.8,442.5h0M630.0,445.1h0M630.2,444.5h0M631.3,441.9h0M632.4,446.6h0M632.6,443.7h0M633.1,445.2h0M633.7,442.8h0M634.6,442.8h0M634.8,447.1h0M635.0,440.8h0M635.7,442.6h0M635.9,446.6h0M636.1,436.7h0M636.3,446.6h0M636.8,440.8h0M637.2,442.7h0M637.8,443.8h0M638.3,439.6h0M639.2,443.5h0M639.4,446.4h0M639.6,445.7h0M640.0,442.0h0M640.5,446.1h0M640.9,447.2h0M641.1,447.0h0M641.3,444.1h0M642.0,446.6h0M642.6,442.6h0M642.9,444.2h0M643.5,446.2h0M643.9,443.7h0M644.2,438.7h0M644.6,447.0h0M644.8,440.4h0M645.0,447.2h0M645.5,435.7h0M645.7,445.1h0M646.1,443.4h0M646.3,446.9h0M646.6,442.0h0M647.0,442.2h0M647.6,445.3h0M647.9,436.9h0M648.1,442.5h0M648.3,446.8h0M648.9,443.2h0M649.2,444.1h0M649.6,438.2h0M650.0,444.8h0M650.3,446.7h0M650.9,441.1h0M651.1,446.6h0M651.3,443.9h0M651.6,439.1h0M651.8,445.4h0M652.0,445.2h0M652.6,444.1h0M652.9,447.1h0M654.0,447.0h0M654.8,446.0h0M655.0,446.3h0M655.3,445.2h0M655.5,446.3h0M656.3,446.6h0M656.6,446.8h0M658.7,446.8h0" stroke="#d4503f" stroke-width="1.3" stroke-linecap="round"/>
<line x1="598.9" y1="422.4" x2="598.9" y2="448.6" stroke="#777" stroke-width="0.7" stroke-dasharray="0.9,2.2"/>
<circle cx="663.8" cy="403.2" r="0.8" fill="#3b7f79"/>
<circle cx="663.8" cy="410" r="0.8" fill="#d4503f"/>
<circle cx="663.8" cy="434.9" r="0.8" fill="#d4503f"/>
<circle cx="663.8" cy="441" r="0.8" fill="#3b7f79"/>
<text x="371.3" y="480.3" font-size="9.50" fill="#222" stroke="#222" stroke-width="0.24" textLength="120.9" lengthAdjust="spacingAndGlyphs">Testing Dataset Meta-Cohort</text>
<rect x="369.9" y="488.9" width="121.2" height="26.6" fill="none" stroke="#8a8a8a" stroke-width="0.6"/>
<line x1="368.3" y1="490.9" x2="369.9" y2="490.9" stroke="#666" stroke-width="0.4"/>
<line x1="368.3" y1="496.8" x2="369.9" y2="496.8" stroke="#666" stroke-width="0.4"/>
<line x1="368.3" y1="502.7" x2="369.9" y2="502.7" stroke="#666" stroke-width="0.4"/>
<line x1="368.3" y1="508.6" x2="369.9" y2="508.6" stroke="#666" stroke-width="0.4"/>
<line x1="368.3" y1="514.6" x2="369.9" y2="514.6" stroke="#666" stroke-width="0.4"/>
<text transform="translate(359.3,502.7) rotate(-90)" font-size="6.1" fill="#222" text-anchor="middle" stroke="#222" stroke-width="0.18">Risk Score</text>
<line x1="411.1" y1="515.5" x2="411.1" y2="516.9" stroke="#666" stroke-width="0.4"/>
<line x1="411.1" y1="548" x2="411.1" y2="549.4" stroke="#666" stroke-width="0.4"/>
<line x1="452.3" y1="515.5" x2="452.3" y2="516.9" stroke="#666" stroke-width="0.4"/>
<line x1="452.3" y1="548" x2="452.3" y2="549.4" stroke="#666" stroke-width="0.4"/>
<path d="M369.94,514.24 L370.02,513.71 L370.1,513.19 L370.19,512.67 L370.27,512.14 L370.35,511.62 L370.43,511.1 L370.51,510.6 L370.59,510.51 L370.67,510.42 L370.76,510.33 L370.84,510.24 L370.92,510.15 L371,510.06 L371.08,509.97 L371.16,509.88 L371.24,509.79 L371.33,509.7 L371.41,509.61 L371.49,509.52 L371.57,509.44 L371.65,509.35 L371.73,509.26 L371.81,509.17 L371.9,509.08 L371.98,509.04 L372.06,509 L372.14,508.96 L372.22,508.92 L372.3,508.88 L372.38,508.84 L372.47,508.8 L372.55,508.76 L372.63,508.72 L372.71,508.69 L372.79,508.65 L372.87,508.61 L372.95,508.57 L373.04,508.53 L373.12,508.49 L373.2,508.45 L373.28,508.41 L373.36,508.37 L373.44,508.34 L373.52,508.3 L373.61,508.26 L373.69,508.22 L373.77,508.18 L373.85,508.14 L373.93,508.1 L374.01,508.06 L374.09,508.03 L374.18,507.99 L374.26,507.95 L374.34,507.91 L374.42,507.87 L374.5,507.83 L374.58,507.79 L374.66,507.75 L374.75,507.71 L374.83,507.68 L374.91,507.65 L374.99,507.63 L375.07,507.61 L375.15,507.59 L375.24,507.58 L375.32,507.56 L375.4,507.54 L375.48,507.52 L375.56,507.5 L375.64,507.49 L375.72,507.47 L375.81,507.45 L375.89,507.43 L375.97,507.42 L376.05,507.4 L376.13,507.38 L376.21,507.36 L376.29,507.34 L376.38,507.33 L376.46,507.31 L376.54,507.29 L376.62,507.27 L376.7,507.26 L376.78,507.24 L376.86,507.22 L376.95,507.2 L377.03,507.18 L377.11,507.17 L377.19,507.15 L377.27,507.13 L377.35,507.11 L377.43,507.1 L377.52,507.08 L377.6,507.06 L377.68,507.04 L377.76,507.02 L377.84,507.01 L377.92,506.99 L378,506.97 L378.09,506.95 L378.17,506.94 L378.25,506.92 L378.33,506.9 L378.41,506.88 L378.49,506.86 L378.57,506.85 L378.66,506.83 L378.74,506.81 L378.82,506.79 L378.9,506.77 L378.98,506.76 L379.06,506.74 L379.14,506.72 L379.23,506.7 L379.31,506.69 L379.39,506.67 L379.47,506.65 L379.55,506.63 L379.63,506.61 L379.71,506.6 L379.8,506.58 L379.88,506.56 L379.96,506.54 L380.04,506.53 L380.12,506.51 L380.2,506.49 L380.29,506.47 L380.37,506.45 L380.45,506.44 L380.53,506.42 L380.61,506.4 L380.69,506.38 L380.77,506.37 L380.86,506.35 L380.94,506.34 L381.02,506.33 L381.1,506.32 L381.18,506.31 L381.26,506.3 L381.34,506.29 L381.43,506.28 L381.51,506.27 L381.59,506.25 L381.67,506.24 L381.75,506.23 L381.83,506.22 L381.91,506.21 L382,506.2 L382.08,506.19 L382.16,506.18 L382.24,506.17 L382.32,506.16 L382.4,506.15 L382.48,506.14 L382.57,506.13 L382.65,506.11 L382.73,506.1 L382.81,506.09 L382.89,506.08 L382.97,506.07 L383.05,506.06 L383.14,506.05 L383.22,506.04 L383.3,506.03 L383.38,506.02 L383.46,506.01 L383.54,506 L383.62,505.99 L383.71,505.97 L383.79,505.96 L383.87,505.95 L383.95,505.94 L384.03,505.93 L384.11,505.92 L384.19,505.91 L384.28,505.9 L384.36,505.89 L384.44,505.88 L384.52,505.87 L384.6,505.86 L384.68,505.85 L384.76,505.83 L384.85,505.82 L384.93,505.81 L385.01,505.8 L385.09,505.79 L385.17,505.78 L385.25,505.77 L385.34,505.76 L385.42,505.75 L385.5,505.74 L385.58,505.73 L385.66,505.72 L385.74,505.71 L385.82,505.69 L385.91,505.68 L385.99,505.67 L386.07,505.66 L386.15,505.65 L386.23,505.64 L386.31,505.63 L386.39,505.62 L386.48,505.61 L386.56,505.6 L386.64,505.59 L386.72,505.58 L386.8,505.57 L386.88,505.55 L386.96,505.54 L387.05,505.53 L387.13,505.52 L387.21,505.51 L387.29,505.5 L387.37,505.49 L387.45,505.48 L387.53,505.47 L387.62,505.46 L387.7,505.45 L387.78,505.44 L387.86,505.43 L387.94,505.41 L388.02,505.4 L388.1,505.39 L388.19,505.38 L388.27,505.37 L388.35,505.36 L388.43,505.35 L388.51,505.34 L388.59,505.33 L388.67,505.32 L388.76,505.31 L388.84,505.3 L388.92,505.29 L389,505.27 L389.08,505.26 L389.16,505.25 L389.24,505.24 L389.33,505.23 L389.41,505.22 L389.49,505.21 L389.57,505.2 L389.65,505.19 L389.73,505.18 L389.81,505.17 L389.9,505.16 L389.98,505.15 L390.06,505.13 L390.14,505.12 L390.22,505.11 L390.3,505.1 L390.39,505.09 L390.47,505.08 L390.55,505.07 L390.63,505.06 L390.71,505.06 L390.79,505.05 L390.87,505.05 L390.96,505.04 L391.04,505.04 L391.12,505.03 L391.2,505.03 L391.28,505.03 L391.36,505.02 L391.44,505.02 L391.53,505.01 L391.61,505.01 L391.69,505.01 L391.77,505 L391.85,505 L391.93,504.99 L392.01,504.99 L392.1,504.98 L392.18,504.98 L392.26,504.98 L392.34,504.97 L392.42,504.97 L392.5,504.96 L392.58,504.96 L392.67,504.96 L392.75,504.95 L392.83,504.95 L392.91,504.94 L392.99,504.94 L393.07,504.93 L393.15,504.93 L393.24,504.93 L393.32,504.92 L393.4,504.92 L393.48,504.91 L393.56,504.91 L393.64,504.91 L393.72,504.9 L393.81,504.9 L393.89,504.89 L393.97,504.89 L394.05,504.88 L394.13,504.88 L394.21,504.88 L394.29,504.87 L394.38,504.87 L394.46,504.86 L394.54,504.86 L394.62,504.86 L394.7,504.85 L394.78,504.85 L394.86,504.84 L394.95,504.84 L395.03,504.83 L395.11,504.83 L395.19,504.83 L395.27,504.82 L395.35,504.82 L395.44,504.81 L395.52,504.81 L395.6,504.81 L395.68,504.8 L395.76,504.8 L395.84,504.79 L395.92,504.79 L396.01,504.78 L396.09,504.78 L396.17,504.78 L396.25,504.77 L396.33,504.77 L396.41,504.76 L396.49,504.76 L396.58,504.76 L396.66,504.75 L396.74,504.75 L396.82,504.74 L396.9,504.74 L396.98,504.73 L397.06,504.73 L397.15,504.73 L397.23,504.72 L397.31,504.72 L397.39,504.71 L397.47,504.71 L397.55,504.71 L397.63,504.7 L397.72,504.7 L397.8,504.69 L397.88,504.69 L397.96,504.68 L398.04,504.68 L398.12,504.68 L398.2,504.67 L398.29,504.67 L398.37,504.66 L398.45,504.66 L398.53,504.65 L398.61,504.65 L398.69,504.65 L398.77,504.64 L398.86,504.64 L398.94,504.63 L399.02,504.63 L399.1,504.63 L399.18,504.62 L399.26,504.62 L399.34,504.61 L399.43,504.61 L399.51,504.6 L399.59,504.6 L399.67,504.6 L399.75,504.59 L399.83,504.59 L399.91,504.58 L400,504.58 L400.08,504.58 L400.16,504.57 L400.24,504.57 L400.32,504.56 L400.4,504.56 L400.49,504.55 L400.57,504.55 L400.65,504.55 L400.73,504.54 L400.81,504.54 L400.89,504.53 L400.97,504.53 L401.06,504.53 L401.14,504.52 L401.22,504.52 L401.3,504.51 L401.38,504.51 L401.46,504.5 L401.54,504.5 L401.63,504.5 L401.71,504.49 L401.79,504.49 L401.87,504.48 L401.95,504.48 L402.03,504.48 L402.11,504.47 L402.2,504.47 L402.28,504.46 L402.36,504.46 L402.44,504.45 L402.52,504.45 L402.6,504.45 L402.68,504.44 L402.77,504.44 L402.85,504.43 L402.93,504.43 L403.01,504.43 L403.09,504.42 L403.17,504.42 L403.25,504.41 L403.34,504.41 L403.42,504.4 L403.5,504.4 L403.58,504.4 L403.66,504.39 L403.74,504.39 L403.82,504.38 L403.91,504.38 L403.99,504.38 L404.07,504.37 L404.15,504.37 L404.23,504.36 L404.31,504.36 L404.39,504.35 L404.48,504.35 L404.56,504.34 L404.64,504.34 L404.72,504.33 L404.8,504.32 L404.88,504.32 L404.96,504.31 L405.05,504.31 L405.13,504.3 L405.21,504.29 L405.29,504.29 L405.37,504.28 L405.45,504.27 L405.54,504.27 L405.62,504.26 L405.7,504.26 L405.78,504.25 L405.86,504.24 L405.94,504.24 L406.02,504.23 L406.11,504.23 L406.19,504.22 L406.27,504.21 L406.35,504.21 L406.43,504.2 L406.51,504.19 L406.59,504.19 L406.68,504.18 L406.76,504.18 L406.84,504.17 L406.92,504.16 L407,504.16 L407.08,504.15 L407.16,504.14 L407.25,504.14 L407.33,504.13 L407.41,504.13 L407.49,504.12 L407.57,504.11 L407.65,504.11 L407.73,504.1 L407.82,504.09 L407.9,504.09 L407.98,504.08 L408.06,504.08 L408.14,504.07 L408.22,504.06 L408.3,504.06 L408.39,504.05 L408.47,504.05 L408.55,504.04 L408.63,504.03 L408.71,504.03 L408.79,504.02 L408.87,504.01 L408.96,504.01 L409.04,504 L409.12,504 L409.2,503.99 L409.28,503.98 L409.36,503.98 L409.44,503.97 L409.53,503.96 L409.61,503.96 L409.69,503.95 L409.77,503.95 L409.85,503.94 L409.93,503.93 L410.01,503.93 L410.1,503.92 L410.18,503.91 L410.26,503.91 L410.34,503.9 L410.42,503.9 L410.5,503.89 L410.59,503.88 L410.67,503.88 L410.75,503.87 L410.83,503.87 L410.91,503.86 L410.99,503.85 L411.07,503.85 L411.16,503.84 L411.24,503.83 L411.32,503.83 L411.4,503.82 L411.48,503.82 L411.56,503.81 L411.64,503.8 L411.73,503.8 L411.81,503.79 L411.89,503.78 L411.97,503.78 L412.05,503.77 L412.13,503.77 L412.21,503.76 L412.3,503.75 L412.38,503.75 L412.46,503.74 L412.54,503.73 L412.62,503.73 L412.7,503.72 L412.78,503.72 L412.87,503.71 L412.95,503.7 L413.03,503.7 L413.11,503.69 L413.19,503.69 L413.27,503.68 L413.35,503.67 L413.44,503.67 L413.52,503.66 L413.6,503.65 L413.68,503.65 L413.76,503.64 L413.84,503.64 L413.92,503.63 L414.01,503.62 L414.09,503.62 L414.17,503.61 L414.25,503.6 L414.33,503.6 L414.41,503.59 L414.49,503.59 L414.58,503.58 L414.66,503.57 L414.74,503.57 L414.82,503.56 L414.9,503.56 L414.98,503.55 L415.06,503.54 L415.15,503.54 L415.23,503.53 L415.31,503.52 L415.39,503.52 L415.47,503.51 L415.55,503.51 L415.64,503.5 L415.72,503.49 L415.8,503.49 L415.88,503.48 L415.96,503.47 L416.04,503.47 L416.12,503.46 L416.21,503.46 L416.29,503.45 L416.37,503.44 L416.45,503.44 L416.53,503.43 L416.61,503.42 L416.69,503.42 L416.78,503.41 L416.86,503.41 L416.94,503.4 L417.02,503.39 L417.1,503.39 L417.18,503.38 L417.26,503.38 L417.35,503.37 L417.43,503.36 L417.51,503.36 L417.59,503.35 L417.67,503.34 L417.75,503.34 L417.83,503.33 L417.92,503.33 L418,503.32 L418.08,503.31 L418.16,503.31 L418.24,503.3 L418.32,503.29 L418.4,503.29 L418.49,503.28 L418.57,503.28 L418.65,503.27 L418.73,503.27 L418.81,503.26 L418.89,503.26 L418.97,503.25 L419.06,503.24 L419.14,503.24 L419.22,503.23 L419.3,503.23 L419.38,503.22 L419.46,503.22 L419.54,503.21 L419.63,503.21 L419.71,503.2 L419.79,503.19 L419.87,503.19 L419.95,503.18 L420.03,503.18 L420.11,503.17 L420.2,503.17 L420.28,503.16 L420.36,503.16 L420.44,503.15 L420.52,503.14 L420.6,503.14 L420.69,503.13 L420.77,503.13 L420.85,503.12 L420.93,503.12 L421.01,503.11 L421.09,503.11 L421.17,503.1 L421.26,503.09 L421.34,503.09 L421.42,503.08 L421.5,503.08 L421.58,503.07 L421.66,503.07 L421.74,503.06 L421.83,503.06 L421.91,503.05 L421.99,503.04 L422.07,503.04 L422.15,503.03 L422.23,503.03 L422.31,503.02 L422.4,503.02 L422.48,503.01 L422.56,503.01 L422.64,503 L422.72,502.99 L422.8,502.99 L422.88,502.98 L422.97,502.98 L423.05,502.97 L423.13,502.97 L423.21,502.96 L423.29,502.96 L423.37,502.95 L423.45,502.94 L423.54,502.94 L423.62,502.93 L423.7,502.93 L423.78,502.92 L423.86,502.92 L423.94,502.91 L424.02,502.91 L424.11,502.9 L424.19,502.89 L424.27,502.89 L424.35,502.88 L424.43,502.88 L424.51,502.87 L424.59,502.87 L424.68,502.86 L424.76,502.86 L424.84,502.85 L424.92,502.84 L425,502.84 L425.08,502.83 L425.16,502.83 L425.25,502.82 L425.33,502.82 L425.41,502.81 L425.49,502.81 L425.57,502.8 L425.65,502.79 L425.74,502.79 L425.82,502.78 L425.9,502.78 L425.98,502.77 L426.06,502.77 L426.14,502.76 L426.22,502.76 L426.31,502.75 L426.39,502.74 L426.47,502.74 L426.55,502.73 L426.63,502.73 L426.71,502.72 L426.79,502.72 L426.88,502.71 L426.96,502.71 L427.04,502.7 L427.12,502.69 L427.2,502.69 L427.28,502.68 L427.36,502.68 L427.45,502.67 L427.53,502.67 L427.61,502.66 L427.69,502.66 L427.77,502.65 L427.85,502.64 L427.93,502.64 L428.02,502.63 L428.1,502.63 L428.18,502.62 L428.26,502.62 L428.34,502.61 L428.42,502.61 L428.5,502.6 L428.59,502.59 L428.67,502.59 L428.75,502.58 L428.83,502.58 L428.91,502.57 L428.99,502.57 L429.07,502.56 L429.16,502.56 L429.24,502.55 L429.32,502.54 L429.4,502.54 L429.48,502.53 L429.56,502.53 L429.64,502.52 L429.73,502.52 L429.81,502.51 L429.89,502.51 L429.97,502.5 L430.05,502.49 L430.13,502.49 L430.21,502.48 L430.3,502.48 L430.38,502.47 L430.46,502.47" fill="none" stroke="#3b7f79" stroke-width="1.8" stroke-linejoin="round"/>
<path d="M430.54,502.46 L430.62,502.45 L430.7,502.44 L430.79,502.44 L430.87,502.43 L430.95,502.42 L431.03,502.41 L431.11,502.4 L431.19,502.4 L431.27,502.39 L431.36,502.38 L431.44,502.37 L431.52,502.36 L431.6,502.36 L431.68,502.35 L431.76,502.34 L431.84,502.33 L431.93,502.33 L432.01,502.32 L432.09,502.31 L432.17,502.3 L432.25,502.29 L432.33,502.29 L432.41,502.28 L432.5,502.27 L432.58,502.26 L432.66,502.25 L432.74,502.25 L432.82,502.24 L432.9,502.23 L432.98,502.22 L433.07,502.21 L433.15,502.21 L433.23,502.2 L433.31,502.19 L433.39,502.18 L433.47,502.17 L433.55,502.17 L433.64,502.16 L433.72,502.15 L433.8,502.14 L433.88,502.13 L433.96,502.13 L434.04,502.12 L434.12,502.11 L434.21,502.1 L434.29,502.1 L434.37,502.09 L434.45,502.08 L434.53,502.07 L434.61,502.06 L434.69,502.06 L434.78,502.05 L434.86,502.04 L434.94,502.03 L435.02,502.02 L435.1,502.02 L435.18,502.01 L435.26,502 L435.35,501.99 L435.43,501.98 L435.51,501.98 L435.59,501.97 L435.67,501.96 L435.75,501.95 L435.84,501.94 L435.92,501.94 L436,501.93 L436.08,501.92 L436.16,501.91 L436.24,501.9 L436.32,501.9 L436.41,501.89 L436.49,501.88 L436.57,501.87 L436.65,501.87 L436.73,501.86 L436.81,501.85 L436.89,501.84 L436.98,501.83 L437.06,501.83 L437.14,501.82 L437.22,501.81 L437.3,501.8 L437.38,501.79 L437.46,501.79 L437.55,501.78 L437.63,501.77 L437.71,501.76 L437.79,501.75 L437.87,501.75 L437.95,501.74 L438.03,501.73 L438.12,501.72 L438.2,501.71 L438.28,501.71 L438.36,501.7 L438.44,501.69 L438.52,501.68 L438.6,501.67 L438.69,501.67 L438.77,501.66 L438.85,501.65 L438.93,501.64 L439.01,501.64 L439.09,501.63 L439.17,501.62 L439.26,501.61 L439.34,501.6 L439.42,501.6 L439.5,501.59 L439.58,501.58 L439.66,501.57 L439.74,501.56 L439.83,501.56 L439.91,501.55 L439.99,501.54 L440.07,501.53 L440.15,501.52 L440.23,501.52 L440.31,501.51 L440.4,501.5 L440.48,501.49 L440.56,501.48 L440.64,501.48 L440.72,501.47 L440.8,501.46 L440.89,501.45 L440.97,501.44 L441.05,501.44 L441.13,501.43 L441.21,501.42 L441.29,501.41 L441.37,501.41 L441.46,501.4 L441.54,501.39 L441.62,501.38 L441.7,501.37 L441.78,501.37 L441.86,501.36 L441.94,501.35 L442.03,501.34 L442.11,501.33 L442.19,501.33 L442.27,501.32 L442.35,501.31 L442.43,501.3 L442.51,501.29 L442.6,501.29 L442.68,501.28 L442.76,501.27 L442.84,501.26 L442.92,501.25 L443,501.25 L443.08,501.24 L443.17,501.23 L443.25,501.22 L443.33,501.22 L443.41,501.21 L443.49,501.2 L443.57,501.19 L443.65,501.18 L443.74,501.18 L443.82,501.17 L443.9,501.16 L443.98,501.15 L444.06,501.15 L444.14,501.14 L444.22,501.13 L444.31,501.12 L444.39,501.12 L444.47,501.11 L444.55,501.1 L444.63,501.09 L444.71,501.09 L444.79,501.08 L444.88,501.07 L444.96,501.06 L445.04,501.06 L445.12,501.05 L445.2,501.04 L445.28,501.04 L445.36,501.03 L445.45,501.02 L445.53,501.01 L445.61,501.01 L445.69,501 L445.77,500.99 L445.85,500.98 L445.94,500.98 L446.02,500.97 L446.1,500.96 L446.18,500.96 L446.26,500.95 L446.34,500.94 L446.42,500.93 L446.51,500.93 L446.59,500.92 L446.67,500.91 L446.75,500.9 L446.83,500.9 L446.91,500.89 L446.99,500.88 L447.08,500.87 L447.16,500.87 L447.24,500.86 L447.32,500.85 L447.4,500.85 L447.48,500.84 L447.56,500.83 L447.65,500.82 L447.73,500.82 L447.81,500.81 L447.89,500.8 L447.97,500.79 L448.05,500.79 L448.13,500.78 L448.22,500.77 L448.3,500.76 L448.38,500.76 L448.46,500.75 L448.54,500.74 L448.62,500.74 L448.7,500.73 L448.79,500.72 L448.87,500.71 L448.95,500.71 L449.03,500.7 L449.11,500.69 L449.19,500.68 L449.27,500.68 L449.36,500.67 L449.44,500.66 L449.52,500.65 L449.6,500.65 L449.68,500.64 L449.76,500.63 L449.84,500.63 L449.93,500.62 L450.01,500.61 L450.09,500.6 L450.17,500.6 L450.25,500.59 L450.33,500.58 L450.41,500.57 L450.5,500.57 L450.58,500.56 L450.66,500.55 L450.74,500.55 L450.82,500.54 L450.9,500.53 L450.99,500.52 L451.07,500.52 L451.15,500.51 L451.23,500.5 L451.31,500.49 L451.39,500.49 L451.47,500.48 L451.56,500.47 L451.64,500.46 L451.72,500.46 L451.8,500.45 L451.88,500.44 L451.96,500.44 L452.04,500.43 L452.13,500.42 L452.21,500.41 L452.29,500.41 L452.37,500.4 L452.45,500.39 L452.53,500.38 L452.61,500.38 L452.7,500.37 L452.78,500.36 L452.86,500.35 L452.94,500.35 L453.02,500.34 L453.1,500.33 L453.18,500.33 L453.27,500.32 L453.35,500.31 L453.43,500.3 L453.51,500.3 L453.59,500.29 L453.67,500.28 L453.75,500.27 L453.84,500.27 L453.92,500.26 L454,500.25 L454.08,500.24 L454.16,500.24 L454.24,500.23 L454.32,500.22 L454.41,500.22 L454.49,500.21 L454.57,500.2 L454.65,500.19 L454.73,500.19 L454.81,500.18 L454.89,500.17 L454.98,500.16 L455.06,500.16 L455.14,500.15 L455.22,500.14 L455.3,500.14 L455.38,500.13 L455.46,500.12 L455.55,500.11 L455.63,500.11 L455.71,500.1 L455.79,500.09 L455.87,500.08 L455.95,500.08 L456.04,500.07 L456.12,500.06 L456.2,500.05 L456.28,500.05 L456.36,500.04 L456.44,500.03 L456.52,500.03 L456.61,500.02 L456.69,500.01 L456.77,500 L456.85,500 L456.93,499.99 L457.01,499.98 L457.09,499.97 L457.18,499.97 L457.26,499.96 L457.34,499.95 L457.42,499.94 L457.5,499.94 L457.58,499.93 L457.66,499.92 L457.75,499.92 L457.83,499.91 L457.91,499.9 L457.99,499.89 L458.07,499.89 L458.15,499.88 L458.23,499.87 L458.32,499.86 L458.4,499.86 L458.48,499.85 L458.56,499.84 L458.64,499.84 L458.72,499.83 L458.8,499.82 L458.89,499.81 L458.97,499.81 L459.05,499.8 L459.13,499.79 L459.21,499.78 L459.29,499.78 L459.37,499.77 L459.46,499.76 L459.54,499.75 L459.62,499.75 L459.7,499.74 L459.78,499.73 L459.86,499.72 L459.94,499.72 L460.03,499.71 L460.11,499.7 L460.19,499.69 L460.27,499.69 L460.35,499.68 L460.43,499.67 L460.51,499.66 L460.6,499.66 L460.68,499.65 L460.76,499.64 L460.84,499.63 L460.92,499.62 L461,499.62 L461.09,499.61 L461.17,499.6 L461.25,499.59 L461.33,499.59 L461.41,499.58 L461.49,499.57 L461.57,499.56 L461.66,499.56 L461.74,499.55 L461.82,499.54 L461.9,499.53 L461.98,499.53 L462.06,499.52 L462.14,499.51 L462.23,499.5 L462.31,499.49 L462.39,499.49 L462.47,499.48 L462.55,499.47 L462.63,499.46 L462.71,499.46 L462.8,499.45 L462.88,499.44 L462.96,499.43 L463.04,499.43 L463.12,499.42 L463.2,499.41 L463.28,499.4 L463.37,499.4 L463.45,499.39 L463.53,499.38 L463.61,499.37 L463.69,499.36 L463.77,499.36 L463.85,499.35 L463.94,499.34 L464.02,499.33 L464.1,499.33 L464.18,499.32 L464.26,499.31 L464.34,499.3 L464.42,499.3 L464.51,499.29 L464.59,499.28 L464.67,499.27 L464.75,499.27 L464.83,499.26 L464.91,499.25 L464.99,499.24 L465.08,499.23 L465.16,499.23 L465.24,499.22 L465.32,499.21 L465.4,499.2 L465.48,499.2 L465.56,499.19 L465.65,499.18 L465.73,499.17 L465.81,499.17 L465.89,499.16 L465.97,499.15 L466.05,499.14 L466.14,499.13 L466.22,499.13 L466.3,499.12 L466.38,499.11 L466.46,499.1 L466.54,499.1 L466.62,499.09 L466.71,499.08 L466.79,499.07 L466.87,499.07 L466.95,499.06 L467.03,499.05 L467.11,499.04 L467.19,499.04 L467.28,499.03 L467.36,499.02 L467.44,499.01 L467.52,499 L467.6,499 L467.68,498.99 L467.76,498.98 L467.85,498.97 L467.93,498.97 L468.01,498.96 L468.09,498.95 L468.17,498.94 L468.25,498.94 L468.33,498.93 L468.42,498.92 L468.5,498.91 L468.58,498.91 L468.66,498.9 L468.74,498.89 L468.82,498.88 L468.9,498.87 L468.99,498.87 L469.07,498.86 L469.15,498.85 L469.23,498.84 L469.31,498.84 L469.39,498.83 L469.47,498.82 L469.56,498.81 L469.64,498.81 L469.72,498.8 L469.8,498.79 L469.88,498.78 L469.96,498.78 L470.04,498.77 L470.13,498.76 L470.21,498.75 L470.29,498.74 L470.37,498.74 L470.45,498.73 L470.53,498.72 L470.61,498.71 L470.7,498.71 L470.78,498.7 L470.86,498.69 L470.94,498.68 L471.02,498.68 L471.1,498.67 L471.19,498.66 L471.27,498.65 L471.35,498.65 L471.43,498.64 L471.51,498.63 L471.59,498.62 L471.67,498.61 L471.76,498.61 L471.84,498.6 L471.92,498.59 L472,498.58 L472.08,498.58 L472.16,498.57 L472.24,498.56 L472.33,498.55 L472.41,498.55 L472.49,498.54 L472.57,498.53 L472.65,498.52 L472.73,498.52 L472.81,498.51 L472.9,498.5 L472.98,498.49 L473.06,498.48 L473.14,498.48 L473.22,498.47 L473.3,498.46 L473.38,498.45 L473.47,498.44 L473.55,498.42 L473.63,498.41 L473.71,498.39 L473.79,498.37 L473.87,498.36 L473.95,498.34 L474.04,498.32 L474.12,498.31 L474.2,498.29 L474.28,498.27 L474.36,498.26 L474.44,498.24 L474.52,498.22 L474.61,498.21 L474.69,498.19 L474.77,498.17 L474.85,498.16 L474.93,498.14 L475.01,498.12 L475.09,498.11 L475.18,498.09 L475.26,498.07 L475.34,498.06 L475.42,498.04 L475.5,498.02 L475.58,498.01 L475.66,497.99 L475.75,497.97 L475.83,497.96 L475.91,497.94 L475.99,497.92 L476.07,497.91 L476.15,497.89 L476.24,497.87 L476.32,497.86 L476.4,497.84 L476.48,497.82 L476.56,497.81 L476.64,497.79 L476.72,497.77 L476.81,497.76 L476.89,497.74 L476.97,497.72 L477.05,497.71 L477.13,497.69 L477.21,497.67 L477.29,497.66 L477.38,497.64 L477.46,497.62 L477.54,497.61 L477.62,497.59 L477.7,497.57 L477.78,497.56 L477.86,497.54 L477.95,497.52 L478.03,497.51 L478.11,497.49 L478.19,497.47 L478.27,497.46 L478.35,497.44 L478.43,497.42 L478.52,497.41 L478.6,497.39 L478.68,497.37 L478.76,497.36 L478.84,497.34 L478.92,497.32 L479,497.31 L479.09,497.29 L479.17,497.27 L479.25,497.26 L479.33,497.24 L479.41,497.22 L479.49,497.21 L479.57,497.19 L479.66,497.17 L479.74,497.16 L479.82,497.14 L479.9,497.12 L479.98,497.11 L480.06,497.09 L480.14,497.07 L480.23,497.06 L480.31,497.04 L480.39,497.02 L480.47,497.01 L480.55,496.99 L480.63,496.97 L480.71,496.96 L480.8,496.94 L480.88,496.92 L480.96,496.91 L481.04,496.89 L481.12,496.88 L481.2,496.86 L481.29,496.84 L481.37,496.83 L481.45,496.81 L481.53,496.79 L481.61,496.78 L481.69,496.76 L481.77,496.74 L481.86,496.73 L481.94,496.71 L482.02,496.69 L482.1,496.68 L482.18,496.66 L482.26,496.64 L482.34,496.63 L482.43,496.61 L482.51,496.59 L482.59,496.58 L482.67,496.56 L482.75,496.54 L482.83,496.53 L482.91,496.51 L483,496.49 L483.08,496.48 L483.16,496.46 L483.24,496.44 L483.32,496.41 L483.4,496.38 L483.48,496.35 L483.57,496.32 L483.65,496.28 L483.73,496.25 L483.81,496.22 L483.89,496.19 L483.97,496.16 L484.05,496.13 L484.14,496.1 L484.22,496.07 L484.3,496.04 L484.38,496.01 L484.46,495.97 L484.54,495.94 L484.62,495.91 L484.71,495.88 L484.79,495.85 L484.87,495.82 L484.95,495.79 L485.03,495.76 L485.11,495.73 L485.19,495.7 L485.28,495.67 L485.36,495.63 L485.44,495.6 L485.52,495.57 L485.6,495.54 L485.68,495.51 L485.76,495.48 L485.85,495.45 L485.93,495.42 L486.01,495.39 L486.09,495.36 L486.17,495.33 L486.25,495.29 L486.34,495.26 L486.42,495.23 L486.5,495.2 L486.58,495.17 L486.66,495.14 L486.74,495.11 L486.82,495.08 L486.91,495.05 L486.99,495.02 L487.07,494.98 L487.15,494.95 L487.23,494.92 L487.31,494.89 L487.39,494.86 L487.48,494.83 L487.56,494.8 L487.64,494.77 L487.72,494.74 L487.8,494.71 L487.88,494.68 L487.96,494.64 L488.05,494.61 L488.13,494.58 L488.21,494.53 L488.29,494.42 L488.37,494.31 L488.45,494.19 L488.53,494.08 L488.62,493.96 L488.7,493.85 L488.78,493.74 L488.86,493.62 L488.94,493.51 L489.02,493.39 L489.1,493.28 L489.19,493.17 L489.27,493.05 L489.35,492.94 L489.43,492.82 L489.51,492.71 L489.59,492.6 L489.67,492.48 L489.76,492.37 L489.84,492.25 L489.92,492.14 L490,492.03 L490.08,491.91 L490.16,491.74 L490.24,491.5 L490.33,491.25 L490.41,491 L490.49,490.75 L490.57,490.5 L490.65,490.26 L490.73,490.01 L490.81,489.76 L490.9,489.51 L490.98,489.27 L491.06,489.02" fill="none" stroke="#d4503f" stroke-width="1.8" stroke-linejoin="round"/>
<line x1="430.6" y1="488.9" x2="430.6" y2="515.5" stroke="#444" stroke-width="0.65" stroke-dasharray="1,1.8"/>
<rect x="369.9" y="522.7" width="121.2" height="25.3" fill="none" stroke="#8a8a8a" stroke-width="0.6"/>
<line x1="368.3" y1="523.4" x2="369.9" y2="523.4" stroke="#666" stroke-width="0.4"/>
<line x1="368.3" y1="529.2" x2="369.9" y2="529.2" stroke="#666" stroke-width="0.4"/>
<line x1="368.3" y1="535.1" x2="369.9" y2="535.1" stroke="#666" stroke-width="0.4"/>
<line x1="368.3" y1="540.9" x2="369.9" y2="540.9" stroke="#666" stroke-width="0.4"/>
<line x1="368.3" y1="546.8" x2="369.9" y2="546.8" stroke="#666" stroke-width="0.4"/>
<text transform="translate(359.3,536.55) rotate(-90)" font-size="5.9" fill="#222" text-anchor="middle" stroke="#222" stroke-width="0.18">Time</text>
<path d="M369.9,534.3h0M370.0,545.2h0M370.1,541.1h0M370.2,529.3h0M370.3,536.4h0M370.4,535.1h0M370.6,537.1h0M370.8,542.8h0M370.9,540.7h0M371.0,530.9h0M371.1,541.0h0M371.2,544.4h0M371.3,540.1h0M371.5,545.0h0M371.6,542.7h0M371.7,539.3h0M371.8,539.3h0M371.9,541.6h0M372.0,537.7h0M372.2,535.8h0M372.5,538.6h0M372.6,543.8h0M372.7,544.0h0M372.8,534.2h0M372.9,541.9h0M373.0,542.6h0M373.1,543.6h0M373.3,544.5h0M373.4,533.3h0M373.4,532.5h0M373.5,546.4h0M373.7,544.1h0M373.9,536.8h0M373.9,539.0h0M374.1,543.5h0M374.2,543.8h0M374.3,535.8h0M374.3,526.4h0M374.4,544.1h0M374.5,541.1h0M374.6,543.0h0M374.7,544.6h0M374.7,541.9h0M374.8,545.1h0M374.9,534.2h0M375.1,535.1h0M375.2,542.9h0M375.2,545.3h0M375.3,546.0h0M375.4,542.7h0M375.5,537.2h0M375.6,539.0h0M375.7,536.3h0M375.8,541.9h0M376.0,545.1h0M376.0,539.0h0M376.2,541.0h0M376.3,545.4h0M376.4,542.7h0M376.5,544.9h0M376.5,537.0h0M376.6,542.8h0M376.7,545.7h0M376.8,543.8h0M376.9,545.2h0M376.9,539.7h0M377.0,542.2h0M377.1,539.1h0M377.3,538.6h0M377.4,530.7h0M377.5,542.5h0M377.6,539.6h0M377.8,543.2h0M377.8,541.1h0M377.9,543.1h0M378.0,544.7h0M378.1,538.3h0M378.5,545.1h0M378.6,543.9h0M378.7,542.8h0M378.8,535.3h0M378.9,545.9h0M379.0,541.1h0M379.1,537.7h0M379.2,546.2h0M379.3,538.6h0M379.4,544.7h0M379.5,536.8h0M379.6,536.7h0M379.6,532.2h0M379.8,544.0h0M379.9,544.3h0M380.0,533.3h0M380.1,541.5h0M380.2,542.8h0M380.4,539.7h0M380.6,545.7h0M380.7,542.2h0M380.8,543.5h0M380.9,538.5h0M380.9,541.4h0M381.0,540.7h0M381.1,544.5h0M381.2,530.5h0M381.3,536.6h0M381.3,538.9h0M381.4,540.0h0M381.5,543.8h0M381.6,541.0h0M381.7,544.6h0M381.8,544.2h0M381.9,541.9h0M382.0,539.7h0M382.1,539.8h0M382.2,536.7h0M382.2,537.0h0M382.3,543.3h0M382.4,546.0h0M382.5,538.7h0M382.6,542.3h0M382.6,545.2h0M382.7,534.1h0M382.8,544.2h0M382.9,540.4h0M383.0,542.4h0M383.1,540.8h0M383.1,541.1h0M383.2,544.9h0M383.3,544.2h0M383.4,540.0h0M383.5,536.1h0M383.5,543.8h0M383.6,545.3h0M383.8,544.1h0M383.9,540.8h0M384.0,537.6h0M384.0,544.8h0M384.1,543.6h0M384.2,541.3h0M384.4,542.6h0M384.4,539.9h0M384.5,540.5h0M384.6,543.6h0M384.7,543.4h0M384.8,542.9h0M384.8,540.7h0M384.9,541.4h0M385.0,542.9h0M385.1,540.3h0M385.3,541.4h0M385.4,541.0h0M385.6,541.0h0M385.7,537.5h0M385.8,543.6h0M386.0,542.2h0M386.1,538.6h0M386.2,540.9h0M386.3,543.0h0M386.6,543.5h0M386.6,543.6h0M386.7,542.9h0M386.8,539.9h0M386.9,546.1h0M387.0,535.8h0M387.1,546.0h0M387.2,540.8h0M387.3,539.6h0M387.4,535.9h0M387.5,545.2h0M387.5,543.1h0M387.6,543.4h0M387.7,541.6h0M387.8,542.4h0M387.9,543.3h0M387.9,538.4h0M388.0,543.2h0M388.1,542.9h0M388.3,543.3h0M388.3,543.2h0M388.4,543.4h0M388.5,541.1h0M388.6,542.0h0M388.7,535.6h0M388.8,543.3h0M388.9,544.8h0M389.0,530.6h0M389.2,545.8h0M389.3,528.8h0M389.5,546.5h0M389.6,536.0h0M389.7,542.2h0M389.8,538.7h0M389.9,533.6h0M390.1,539.4h0M390.1,538.0h0M390.2,541.2h0M390.4,536.7h0M390.5,538.6h0M390.5,542.2h0M390.8,545.6h0M391.0,539.4h0M391.1,535.9h0M391.2,541.9h0M391.3,534.3h0M391.4,538.6h0M391.4,532.5h0M391.5,538.3h0M391.6,537.8h0M391.7,544.7h0M391.8,541.4h0M391.9,537.7h0M392.0,541.8h0M392.1,537.8h0M392.2,544.4h0M392.3,539.1h0M392.5,539.8h0M392.6,543.1h0M392.7,542.7h0M392.8,538.1h0M392.9,536.7h0M393.1,544.1h0M393.2,543.2h0M393.2,543.8h0M393.3,540.4h0M393.4,541.3h0M393.5,544.0h0M393.6,540.8h0M393.6,536.7h0M393.7,541.3h0M393.8,542.8h0M393.9,532.8h0M394.1,544.7h0M394.1,540.0h0M394.2,545.0h0M394.3,545.2h0M394.4,543.6h0M394.5,544.1h0M394.5,540.4h0M394.6,545.2h0M394.7,545.6h0M395.0,540.8h0M395.3,541.1h0M395.5,543.0h0M395.6,538.9h0M395.7,538.1h0M395.8,546.0h0M396.0,535.0h0M396.1,537.3h0M396.2,543.5h0M396.5,540.9h0M396.6,539.2h0M396.7,543.1h0M396.8,540.0h0M397.0,544.1h0M397.1,529.2h0M397.2,540.6h0M397.4,538.1h0M397.5,545.3h0M397.6,544.8h0M397.8,538.1h0M397.9,540.9h0M398.0,544.2h0M398.0,536.7h0M398.1,543.4h0M398.2,537.3h0M398.3,541.4h0M398.4,545.6h0M398.4,544.2h0M398.6,544.8h0M398.7,544.1h0M398.8,545.0h0M398.9,545.2h0M398.9,543.6h0M399.0,543.5h0M399.1,544.8h0M399.3,543.9h0M399.3,541.8h0M399.6,541.6h0M399.7,544.3h0M399.8,543.6h0M399.8,543.3h0M399.9,545.2h0M400.0,529.9h0M400.1,544.1h0M400.2,546.0h0M400.3,544.7h0M400.4,542.3h0M400.5,545.4h0M400.6,538.8h0M400.7,545.6h0M400.8,544.3h0M400.9,530.5h0M401.0,537.8h0M401.1,542.8h0M401.2,545.2h0M401.3,543.5h0M401.4,544.5h0M401.5,544.2h0M401.6,539.7h0M401.9,532.9h0M402.0,541.0h0M402.1,541.9h0M402.2,538.5h0M402.3,538.6h0M402.4,544.1h0M402.4,545.6h0M402.6,544.9h0M402.8,546.3h0M402.8,532.9h0M403.0,544.4h0M403.2,543.3h0M403.3,544.6h0M403.6,537.6h0M403.7,543.0h0M403.7,544.8h0M403.9,539.6h0M404.0,543.1h0M404.2,537.0h0M404.4,540.7h0M404.5,541.2h0M404.6,543.0h0M404.8,544.0h0M404.9,541.6h0M405.0,540.4h0M405.0,542.0h0M405.1,538.4h0M405.2,546.4h0M405.3,525.2h0M405.4,543.9h0M405.5,535.6h0M405.6,524.1h0M405.7,542.4h0M405.8,540.5h0M406.0,543.2h0M406.1,543.6h0M406.2,545.0h0M406.3,540.1h0M406.4,544.7h0M406.7,540.3h0M406.8,541.4h0M406.8,543.9h0M406.9,542.9h0M407.0,545.5h0M407.1,542.1h0M407.2,540.7h0M407.3,540.1h0M407.4,545.9h0M407.5,541.7h0M407.6,543.1h0M407.7,534.4h0M407.7,537.9h0M407.8,538.4h0M407.9,540.4h0M408.0,544.3h0M408.1,540.1h0M408.2,539.6h0M408.3,542.6h0M408.4,540.7h0M408.5,537.5h0M408.8,541.1h0M409.0,543.5h0M409.1,543.5h0M409.2,523.1h0M409.3,541.2h0M409.4,545.0h0M409.4,537.7h0M409.5,544.7h0M409.6,533.8h0M409.9,538.4h0M409.9,543.2h0M410.1,543.9h0M410.7,544.0h0M410.7,541.0h0M410.8,540.9h0M411.0,537.5h0M411.1,537.4h0M411.2,540.2h0M411.2,545.7h0M411.3,541.8h0M411.4,535.8h0M411.5,537.6h0M411.6,543.2h0M411.6,543.7h0M411.7,542.9h0M411.8,538.9h0M411.9,535.0h0M412.1,534.1h0M412.2,527.2h0M412.3,545.0h0M412.4,542.5h0M412.5,541.9h0M412.5,542.5h0M412.7,536.6h0M412.8,541.9h0M412.9,529.8h0M412.9,545.5h0M413.0,542.7h0M413.2,544.7h0M413.3,530.3h0M413.4,539.1h0M413.5,541.1h0M413.6,535.4h0M413.7,541.0h0M413.8,536.1h0M413.8,540.9h0M413.9,531.2h0M414.0,542.2h0M414.1,541.0h0M414.2,526.5h0M414.4,539.9h0M414.5,542.0h0M414.7,534.6h0M414.7,540.4h0M415.0,544.4h0M415.1,529.0h0M415.3,543.9h0M415.4,545.8h0M415.6,542.8h0M415.7,542.3h0M415.8,545.2h0M415.9,541.3h0M416.0,541.1h0M416.1,540.4h0M416.3,540.8h0M416.4,536.9h0M416.5,534.6h0M416.6,540.5h0M416.8,544.4h0M416.9,544.0h0M416.9,538.0h0M417.0,540.3h0M417.2,536.1h0M417.3,543.0h0M417.4,532.5h0M417.5,542.8h0M417.7,539.4h0M417.8,530.9h0M417.8,544.0h0M418.0,541.6h0M418.1,545.4h0M418.2,536.2h0M418.2,545.1h0M418.3,541.4h0M418.4,546.5h0M418.5,536.7h0M418.6,543.6h0M418.9,545.0h0M419.2,542.7h0M419.4,545.6h0M419.5,539.9h0M419.5,541.1h0M419.7,543.3h0M419.8,545.1h0M419.9,530.5h0M420.0,539.7h0M420.0,544.4h0M420.1,539.6h0M420.2,541.5h0M420.3,541.0h0M420.4,541.2h0M420.4,543.7h0M420.6,543.8h0M420.7,541.6h0M420.8,542.8h0M421.0,543.2h0M421.2,540.4h0M421.3,541.6h0M421.3,542.5h0M421.5,533.5h0M421.6,544.7h0M421.7,543.4h0M421.8,543.0h0M421.9,535.0h0M422.0,543.3h0M422.1,541.6h0M422.2,545.7h0M422.4,543.7h0M422.5,541.8h0M422.6,540.0h0M422.6,543.3h0M422.7,542.5h0M422.9,536.2h0M423.0,544.0h0M423.0,539.7h0M423.2,543.3h0M423.3,543.8h0M423.4,540.3h0M423.5,543.2h0M423.5,540.2h0M423.7,538.3h0M423.8,546.1h0M423.9,543.2h0M424.0,544.7h0M424.1,544.1h0M424.2,545.4h0M424.4,541.2h0M424.4,541.9h0M424.5,539.9h0M424.7,544.9h0M424.8,540.0h0M424.9,542.8h0M425.0,541.2h0M425.1,543.8h0M425.2,541.5h0M425.4,544.3h0M425.5,543.0h0M425.6,542.3h0M425.7,542.4h0M425.8,537.1h0M426.0,540.9h0M426.1,543.8h0M426.1,542.9h0M426.2,542.2h0M426.4,542.7h0M426.5,537.6h0M426.6,540.7h0M426.7,542.0h0M426.8,536.9h0M426.9,538.6h0M427.0,540.3h0M427.0,543.5h0M427.2,540.4h0M427.4,539.1h0M427.4,535.5h0M427.5,542.5h0M427.7,543.3h0M427.9,544.5h0M427.9,543.0h0M428.0,541.3h0M428.1,543.9h0M428.2,536.1h0M428.3,541.8h0M428.3,537.6h0M428.4,543.3h0M428.7,544.9h0M428.9,540.3h0M429.0,544.1h0M429.1,543.9h0M429.2,542.8h0M429.3,538.4h0M429.6,542.7h0M429.6,541.7h0M429.7,545.9h0M429.8,537.0h0M430.0,540.5h0M430.2,542.9h0M430.3,544.4h0M430.4,541.1h0M430.8,536.6h0M430.9,543.2h0M431.0,542.3h0M431.1,542.5h0M431.2,540.3h0M431.3,539.6h0M431.4,543.8h0M431.4,543.2h0M431.6,537.1h0M431.7,538.5h0M431.9,544.8h0M432.1,539.0h0M432.3,539.1h0M432.4,539.7h0M432.5,538.8h0M432.7,542.1h0M432.8,538.1h0M432.9,543.1h0M433.0,532.0h0M433.2,544.0h0M433.4,540.3h0M433.5,541.0h0M433.7,544.0h0M434.0,537.4h0M434.1,544.2h0M434.2,536.9h0M434.3,536.7h0M434.4,539.5h0M434.5,541.0h0M434.5,538.1h0M434.7,541.5h0M435.4,538.7h0M435.6,544.6h0M435.7,544.8h0M435.8,538.7h0M435.8,540.0h0M435.9,544.0h0M436.0,543.8h0M436.1,544.2h0M436.2,544.6h0M436.2,538.8h0M436.4,541.3h0M436.6,542.3h0M436.7,544.7h0M437.0,542.9h0M437.1,541.7h0M437.1,539.4h0M437.2,540.8h0M437.3,544.9h0M437.4,544.4h0M437.5,541.9h0M438.0,541.4h0M438.0,542.5h0M438.2,539.7h0M438.5,529.4h0M438.6,535.8h0M438.7,541.7h0M438.9,536.0h0M439.0,546.1h0M439.1,543.4h0M439.2,544.8h0M439.3,541.8h0M439.3,539.2h0M439.4,543.2h0M439.5,530.3h0M439.6,535.2h0M439.8,545.4h0M440.0,544.4h0M440.2,541.4h0M440.2,535.3h0M440.3,543.6h0M440.5,542.5h0M440.6,541.3h0M440.7,540.8h0M440.8,542.4h0M441.0,537.6h0M441.2,544.6h0M441.5,537.7h0M441.6,542.5h0M441.7,543.5h0M441.9,543.3h0M442.0,542.3h0M442.1,541.6h0M442.3,531.0h0M442.4,543.0h0M442.4,542.1h0M442.6,542.5h0M442.7,523.2h0M442.8,533.9h0M442.9,542.2h0M443.0,543.0h0M443.1,543.7h0M443.2,544.5h0M443.2,541.7h0M443.3,544.2h0M443.4,535.0h0M443.5,543.2h0M443.8,534.0h0M444.1,541.5h0M444.2,544.9h0M444.3,539.4h0M444.4,543.1h0M444.5,540.8h0M444.6,543.4h0M444.6,535.5h0M444.7,543.7h0M444.8,537.5h0M444.9,539.6h0M445.0,544.6h0M445.0,544.0h0M445.1,542.1h0M445.2,546.0h0M445.3,536.1h0M445.4,539.8h0M445.6,537.5h0M445.8,545.0h0M445.9,546.2h0M446.0,539.6h0M446.2,540.9h0M446.3,537.9h0M446.4,540.0h0M446.6,543.2h0M446.7,542.1h0M446.8,532.3h0M446.9,543.2h0M447.2,539.0h0M447.4,542.2h0M447.6,537.5h0M447.6,536.7h0M448.0,538.8h0M448.1,546.4h0M448.5,543.7h0M448.7,545.5h0M448.9,540.6h0M449.0,543.0h0M449.1,542.9h0M449.2,542.7h0M449.3,541.9h0M449.4,546.6h0M449.4,532.5h0M449.5,544.0h0M449.7,544.3h0M449.8,546.3h0M449.9,544.9h0M450.0,527.7h0M450.1,537.5h0M450.2,533.0h0M450.3,542.6h0M450.4,541.0h0M450.6,538.6h0M450.7,537.4h0M450.9,542.0h0M451.0,539.1h0M451.1,537.8h0M451.2,545.3h0M451.3,544.9h0M451.4,524.9h0M451.6,530.7h0M451.6,543.8h0M452.0,543.7h0M452.0,545.6h0M452.1,543.9h0M452.2,545.7h0M452.3,543.3h0M452.5,541.4h0M452.5,541.2h0M452.6,545.2h0M452.8,542.3h0M452.9,545.1h0M453.0,539.9h0M453.1,543.9h0M453.2,543.5h0M453.4,535.1h0M453.5,541.6h0M453.6,540.5h0M453.7,545.4h0M453.8,545.8h0M453.8,534.7h0M453.9,540.7h0M454.0,537.4h0M454.2,541.4h0M454.4,543.2h0M454.5,544.9h0M454.6,525.7h0M454.7,546.1h0M454.9,539.6h0M455.1,538.0h0M455.4,541.8h0M455.5,541.9h0M455.5,545.1h0M455.6,544.0h0M456.0,540.7h0M456.3,544.9h0M456.6,539.0h0M456.7,539.0h0M456.8,544.1h0M456.8,545.5h0M456.9,536.1h0M457.0,543.5h0M457.1,540.5h0M457.2,537.5h0M457.3,544.8h0M457.3,539.3h0M457.4,544.5h0M457.6,540.2h0M457.7,545.1h0M458.0,543.8h0M458.1,541.0h0M458.2,536.2h0M458.2,543.0h0M458.5,543.1h0M458.6,541.4h0M458.6,543.6h0M458.8,540.6h0M458.9,536.0h0M459.0,529.8h0M459.1,545.4h0M459.2,539.6h0M459.3,541.0h0M459.5,544.2h0M459.8,546.2h0M459.9,529.5h0M460.0,536.8h0M460.4,537.7h0M460.5,536.7h0M460.6,540.2h0M460.7,542.0h0M460.8,539.5h0M460.9,542.0h0M461.0,543.8h0M461.2,545.6h0M461.2,538.5h0M461.3,525.7h0M461.5,545.2h0M461.6,540.6h0M461.7,544.5h0M461.7,544.8h0M461.8,542.8h0M461.9,539.6h0M462.2,544.6h0M462.3,544.0h0M462.5,538.7h0M462.7,539.3h0M462.8,543.4h0M462.9,543.7h0M463.0,532.7h0M463.0,536.8h0M463.1,536.9h0M463.2,542.2h0M463.5,536.7h0M463.6,529.1h0M463.7,541.7h0M463.9,524.6h0M464.1,546.0h0M464.2,530.4h0M464.6,542.9h0M465.1,545.0h0M465.3,540.8h0M465.4,540.5h0M465.6,542.7h0M465.7,539.9h0M465.9,537.4h0M466.1,545.5h0M466.2,543.2h0M466.4,538.4h0M466.5,543.8h0M466.6,538.6h0M466.7,542.6h0M466.9,539.3h0M467.0,544.2h0M467.2,541.5h0M467.3,541.7h0M467.4,544.5h0M467.4,543.1h0M467.5,540.9h0M467.7,546.0h0M467.8,542.6h0M467.9,530.7h0M468.1,534.0h0M468.2,542.9h0M468.3,539.5h0M468.3,544.8h0M468.5,537.9h0M468.6,534.5h0M468.7,544.7h0M468.7,538.1h0M468.8,542.4h0M469.4,538.0h0M469.5,541.7h0M469.7,544.9h0M470.0,542.6h0M470.0,538.1h0M470.1,544.7h0M470.3,539.9h0M470.4,535.9h0M470.5,541.3h0M470.6,540.2h0M470.7,541.2h0M470.8,544.5h0M470.9,536.3h0M471.1,537.5h0M471.2,531.4h0M471.3,542.5h0M471.4,536.7h0M471.5,542.9h0M471.6,543.3h0M472.0,536.7h0M472.1,540.9h0M472.2,545.2h0M472.6,546.2h0M472.7,540.0h0M473.0,533.2h0M473.1,538.6h0M473.4,540.7h0M473.5,543.3h0M473.6,530.0h0M473.8,543.0h0M473.9,537.6h0M474.2,539.6h0M474.4,538.0h0M474.4,542.7h0M474.5,546.1h0M474.6,540.9h0M474.7,542.5h0M474.9,537.2h0M475.3,538.2h0M475.5,538.0h0M475.7,541.3h0M475.9,542.7h0M476.0,544.6h0M476.2,537.5h0M476.3,543.6h0M476.4,543.0h0M476.6,543.2h0M476.6,540.0h0M476.7,539.3h0M476.8,545.2h0M477.0,541.4h0M477.0,541.8h0M477.2,539.6h0M477.3,541.7h0M477.4,544.1h0M477.5,541.9h0M477.6,544.5h0M477.7,539.0h0M477.9,537.2h0M478.0,534.9h0M478.2,545.5h0M478.4,541.1h0M478.5,540.0h0M478.7,542.6h0M478.8,545.6h0M479.0,542.5h0M479.1,539.4h0M479.2,539.9h0M479.4,545.1h0M479.7,544.8h0M479.7,544.3h0M479.8,542.0h0M480.1,523.8h0M480.2,544.9h0M480.4,544.5h0M480.6,537.6h0M480.8,540.9h0M481.1,541.4h0M481.2,539.5h0M481.4,541.9h0M481.4,534.1h0M481.7,543.7h0M481.9,539.4h0M482.2,543.3h0M482.3,543.8h0M482.6,544.1h0M482.7,540.0h0M482.9,535.2h0M483.0,542.9h0M483.1,540.8h0M483.2,530.3h0M484.1,542.2h0M484.2,542.0h0M484.3,545.2h0M484.6,540.6h0M484.9,541.2h0M485.1,539.6h0M485.2,542.6h0M485.4,541.1h0M485.4,539.4h0M485.5,541.8h0M485.7,544.8h0M485.8,538.8h0M485.9,535.1h0M486.0,531.6h0M486.1,544.7h0M486.3,543.3h0M486.7,532.8h0M486.8,545.2h0M486.9,535.6h0M487.1,541.9h0M487.1,543.1h0M487.5,541.6h0M487.6,545.5h0M487.7,537.3h0M487.8,543.5h0M488.2,545.3h0M488.5,535.1h0M488.6,545.2h0M488.9,532.0h0M489.0,545.7h0M489.2,537.5h0M489.3,546.1h0M489.5,539.5h0M489.8,541.2h0M489.9,545.7h0M490.2,541.3h0M490.2,538.5h0M490.3,536.0h0M490.4,541.5h0M490.6,543.2h0M490.7,543.4h0M490.8,540.8h0M490.9,541.9h0M491.0,540.7h0" stroke="#3b7f79" stroke-width="1.3" stroke-linecap="round"/>
<path d="M370.3,535.7h0M370.5,543.6h0M370.7,546.2h0M370.8,543.0h0M371.2,546.5h0M371.4,546.1h0M371.7,543.4h0M372.1,539.6h0M372.1,545.8h0M372.3,543.6h0M372.4,544.3h0M372.5,545.7h0M373.0,544.8h0M373.2,540.9h0M373.6,540.0h0M373.8,544.9h0M374.0,544.2h0M375.0,539.8h0M375.6,545.1h0M375.9,539.2h0M376.1,546.6h0M377.2,545.5h0M377.4,545.3h0M377.7,545.3h0M378.2,544.5h0M378.2,544.4h0M378.3,546.4h0M378.4,545.4h0M378.7,546.3h0M379.1,537.7h0M379.7,546.7h0M380.0,542.8h0M380.3,539.6h0M380.4,542.6h0M380.5,540.8h0M381.8,545.1h0M383.7,546.3h0M384.3,545.9h0M385.2,545.0h0M385.3,544.2h0M385.5,545.2h0M385.7,539.3h0M385.9,544.5h0M386.1,545.9h0M386.4,543.5h0M386.5,543.8h0M387.0,542.8h0M388.2,546.6h0M388.8,542.6h0M389.1,546.0h0M389.2,540.4h0M389.4,539.1h0M389.7,545.9h0M390.0,544.2h0M390.3,540.7h0M390.6,546.0h0M390.7,545.0h0M390.9,541.0h0M391.0,546.3h0M391.9,540.3h0M392.3,544.4h0M392.4,544.7h0M392.7,537.7h0M393.0,543.3h0M394.0,542.8h0M394.8,544.4h0M394.9,545.6h0M394.9,543.7h0M395.1,546.5h0M395.2,546.2h0M395.4,544.5h0M395.4,544.6h0M395.8,546.1h0M395.9,545.8h0M396.2,545.0h0M396.3,543.9h0M396.4,545.3h0M396.7,546.3h0M396.9,543.6h0M397.1,540.4h0M397.3,532.6h0M397.6,545.5h0M397.7,546.0h0M398.5,545.8h0M399.2,546.0h0M399.4,544.1h0M399.5,545.5h0M400.2,546.1h0M400.6,541.1h0M401.1,541.5h0M401.5,542.9h0M401.7,541.8h0M401.8,546.2h0M402.0,542.8h0M402.5,540.2h0M402.7,534.2h0M402.9,535.5h0M403.1,545.7h0M403.3,538.9h0M403.4,541.8h0M403.5,545.7h0M403.8,546.6h0M404.1,545.6h0M404.2,545.9h0M404.3,545.4h0M404.6,545.2h0M404.7,541.3h0M405.5,544.3h0M405.9,546.3h0M405.9,545.6h0M406.3,545.9h0M406.5,546.3h0M406.6,541.3h0M407.2,546.0h0M408.1,542.5h0M408.5,546.4h0M408.6,544.5h0M408.7,544.7h0M408.9,544.0h0M409.0,546.3h0M409.7,545.6h0M409.8,541.3h0M410.0,546.1h0M410.2,545.2h0M410.3,543.2h0M410.3,545.7h0M410.4,542.9h0M410.5,544.2h0M410.6,544.1h0M410.9,545.7h0M412.0,545.2h0M412.1,540.0h0M412.6,543.7h0M413.1,546.0h0M413.4,546.2h0M414.3,542.0h0M414.3,544.5h0M414.6,537.5h0M414.8,538.3h0M414.9,545.3h0M415.1,531.1h0M415.2,544.7h0M415.5,545.7h0M415.6,546.5h0M416.0,539.2h0M416.2,546.4h0M416.4,546.1h0M416.7,541.8h0M417.1,544.5h0M417.3,544.2h0M417.6,531.9h0M417.9,542.3h0M418.6,544.4h0M418.7,545.3h0M418.8,530.0h0M419.0,541.0h0M419.1,545.9h0M419.1,545.4h0M419.3,542.2h0M419.6,545.3h0M420.5,545.8h0M420.8,546.3h0M420.9,544.9h0M421.1,545.8h0M421.4,544.4h0M421.7,544.1h0M422.2,546.6h0M422.3,545.4h0M422.8,546.0h0M423.1,543.4h0M423.6,545.8h0M423.9,546.3h0M424.3,546.7h0M424.6,531.1h0M424.8,542.8h0M425.2,546.5h0M425.3,542.8h0M425.7,544.7h0M425.9,546.2h0M426.3,545.3h0M426.5,542.2h0M427.1,544.1h0M427.3,546.7h0M427.6,546.2h0M427.8,546.4h0M428.5,538.7h0M428.6,545.1h0M428.7,545.7h0M428.8,546.5h0M429.2,540.4h0M429.4,540.5h0M429.5,546.1h0M429.9,538.0h0M430.1,543.6h0M430.1,546.8h0M430.5,546.6h0M430.5,544.5h0M430.6,539.7h0M430.7,546.8h0M430.9,543.5h0M431.5,544.1h0M431.8,546.3h0M431.8,546.2h0M432.0,544.0h0M432.2,545.0h0M432.3,545.9h0M432.6,539.0h0M432.7,545.0h0M433.1,543.5h0M433.1,543.1h0M433.3,541.0h0M433.6,545.9h0M433.6,543.2h0M433.8,542.2h0M433.9,545.8h0M434.0,546.6h0M434.6,546.1h0M434.8,545.4h0M434.9,536.8h0M434.9,544.4h0M435.0,539.7h0M435.1,540.4h0M435.2,545.3h0M435.3,543.6h0M435.3,543.2h0M435.5,538.8h0M436.3,546.3h0M436.5,537.1h0M436.6,545.2h0M436.8,546.8h0M436.9,539.5h0M437.5,545.0h0M437.6,544.3h0M437.7,542.8h0M437.8,544.6h0M437.9,541.8h0M438.1,544.8h0M438.3,544.3h0M438.4,544.0h0M438.4,542.7h0M438.8,545.7h0M438.8,541.6h0M439.7,545.2h0M439.7,543.2h0M439.9,543.0h0M440.1,543.4h0M440.4,542.6h0M440.6,545.9h0M440.9,541.2h0M441.0,545.7h0M441.1,537.2h0M441.3,537.2h0M441.4,545.6h0M441.5,544.6h0M441.8,543.5h0M441.9,546.4h0M442.2,538.7h0M442.5,542.8h0M442.8,544.2h0M443.6,546.0h0M443.7,542.6h0M443.7,544.5h0M443.9,546.6h0M444.0,540.0h0M444.1,543.7h0M445.4,544.7h0M445.5,543.1h0M445.7,546.8h0M445.9,537.1h0M446.1,533.2h0M446.3,545.2h0M446.5,545.4h0M446.7,535.6h0M447.0,544.3h0M447.1,544.6h0M447.2,546.1h0M447.3,545.0h0M447.5,546.3h0M447.7,544.3h0M447.8,541.8h0M447.9,546.6h0M448.1,539.1h0M448.2,539.8h0M448.3,545.1h0M448.4,542.5h0M448.5,544.7h0M448.6,542.5h0M448.8,540.6h0M448.9,544.3h0M449.6,545.2h0M449.8,546.5h0M450.3,545.7h0M450.5,544.3h0M450.7,545.9h0M450.8,545.9h0M451.1,545.5h0M451.5,546.5h0M451.7,543.6h0M451.8,545.0h0M451.9,534.3h0M452.4,545.7h0M452.7,546.5h0M452.9,541.4h0M453.3,542.1h0M453.3,541.6h0M454.1,542.5h0M454.2,543.9h0M454.3,545.5h0M454.7,543.2h0M454.8,546.2h0M455.0,545.1h0M455.1,541.6h0M455.2,544.7h0M455.3,542.2h0M455.7,543.1h0M455.8,540.1h0M455.9,546.0h0M456.0,542.5h0M456.1,544.3h0M456.2,540.1h0M456.4,533.3h0M456.4,545.4h0M456.5,546.1h0M457.5,544.9h0M457.7,543.4h0M457.8,546.6h0M457.9,544.4h0M458.3,546.2h0M458.4,543.2h0M458.7,544.9h0M459.0,543.0h0M459.4,544.9h0M459.5,536.1h0M459.6,546.1h0M459.7,545.4h0M459.9,545.5h0M460.1,544.7h0M460.2,541.1h0M460.3,543.2h0M460.4,543.7h0M460.8,544.9h0M461.1,546.6h0M461.4,545.2h0M462.0,542.3h0M462.1,543.3h0M462.1,543.0h0M462.4,546.8h0M462.6,544.9h0M462.6,546.5h0M463.3,545.7h0M463.4,546.2h0M463.4,546.7h0M463.8,542.3h0M463.9,545.6h0M464.0,546.3h0M464.3,533.9h0M464.3,542.9h0M464.4,543.6h0M464.5,542.2h0M464.7,546.1h0M464.8,545.4h0M464.8,546.6h0M464.9,546.1h0M465.0,546.3h0M465.2,546.0h0M465.2,540.8h0M465.5,540.3h0M465.6,546.4h0M465.8,545.5h0M466.0,539.0h0M466.1,540.2h0M466.3,546.7h0M466.5,546.5h0M466.8,545.7h0M466.9,543.0h0M467.1,545.8h0M467.6,545.6h0M467.8,545.6h0M468.0,539.2h0M468.4,541.6h0M468.9,546.7h0M469.0,546.3h0M469.1,546.6h0M469.1,546.0h0M469.2,545.6h0M469.3,546.2h0M469.6,530.0h0M469.6,546.8h0M469.8,545.3h0M469.9,545.6h0M470.2,545.6h0M470.5,546.6h0M470.9,542.3h0M471.0,546.6h0M471.3,534.7h0M471.7,545.9h0M471.8,546.2h0M471.8,545.6h0M471.9,543.8h0M472.2,546.3h0M472.3,541.8h0M472.4,546.0h0M472.5,546.4h0M472.7,544.3h0M472.8,542.2h0M472.9,545.6h0M473.1,537.9h0M473.2,538.9h0M473.3,544.8h0M473.5,546.3h0M473.7,546.3h0M474.0,544.8h0M474.0,540.0h0M474.1,533.2h0M474.3,545.3h0M474.8,545.1h0M474.9,546.2h0M475.0,545.7h0M475.1,543.6h0M475.2,546.3h0M475.3,539.9h0M475.4,544.3h0M475.6,542.9h0M475.7,543.7h0M475.8,545.3h0M476.1,546.3h0M476.2,542.0h0M476.5,544.9h0M476.9,544.5h0M477.1,543.8h0M477.5,546.4h0M477.8,545.4h0M477.9,543.1h0M478.1,546.4h0M478.3,545.6h0M478.4,544.8h0M478.6,540.2h0M478.8,538.8h0M478.9,535.1h0M479.2,545.6h0M479.3,543.8h0M479.5,541.4h0M479.6,546.4h0M479.9,542.9h0M480.0,542.8h0M480.1,546.0h0M480.3,545.4h0M480.5,546.3h0M480.6,544.0h0M480.7,540.3h0M480.9,539.7h0M481.0,544.5h0M481.0,544.9h0M481.3,546.1h0M481.5,538.7h0M481.6,546.0h0M481.8,542.0h0M481.9,530.0h0M482.0,546.8h0M482.1,544.3h0M482.3,534.8h0M482.4,546.7h0M482.5,542.7h0M482.8,544.8h0M482.8,543.8h0M483.2,545.3h0M483.3,543.1h0M483.4,545.3h0M483.5,540.7h0M483.6,538.3h0M483.6,544.9h0M483.7,546.6h0M483.8,546.4h0M483.9,545.9h0M484.0,544.1h0M484.1,544.6h0M484.4,545.6h0M484.5,545.9h0M484.5,546.0h0M484.7,546.4h0M484.8,546.0h0M485.0,546.7h0M485.0,541.5h0M485.3,536.2h0M485.6,543.6h0M485.8,545.0h0M486.2,546.3h0M486.3,536.0h0M486.4,546.6h0M486.5,537.0h0M486.6,545.9h0M486.7,546.7h0M487.0,545.2h0M487.2,545.5h0M487.3,540.7h0M487.4,538.7h0M487.6,544.8h0M487.9,536.0h0M488.0,546.5h0M488.0,546.7h0M488.1,545.1h0M488.3,543.7h0M488.4,544.2h0M488.5,540.2h0M488.7,545.7h0M488.8,545.3h0M488.9,546.6h0M489.1,541.8h0M489.3,546.7h0M489.4,542.7h0M489.6,543.0h0M489.7,539.4h0M489.8,546.8h0M490.0,534.8h0M490.1,545.8h0M490.5,545.0h0M490.7,536.1h0M491.1,539.6h0" stroke="#d4503f" stroke-width="1.3" stroke-linecap="round"/>
<line x1="430.6" y1="522.7" x2="430.6" y2="548" stroke="#444" stroke-width="0.65" stroke-dasharray="1,1.8"/>
<circle cx="495.4" cy="503.2" r="0.8" fill="#3b7f79"/>
<circle cx="495.4" cy="510" r="0.8" fill="#d4503f"/>
<circle cx="495.4" cy="535.2" r="0.8" fill="#d4503f"/>
<circle cx="495.4" cy="541.3" r="0.8" fill="#3b7f79"/>
<text x="570.6" y="480.3" font-size="9.25" fill="#222" stroke="#222" stroke-width="0.23" textLength="57.6" lengthAdjust="spacingAndGlyphs">RJ-BK-Cohort</text>
<rect x="536.2" y="488.8" width="121.2" height="26.4" fill="none" stroke="#8a8a8a" stroke-width="0.6"/>
<line x1="534.6" y1="491.7" x2="536.2" y2="491.7" stroke="#666" stroke-width="0.4"/>
<line x1="534.6" y1="498.1" x2="536.2" y2="498.1" stroke="#666" stroke-width="0.4"/>
<line x1="534.6" y1="504.5" x2="536.2" y2="504.5" stroke="#666" stroke-width="0.4"/>
<line x1="534.6" y1="511.3" x2="536.2" y2="511.3" stroke="#666" stroke-width="0.4"/>
<text transform="translate(527,502.5) rotate(-90)" font-size="6.1" fill="#222" text-anchor="middle" stroke="#222" stroke-width="0.18">Risk Score</text>
<line x1="556.7" y1="515.2" x2="556.7" y2="516.6" stroke="#666" stroke-width="0.4"/>
<line x1="556.7" y1="548.4" x2="556.7" y2="549.8" stroke="#666" stroke-width="0.4"/>
<line x1="579.7" y1="515.2" x2="579.7" y2="516.6" stroke="#666" stroke-width="0.4"/>
<line x1="579.7" y1="548.4" x2="579.7" y2="549.8" stroke="#666" stroke-width="0.4"/>
<line x1="602.7" y1="515.2" x2="602.7" y2="516.6" stroke="#666" stroke-width="0.4"/>
<line x1="602.7" y1="548.4" x2="602.7" y2="549.8" stroke="#666" stroke-width="0.4"/>
<line x1="625.7" y1="515.2" x2="625.7" y2="516.6" stroke="#666" stroke-width="0.4"/>
<line x1="625.7" y1="548.4" x2="625.7" y2="549.8" stroke="#666" stroke-width="0.4"/>
<line x1="648.7" y1="515.2" x2="648.7" y2="516.6" stroke="#666" stroke-width="0.4"/>
<line x1="648.7" y1="548.4" x2="648.7" y2="549.8" stroke="#666" stroke-width="0.4"/>
<path d="M536.0,514.1h0M538.3,504.8h0M540.6,503.2h0M542.9,502.8h0M545.2,502.3h0M547.5,502.1h0M549.8,501.8h0M552.1,501.6h0M554.4,501.3h0M556.7,501.0h0M559.0,500.8h0M561.3,500.6h0M563.6,500.4h0M565.9,500.2h0M568.2,500.0h0M570.5,499.8h0M572.8,499.6h0M575.1,499.4h0M577.4,499.2h0M579.7,499.0h0M582.0,498.8h0M584.3,498.7h0M586.6,498.5h0M588.9,498.4h0M591.2,498.2h0M593.5,498.1h0" stroke="#3b7f79" stroke-width="1.5" stroke-linecap="round"/>
<path d="M595.8,497.8h0M598.1,497.7h0M600.4,497.5h0M602.7,497.4h0M605.0,497.2h0M607.3,497.0h0M609.6,496.9h0M611.9,496.7h0M614.2,496.6h0M616.5,496.4h0M618.8,496.3h0M621.1,496.1h0M623.4,495.9h0M625.7,495.8h0M628.0,495.6h0M630.3,495.5h0M632.6,495.3h0M634.9,495.2h0M637.2,495.0h0M639.5,494.7h0M641.8,494.5h0M644.1,494.2h0M646.4,493.9h0M648.7,493.6h0M651.0,493.3h0M653.3,491.0h0M655.6,490.3h0M657.9,489.7h0" stroke="#d4503f" stroke-width="1.5" stroke-linecap="round"/>
<line x1="594.7" y1="488.8" x2="594.7" y2="515.2" stroke="#333" stroke-width="0.65" stroke-dasharray="1.4,1.4"/>
<rect x="536.2" y="522.5" width="121.2" height="25.9" fill="none" stroke="#8a8a8a" stroke-width="0.6"/>
<line x1="534.6" y1="524.6" x2="536.2" y2="524.6" stroke="#666" stroke-width="0.4"/>
<line x1="534.6" y1="531" x2="536.2" y2="531" stroke="#666" stroke-width="0.4"/>
<line x1="534.6" y1="537.1" x2="536.2" y2="537.1" stroke="#666" stroke-width="0.4"/>
<line x1="534.6" y1="543.4" x2="536.2" y2="543.4" stroke="#666" stroke-width="0.4"/>
<text transform="translate(527,536.65) rotate(-90)" font-size="5.9" fill="#222" text-anchor="middle" stroke="#222" stroke-width="0.18">Time</text>
<path d="M537.5,535.8h0M540.2,534.3h0M542.8,528.8h0M545.4,535.8h0M547.7,535.3h0M552.1,530.3h0M554.6,525.4h0M557.2,533.9h0M559.2,528.8h0M561.5,524.4h0M563.9,530.3h0M566.5,536.2h0M568.4,535.3h0M570.4,527.4h0M573.0,526.4h0M575.7,524.4h0M578.3,530.3h0M580.8,524.0h0M582.2,535.8h0M584.8,535.3h0M587.5,527.4h0M589.5,526.4h0M592.1,528.0h0M594.4,531.3h0M597.0,529.9h0M599.0,524.0h0M603.3,529.9h0M605.9,528.0h0M612.8,524.0h0M615.1,533.9h0M617.7,535.8h0M620.3,529.9h0M622.6,533.9h0M624.6,524.8h0M628.9,527.4h0M631.5,526.4h0M634.1,531.3h0M636.4,525.4h0M638.8,535.8h0M643.3,535.8h0M645.9,535.8h0M647.9,526.4h0M650.2,536.2h0M655.1,525.4h0" stroke="#3b7f79" stroke-width="1.4" stroke-linecap="round"/>
<path d="M549.7,533.3h0M601.3,528.0h0M608.4,547.7h0M610.4,534.7h0M627.0,537.2h0M641.4,540.6h0M652.6,533.3h0" stroke="#d4503f" stroke-width="1.4" stroke-linecap="round"/>
<line x1="594.7" y1="522.5" x2="594.7" y2="548.4" stroke="#333" stroke-width="0.65" stroke-dasharray="1.4,1.4"/>
<circle cx="661.7" cy="503.1" r="0.8" fill="#3b7f79"/>
<circle cx="661.7" cy="509.9" r="0.8" fill="#d4503f"/>
<circle cx="661.7" cy="535" r="0.8" fill="#d4503f"/>
<circle cx="661.7" cy="541.1" r="0.8" fill="#3b7f79"/>
<text x="377.6" y="587.2" font-size="9.21" fill="#222" stroke="#222" stroke-width="0.23" textLength="118.2" lengthAdjust="spacingAndGlyphs">Training Dataset TCGA-CRC</text>
<line x1="425.2" y1="598.1" x2="429.8" y2="598.1" stroke="#cf4a3b" stroke-width="1.2"/>
<line x1="427.5" y1="597.3" x2="427.5" y2="598.9" stroke="#cf4a3b" stroke-width="0.5"/>
<line x1="455.6" y1="598.1" x2="460.2" y2="598.1" stroke="#3b7f79" stroke-width="1.2"/>
<line x1="457.9" y1="597.3" x2="457.9" y2="598.9" stroke="#3b7f79" stroke-width="0.5"/>
<rect x="373.9" y="605.3" width="128.6" height="55.5" fill="none" stroke="#8a8a8a" stroke-width="0.6"/>
<line x1="372.5" y1="607.8" x2="373.9" y2="607.8" stroke="#666" stroke-width="0.4"/>
<line x1="372.5" y1="620.45" x2="373.9" y2="620.45" stroke="#666" stroke-width="0.4"/>
<line x1="372.5" y1="633.1" x2="373.9" y2="633.1" stroke="#666" stroke-width="0.4"/>
<line x1="372.5" y1="645.75" x2="373.9" y2="645.75" stroke="#666" stroke-width="0.4"/>
<line x1="372.5" y1="658.4" x2="373.9" y2="658.4" stroke="#666" stroke-width="0.4"/>
<text transform="translate(361,633.05) rotate(-90)" font-size="5.6" fill="#222" text-anchor="middle" stroke="#222" stroke-width="0.17">Survival probability</text>
<line x1="379.4" y1="660.8" x2="379.4" y2="662.2" stroke="#666" stroke-width="0.4"/>
<line x1="418.5" y1="660.8" x2="418.5" y2="662.2" stroke="#666" stroke-width="0.4"/>
<line x1="457.6" y1="660.8" x2="457.6" y2="662.2" stroke="#666" stroke-width="0.4"/>
<line x1="496.7" y1="660.8" x2="496.7" y2="662.2" stroke="#666" stroke-width="0.4"/>
<path d="M379.4,607.8 H383.78 V608.31 H385.94 V608.88 H388.32 V609.46 H392.19 V610.04 H394.99 V610.62 H397.61 V611.2 H400.31 V611.78 H405.68 V612.35 H407.09 V612.96 H410.34 V613.57 H412.98 V614.18 H415.04 V614.78 H418.81 V615.39 H419.04 V616.02 H419.19 V616.65 H419.52 V617.29 H420.06 V617.92 H421.07 V618.49 H422.32 V619.06 H424.6 V619.63 H427.1 V620.2 H427.5 V620.75 H428.47 V621.3 H429.29 V621.85 H430.27 V622.4 H431.59 V622.95 H432.2 V623.5 H433.46 V624.05 H434.61 V624.6 H435.59 V625.19 H436.98 V625.77 H439.49 V626.36 H440.74 V626.95 H443.37 V627.53 H489.66" fill="none" stroke="#3b7f79" stroke-width="1.25"/>
<line x1="448.19" y1="626.53" x2="448.19" y2="628.53" stroke="#3b7f79" stroke-width="0.5"/>
<line x1="461.01" y1="626.53" x2="461.01" y2="628.53" stroke="#3b7f79" stroke-width="0.5"/>
<line x1="466.78" y1="626.53" x2="466.78" y2="628.53" stroke="#3b7f79" stroke-width="0.5"/>
<line x1="482.67" y1="626.53" x2="482.67" y2="628.53" stroke="#3b7f79" stroke-width="0.5"/>
<line x1="460.81" y1="626.53" x2="460.81" y2="628.53" stroke="#3b7f79" stroke-width="0.5"/>
<line x1="480.5" y1="626.53" x2="480.5" y2="628.53" stroke="#3b7f79" stroke-width="0.5"/>
<line x1="384.09" y1="607.36" x2="384.09" y2="609.36" stroke="#3b7f79" stroke-width="0.5"/>
<line x1="431.21" y1="621.61" x2="431.21" y2="623.61" stroke="#3b7f79" stroke-width="0.5"/>
<line x1="482.77" y1="626.53" x2="482.77" y2="628.53" stroke="#3b7f79" stroke-width="0.5"/>
<line x1="451" y1="626.53" x2="451" y2="628.53" stroke="#3b7f79" stroke-width="0.5"/>
<line x1="478.19" y1="626.53" x2="478.19" y2="628.53" stroke="#3b7f79" stroke-width="0.5"/>
<line x1="393.18" y1="609.04" x2="393.18" y2="611.04" stroke="#3b7f79" stroke-width="0.5"/>
<line x1="431.58" y1="621.83" x2="431.58" y2="623.83" stroke="#3b7f79" stroke-width="0.5"/>
<line x1="407.57" y1="611.79" x2="407.57" y2="613.79" stroke="#3b7f79" stroke-width="0.5"/>
<line x1="439.64" y1="625.29" x2="439.64" y2="627.29" stroke="#3b7f79" stroke-width="0.5"/>
<line x1="442.9" y1="626.38" x2="442.9" y2="628.38" stroke="#3b7f79" stroke-width="0.5"/>
<line x1="382.38" y1="607.14" x2="382.38" y2="609.14" stroke="#3b7f79" stroke-width="0.5"/>
<line x1="404.35" y1="611.11" x2="404.35" y2="613.11" stroke="#3b7f79" stroke-width="0.5"/>
<line x1="411.12" y1="612.61" x2="411.12" y2="614.61" stroke="#3b7f79" stroke-width="0.5"/>
<line x1="479.85" y1="626.53" x2="479.85" y2="628.53" stroke="#3b7f79" stroke-width="0.5"/>
<line x1="463.6" y1="626.53" x2="463.6" y2="628.53" stroke="#3b7f79" stroke-width="0.5"/>
<line x1="398.19" y1="609.97" x2="398.19" y2="611.97" stroke="#3b7f79" stroke-width="0.5"/>
<line x1="466.99" y1="626.53" x2="466.99" y2="628.53" stroke="#3b7f79" stroke-width="0.5"/>
<line x1="395.94" y1="609.55" x2="395.94" y2="611.55" stroke="#3b7f79" stroke-width="0.5"/>
<line x1="447.6" y1="626.53" x2="447.6" y2="628.53" stroke="#3b7f79" stroke-width="0.5"/>
<path d="M379.4,607.8 H379.69 V608.33 H380.71 V608.86 H381.22 V609.39 H381.86 V609.93 H382.67 V610.46 H383.78 V610.99 H384.62 V611.56 H385.93 V612.14 H387.27 V612.72 H389.17 V613.3 H391.13 V613.87 H391.38 V614.46 H392.97 V615.05 H394 V615.64 H395.69 V616.23 H396.79 V616.82 H398.4 V617.41 H399.06 V617.98 H400.75 V618.55 H403.48 V619.12 H405.68 V619.69 H406.19 V620.23 H407.04 V620.77 H408.05 V621.3 H408.95 V621.84 H409.94 V622.38 H410.52 V622.92 H411.79 V623.45 H413.03 V623.99 H413.37 V624.54 H413.95 V625.1 H414.6 V625.65 H415.35 V626.2 H415.99 V626.75 H416.61 V627.3 H417.42 V627.86 H418.02 V628.41 H418.46 V628.96 H419.21 V629.51 H420.3 V630.06 H421.39 V630.67 H422.82 V631.28 H423.97 V631.89 H424.97 V632.49 H427.57 V633.1 H427.99 V633.63 H429 V634.16 H430 V634.69 H430.88 V635.23 H431.73 V635.76 H433.12 V636.29 H435.64 V636.97 H444.78 V637.65 H446.08 V638.22 H447.2 V638.79 H449.15 V639.36 H452.13 V639.93 H452.52 V640.5 H454.92 V641.07 H456.42 V641.64 H458.69 V642.21 H490.44" fill="none" stroke="#cf4a3b" stroke-width="1.25"/>
<line x1="394.64" y1="614.58" x2="394.64" y2="616.58" stroke="#cf4a3b" stroke-width="0.5"/>
<line x1="381.16" y1="608.08" x2="381.16" y2="610.08" stroke="#cf4a3b" stroke-width="0.5"/>
<line x1="475" y1="641.21" x2="475" y2="643.21" stroke="#cf4a3b" stroke-width="0.5"/>
<line x1="403.57" y1="618.03" x2="403.57" y2="620.03" stroke="#cf4a3b" stroke-width="0.5"/>
<line x1="404.22" y1="618.23" x2="404.22" y2="620.23" stroke="#cf4a3b" stroke-width="0.5"/>
<line x1="486.98" y1="641.21" x2="486.98" y2="643.21" stroke="#cf4a3b" stroke-width="0.5"/>
<line x1="475.11" y1="641.21" x2="475.11" y2="643.21" stroke="#cf4a3b" stroke-width="0.5"/>
<line x1="412.18" y1="622.5" x2="412.18" y2="624.5" stroke="#cf4a3b" stroke-width="0.5"/>
<line x1="484.72" y1="641.21" x2="484.72" y2="643.21" stroke="#cf4a3b" stroke-width="0.5"/>
<line x1="439.15" y1="636" x2="439.15" y2="638" stroke="#cf4a3b" stroke-width="0.5"/>
<line x1="454.11" y1="639.62" x2="454.11" y2="641.62" stroke="#cf4a3b" stroke-width="0.5"/>
<line x1="403.06" y1="617.87" x2="403.06" y2="619.87" stroke="#cf4a3b" stroke-width="0.5"/>
<line x1="482.51" y1="641.21" x2="482.51" y2="643.21" stroke="#cf4a3b" stroke-width="0.5"/>
<line x1="455.5" y1="640.1" x2="455.5" y2="642.1" stroke="#cf4a3b" stroke-width="0.5"/>
<line x1="485.27" y1="641.21" x2="485.27" y2="643.21" stroke="#cf4a3b" stroke-width="0.5"/>
<line x1="477.41" y1="641.21" x2="477.41" y2="643.21" stroke="#cf4a3b" stroke-width="0.5"/>
<line x1="413.21" y1="623.14" x2="413.21" y2="625.14" stroke="#cf4a3b" stroke-width="0.5"/>
<line x1="419.94" y1="628.77" x2="419.94" y2="630.77" stroke="#cf4a3b" stroke-width="0.5"/>
<line x1="398.87" y1="616.56" x2="398.87" y2="618.56" stroke="#cf4a3b" stroke-width="0.5"/>
<line x1="396.69" y1="615.58" x2="396.69" y2="617.58" stroke="#cf4a3b" stroke-width="0.5"/>
<line x1="379.4" y1="633.1" x2="428.27" y2="633.1" stroke="#444" stroke-width="0.9" stroke-dasharray="3,2.2"/>
<line x1="428.27" y1="633.1" x2="428.27" y2="658.4" stroke="#444" stroke-width="0.9" stroke-dasharray="3.4,2.2"/>
<rect x="373.2" y="680.3" width="128.8" height="9.2" fill="none" stroke="#8a8a8a" stroke-width="0.6"/>
<line x1="372.2" y1="682.7" x2="373.2" y2="682.7" stroke="#333" stroke-width="0.4"/>
<line x1="372.2" y1="687.1" x2="373.2" y2="687.1" stroke="#333" stroke-width="0.4"/>
<line x1="379.4" y1="689.5" x2="379.4" y2="690.8" stroke="#444" stroke-width="0.4"/>
<line x1="418.5" y1="689.5" x2="418.5" y2="690.8" stroke="#444" stroke-width="0.4"/>
<line x1="457.6" y1="689.5" x2="457.6" y2="690.8" stroke="#444" stroke-width="0.4"/>
<line x1="496.7" y1="689.5" x2="496.7" y2="690.8" stroke="#444" stroke-width="0.4"/>
<text x="543.1" y="587.2" font-size="9.37" fill="#222" stroke="#222" stroke-width="0.23" textLength="113.0" lengthAdjust="spacingAndGlyphs">Testing Dataset GSE17538</text>
<line x1="591.3" y1="598.2" x2="595.9" y2="598.2" stroke="#cf4a3b" stroke-width="1.2"/>
<line x1="593.6" y1="597.4" x2="593.6" y2="599" stroke="#cf4a3b" stroke-width="0.5"/>
<line x1="621.7" y1="598.2" x2="626.3" y2="598.2" stroke="#3b7f79" stroke-width="1.2"/>
<line x1="624" y1="597.4" x2="624" y2="599" stroke="#3b7f79" stroke-width="0.5"/>
<rect x="537.8" y="605.4" width="126.8" height="55.2" fill="none" stroke="#8a8a8a" stroke-width="0.6"/>
<line x1="536.4" y1="608.2" x2="537.8" y2="608.2" stroke="#666" stroke-width="0.4"/>
<line x1="536.4" y1="620.73" x2="537.8" y2="620.73" stroke="#666" stroke-width="0.4"/>
<line x1="536.4" y1="633.25" x2="537.8" y2="633.25" stroke="#666" stroke-width="0.4"/>
<line x1="536.4" y1="645.77" x2="537.8" y2="645.77" stroke="#666" stroke-width="0.4"/>
<line x1="536.4" y1="658.3" x2="537.8" y2="658.3" stroke="#666" stroke-width="0.4"/>
<text transform="translate(521.6,633) rotate(-90)" font-size="5.6" fill="#222" text-anchor="middle" stroke="#222" stroke-width="0.17">Survival probability</text>
<line x1="543.7" y1="660.6" x2="543.7" y2="662" stroke="#666" stroke-width="0.4"/>
<line x1="582.13" y1="660.6" x2="582.13" y2="662" stroke="#666" stroke-width="0.4"/>
<line x1="620.57" y1="660.6" x2="620.57" y2="662" stroke="#666" stroke-width="0.4"/>
<line x1="659.01" y1="660.6" x2="659.01" y2="662" stroke="#666" stroke-width="0.4"/>
<path d="M543.7,608.2 H548.77 V608.7 H549.45 V609.33 H551.79 V609.95 H553.73 V610.58 H556 V611.21 H556.72 V611.87 H558.26 V612.53 H559.69 V613.19 H561.01 V613.85 H563.38 V614.51 H564.18 V615.09 H565.82 V615.67 H566.62 V616.26 H568.2 V616.84 H570.6 V617.42 H571.85 V617.97 H573.55 V618.52 H574.69 V619.07 H577.98 V619.62 H579.41 V620.21 H581.23 V620.8 H582.72 V621.39 H585.21 V621.98 H587.2 V622.58 H588.96 V623.18 H593.67 V623.78 H594.35 V624.42 H595.12 V625.06 H595.7 V625.7 H596.68 V626.35 H598.12 V626.99 H653.62" fill="none" stroke="#3b7f79" stroke-width="1.25"/>
<line x1="553.02" y1="609.17" x2="553.02" y2="611.17" stroke="#3b7f79" stroke-width="0.5"/>
<line x1="578.44" y1="618.77" x2="578.44" y2="620.77" stroke="#3b7f79" stroke-width="0.5"/>
<line x1="610.91" y1="625.99" x2="610.91" y2="627.99" stroke="#3b7f79" stroke-width="0.5"/>
<line x1="546.37" y1="607.46" x2="546.37" y2="609.46" stroke="#3b7f79" stroke-width="0.5"/>
<line x1="618.96" y1="625.99" x2="618.96" y2="627.99" stroke="#3b7f79" stroke-width="0.5"/>
<line x1="582.37" y1="620.05" x2="582.37" y2="622.05" stroke="#3b7f79" stroke-width="0.5"/>
<line x1="579.36" y1="619.07" x2="579.36" y2="621.07" stroke="#3b7f79" stroke-width="0.5"/>
<line x1="634.09" y1="625.99" x2="634.09" y2="627.99" stroke="#3b7f79" stroke-width="0.5"/>
<line x1="597.74" y1="625.71" x2="597.74" y2="627.71" stroke="#3b7f79" stroke-width="0.5"/>
<line x1="579.99" y1="619.28" x2="579.99" y2="621.28" stroke="#3b7f79" stroke-width="0.5"/>
<line x1="597.79" y1="625.75" x2="597.79" y2="627.75" stroke="#3b7f79" stroke-width="0.5"/>
<line x1="621.84" y1="625.99" x2="621.84" y2="627.99" stroke="#3b7f79" stroke-width="0.5"/>
<line x1="552.14" y1="608.87" x2="552.14" y2="610.87" stroke="#3b7f79" stroke-width="0.5"/>
<line x1="650.94" y1="625.99" x2="650.94" y2="627.99" stroke="#3b7f79" stroke-width="0.5"/>
<line x1="548.47" y1="607.67" x2="548.47" y2="609.67" stroke="#3b7f79" stroke-width="0.5"/>
<line x1="626.7" y1="625.99" x2="626.7" y2="627.99" stroke="#3b7f79" stroke-width="0.5"/>
<line x1="636.93" y1="625.99" x2="636.93" y2="627.99" stroke="#3b7f79" stroke-width="0.5"/>
<line x1="547.95" y1="607.62" x2="547.95" y2="609.62" stroke="#3b7f79" stroke-width="0.5"/>
<line x1="630.78" y1="625.99" x2="630.78" y2="627.99" stroke="#3b7f79" stroke-width="0.5"/>
<line x1="585.41" y1="621.02" x2="585.41" y2="623.02" stroke="#3b7f79" stroke-width="0.5"/>
<line x1="608.27" y1="625.99" x2="608.27" y2="627.99" stroke="#3b7f79" stroke-width="0.5"/>
<line x1="546.98" y1="607.52" x2="546.98" y2="609.52" stroke="#3b7f79" stroke-width="0.5"/>
<line x1="551.03" y1="608.48" x2="551.03" y2="610.48" stroke="#3b7f79" stroke-width="0.5"/>
<line x1="565.48" y1="614.36" x2="565.48" y2="616.36" stroke="#3b7f79" stroke-width="0.5"/>
<line x1="648.8" y1="625.99" x2="648.8" y2="627.99" stroke="#3b7f79" stroke-width="0.5"/>
<path d="M543.7,608.2 H543.91 V608.8 H544.84 V609.4 H545.47 V610 H546.09 V610.6 H547.01 V611.21 H547.49 V611.81 H548.77 V612.41 H549.12 V613.05 H549.77 V613.7 H550.57 V614.35 H551.62 V614.99 H552.5 V615.64 H553.37 V616.28 H553.82 V616.93 H554.76 V617.57 H556 V618.22 H556.59 V618.84 H557.57 V619.47 H558.91 V620.09 H559.61 V620.71 H560.46 V621.33 H561.92 V621.96 H563.38 V622.58 H563.98 V623.19 H564.93 V623.81 H566.21 V624.43 H567.03 V625.04 H568.1 V625.66 H568.91 V626.27 H570.6 V626.89 H571.12 V627.49 H573.04 V628.09 H574.31 V628.69 H575.45 V629.29 H577.98 V629.89 H579 V630.51 H581.94 V631.13 H585.21 V631.75 H587.86 V632.5 H593.67 V633.25 H594.11 V633.85 H596.5 V634.45 H597.65 V635.05 H599.46 V635.65 H602.51 V636.26 H647.78 H647.78 V636.89 H647.79 V637.52 H647.79 V638.15 H647.79 V638.78 H647.79 V639.41 H647.79 V640.03 H647.8 V640.66 H647.8 V641.29 H647.8 V641.92 H647.8 V642.55 H647.81 V643.18 H647.81 V643.81 H647.81 V644.44 H647.81 V645.07 H647.81 V645.7 H647.82 V646.33 H647.82 V646.96 H647.82 V647.59 H647.82 V648.22 H647.82 V648.85 H647.83 V649.48 H647.83 V650.11 H647.83 V650.74 H647.83 V651.37 H647.84 V652 H647.84 V652.63 H647.84 V653.26 H647.84 V653.89 H647.84 V654.52 H647.85 V655.15 H647.85 V655.78 H647.85 V656.41 H647.85 V657.04 H647.86 V657.67 H647.86 V658.3" fill="none" stroke="#cf4a3b" stroke-width="1.25"/>
<line x1="563.68" y1="621.76" x2="563.68" y2="623.76" stroke="#cf4a3b" stroke-width="0.5"/>
<line x1="613.98" y1="635.26" x2="613.98" y2="637.26" stroke="#cf4a3b" stroke-width="0.5"/>
<line x1="629.62" y1="635.26" x2="629.62" y2="637.26" stroke="#cf4a3b" stroke-width="0.5"/>
<line x1="630.73" y1="635.26" x2="630.73" y2="637.26" stroke="#cf4a3b" stroke-width="0.5"/>
<line x1="576.98" y1="628.48" x2="576.98" y2="630.48" stroke="#cf4a3b" stroke-width="0.5"/>
<line x1="577.92" y1="628.87" x2="577.92" y2="630.87" stroke="#cf4a3b" stroke-width="0.5"/>
<line x1="593.2" y1="632.17" x2="593.2" y2="634.17" stroke="#cf4a3b" stroke-width="0.5"/>
<line x1="615.76" y1="635.26" x2="615.76" y2="637.26" stroke="#cf4a3b" stroke-width="0.5"/>
<line x1="555.72" y1="617" x2="555.72" y2="619" stroke="#cf4a3b" stroke-width="0.5"/>
<line x1="613.32" y1="635.26" x2="613.32" y2="637.26" stroke="#cf4a3b" stroke-width="0.5"/>
<line x1="617.71" y1="635.26" x2="617.71" y2="637.26" stroke="#cf4a3b" stroke-width="0.5"/>
<line x1="623.33" y1="635.26" x2="623.33" y2="637.26" stroke="#cf4a3b" stroke-width="0.5"/>
<line x1="549.3" y1="611.83" x2="549.3" y2="613.83" stroke="#cf4a3b" stroke-width="0.5"/>
<line x1="631.07" y1="635.26" x2="631.07" y2="637.26" stroke="#cf4a3b" stroke-width="0.5"/>
<line x1="554.21" y1="615.78" x2="554.21" y2="617.78" stroke="#cf4a3b" stroke-width="0.5"/>
<line x1="576.65" y1="628.35" x2="576.65" y2="630.35" stroke="#cf4a3b" stroke-width="0.5"/>
<line x1="543.7" y1="633.25" x2="588.82" y2="633.25" stroke="#555" stroke-width="0.65" stroke-dasharray="1.3,1"/>
<line x1="588.82" y1="633.25" x2="588.82" y2="658.3" stroke="#999" stroke-width="0.65" stroke-dasharray="0.9,2"/>
<rect x="537.5" y="680.3" width="127" height="9" fill="none" stroke="#8a8a8a" stroke-width="0.6"/>
<line x1="536.5" y1="682.7" x2="537.5" y2="682.7" stroke="#333" stroke-width="0.4"/>
<line x1="536.5" y1="687.1" x2="537.5" y2="687.1" stroke="#333" stroke-width="0.4"/>
<line x1="543.2" y1="689.3" x2="543.2" y2="690.6" stroke="#444" stroke-width="0.4"/>
<line x1="581.63" y1="689.3" x2="581.63" y2="690.6" stroke="#444" stroke-width="0.4"/>
<line x1="620.07" y1="689.3" x2="620.07" y2="690.6" stroke="#444" stroke-width="0.4"/>
<line x1="658.51" y1="689.3" x2="658.51" y2="690.6" stroke="#444" stroke-width="0.4"/>
<text x="384" y="724.4" font-size="9.10" fill="#222" stroke="#222" stroke-width="0.23" textLength="109.8" lengthAdjust="spacingAndGlyphs">Testing Dataset GSE38832</text>
<line x1="429.1" y1="734.9" x2="433.7" y2="734.9" stroke="#cf4a3b" stroke-width="1.2"/>
<line x1="431.4" y1="734.1" x2="431.4" y2="735.7" stroke="#cf4a3b" stroke-width="0.5"/>
<line x1="459.5" y1="734.9" x2="464.1" y2="734.9" stroke="#3b7f79" stroke-width="1.2"/>
<line x1="461.8" y1="734.1" x2="461.8" y2="735.7" stroke="#3b7f79" stroke-width="0.5"/>
<rect x="375.8" y="741.5" width="127.1" height="56.4" fill="none" stroke="#8a8a8a" stroke-width="0.6"/>
<line x1="374.4" y1="743.8" x2="375.8" y2="743.8" stroke="#666" stroke-width="0.4"/>
<line x1="374.4" y1="756.72" x2="375.8" y2="756.72" stroke="#666" stroke-width="0.4"/>
<line x1="374.4" y1="769.65" x2="375.8" y2="769.65" stroke="#666" stroke-width="0.4"/>
<line x1="374.4" y1="782.58" x2="375.8" y2="782.58" stroke="#666" stroke-width="0.4"/>
<line x1="374.4" y1="795.5" x2="375.8" y2="795.5" stroke="#666" stroke-width="0.4"/>
<text transform="translate(359.5,769.7) rotate(-90)" font-size="5.6" fill="#222" text-anchor="middle" stroke="#222" stroke-width="0.17">Survival probability</text>
<line x1="381.6" y1="797.9" x2="381.6" y2="799.3" stroke="#666" stroke-width="0.4"/>
<line x1="410.55" y1="797.9" x2="410.55" y2="799.3" stroke="#666" stroke-width="0.4"/>
<line x1="439.5" y1="797.9" x2="439.5" y2="799.3" stroke="#666" stroke-width="0.4"/>
<line x1="468.45" y1="797.9" x2="468.45" y2="799.3" stroke="#666" stroke-width="0.4"/>
<line x1="497.4" y1="797.9" x2="497.4" y2="799.3" stroke="#666" stroke-width="0.4"/>
<path d="M381.6,743.8 H384.5 V744.32 H389.32 V744.83 H397.04 V746.07 H420.2 H421.17 V747.42 H487.75" fill="none" stroke="#3b7f79" stroke-width="1.25"/>
<line x1="447.19" y1="746.42" x2="447.19" y2="748.42" stroke="#3b7f79" stroke-width="0.5"/>
<line x1="479.21" y1="746.42" x2="479.21" y2="748.42" stroke="#3b7f79" stroke-width="0.5"/>
<line x1="418.96" y1="745.07" x2="418.96" y2="747.07" stroke="#3b7f79" stroke-width="0.5"/>
<line x1="479.85" y1="746.42" x2="479.85" y2="748.42" stroke="#3b7f79" stroke-width="0.5"/>
<line x1="440.34" y1="746.42" x2="440.34" y2="748.42" stroke="#3b7f79" stroke-width="0.5"/>
<line x1="416.09" y1="745.07" x2="416.09" y2="747.07" stroke="#3b7f79" stroke-width="0.5"/>
<line x1="416.55" y1="745.07" x2="416.55" y2="747.07" stroke="#3b7f79" stroke-width="0.5"/>
<line x1="402.03" y1="745.07" x2="402.03" y2="747.07" stroke="#3b7f79" stroke-width="0.5"/>
<line x1="391.68" y1="744.21" x2="391.68" y2="746.21" stroke="#3b7f79" stroke-width="0.5"/>
<line x1="399.05" y1="745.07" x2="399.05" y2="747.07" stroke="#3b7f79" stroke-width="0.5"/>
<line x1="455.36" y1="746.42" x2="455.36" y2="748.42" stroke="#3b7f79" stroke-width="0.5"/>
<line x1="487.41" y1="746.42" x2="487.41" y2="748.42" stroke="#3b7f79" stroke-width="0.5"/>
<line x1="400.36" y1="745.07" x2="400.36" y2="747.07" stroke="#3b7f79" stroke-width="0.5"/>
<line x1="388.59" y1="743.76" x2="388.59" y2="745.76" stroke="#3b7f79" stroke-width="0.5"/>
<line x1="486.36" y1="746.42" x2="486.36" y2="748.42" stroke="#3b7f79" stroke-width="0.5"/>
<line x1="439.13" y1="746.42" x2="439.13" y2="748.42" stroke="#3b7f79" stroke-width="0.5"/>
<line x1="425.83" y1="746.42" x2="425.83" y2="748.42" stroke="#3b7f79" stroke-width="0.5"/>
<line x1="408.27" y1="745.07" x2="408.27" y2="747.07" stroke="#3b7f79" stroke-width="0.5"/>
<line x1="445.43" y1="746.42" x2="445.43" y2="748.42" stroke="#3b7f79" stroke-width="0.5"/>
<line x1="469.65" y1="746.42" x2="469.65" y2="748.42" stroke="#3b7f79" stroke-width="0.5"/>
<line x1="431.02" y1="746.42" x2="431.02" y2="748.42" stroke="#3b7f79" stroke-width="0.5"/>
<line x1="427.49" y1="746.42" x2="427.49" y2="748.42" stroke="#3b7f79" stroke-width="0.5"/>
<line x1="389.34" y1="743.84" x2="389.34" y2="745.84" stroke="#3b7f79" stroke-width="0.5"/>
<line x1="479" y1="746.42" x2="479" y2="748.42" stroke="#3b7f79" stroke-width="0.5"/>
<line x1="386.94" y1="743.58" x2="386.94" y2="745.58" stroke="#3b7f79" stroke-width="0.5"/>
<line x1="434.97" y1="746.42" x2="434.97" y2="748.42" stroke="#3b7f79" stroke-width="0.5"/>
<line x1="470.91" y1="746.42" x2="470.91" y2="748.42" stroke="#3b7f79" stroke-width="0.5"/>
<line x1="397.14" y1="745.07" x2="397.14" y2="747.07" stroke="#3b7f79" stroke-width="0.5"/>
<line x1="459.78" y1="746.42" x2="459.78" y2="748.42" stroke="#3b7f79" stroke-width="0.5"/>
<line x1="482.52" y1="746.42" x2="482.52" y2="748.42" stroke="#3b7f79" stroke-width="0.5"/>
<path d="M381.6,743.8 H386.71 V745.35 H391.15 V748.97 H394.05 V751.81 H394.61 V754.37 H398.39 V756.93 H405.73 V758.38 H412.96 V759.83 H417.31 V762.31 H427.34 V762.41 H428.4 V765.26 H447.7 H448.19 V768.1 H470.38 H470.46 V770.17 H470.86 V772.24 H489.68" fill="none" stroke="#cf4a3b" stroke-width="1.25"/>
<line x1="458.65" y1="767.1" x2="458.65" y2="769.1" stroke="#cf4a3b" stroke-width="0.5"/>
<line x1="471.88" y1="771.24" x2="471.88" y2="773.24" stroke="#cf4a3b" stroke-width="0.5"/>
<line x1="414.68" y1="759.81" x2="414.68" y2="761.81" stroke="#cf4a3b" stroke-width="0.5"/>
<line x1="442.21" y1="764.26" x2="442.21" y2="766.26" stroke="#cf4a3b" stroke-width="0.5"/>
<line x1="418.25" y1="761.32" x2="418.25" y2="763.32" stroke="#cf4a3b" stroke-width="0.5"/>
<line x1="476.64" y1="771.24" x2="476.64" y2="773.24" stroke="#cf4a3b" stroke-width="0.5"/>
<line x1="430.48" y1="764.26" x2="430.48" y2="766.26" stroke="#cf4a3b" stroke-width="0.5"/>
<line x1="443.77" y1="764.26" x2="443.77" y2="766.26" stroke="#cf4a3b" stroke-width="0.5"/>
<line x1="489.62" y1="771.24" x2="489.62" y2="773.24" stroke="#cf4a3b" stroke-width="0.5"/>
<line x1="477.28" y1="771.24" x2="477.28" y2="773.24" stroke="#cf4a3b" stroke-width="0.5"/>
<line x1="487.67" y1="771.24" x2="487.67" y2="773.24" stroke="#cf4a3b" stroke-width="0.5"/>
<line x1="443.8" y1="764.26" x2="443.8" y2="766.26" stroke="#cf4a3b" stroke-width="0.5"/>
<line x1="446.71" y1="764.26" x2="446.71" y2="766.26" stroke="#cf4a3b" stroke-width="0.5"/>
<line x1="466.97" y1="767.1" x2="466.97" y2="769.1" stroke="#cf4a3b" stroke-width="0.5"/>
<line x1="445.94" y1="764.26" x2="445.94" y2="766.26" stroke="#cf4a3b" stroke-width="0.5"/>
<line x1="430.16" y1="764.26" x2="430.16" y2="766.26" stroke="#cf4a3b" stroke-width="0.5"/>
<line x1="381.6" y1="769.65" x2="470.57" y2="769.65" stroke="#555" stroke-width="0.65" stroke-dasharray="1.3,1"/>
<line x1="470.57" y1="769.65" x2="470.57" y2="795.5" stroke="#999" stroke-width="0.65" stroke-dasharray="0.9,2"/>
<rect x="375.8" y="817.1" width="123.7" height="9.1" fill="none" stroke="#8a8a8a" stroke-width="0.6"/>
<line x1="374.8" y1="819.5" x2="375.8" y2="819.5" stroke="#333" stroke-width="0.4"/>
<line x1="374.8" y1="823.9" x2="375.8" y2="823.9" stroke="#333" stroke-width="0.4"/>
<line x1="381.3" y1="826.2" x2="381.3" y2="827.5" stroke="#444" stroke-width="0.4"/>
<line x1="410.25" y1="826.2" x2="410.25" y2="827.5" stroke="#444" stroke-width="0.4"/>
<line x1="439.2" y1="826.2" x2="439.2" y2="827.5" stroke="#444" stroke-width="0.4"/>
<line x1="468.15" y1="826.2" x2="468.15" y2="827.5" stroke="#444" stroke-width="0.4"/>
<line x1="497.1" y1="826.2" x2="497.1" y2="827.5" stroke="#444" stroke-width="0.4"/>
<text x="538.5" y="724.4" font-size="10.18" fill="#222" stroke="#222" stroke-width="0.25" textLength="122.8" lengthAdjust="spacingAndGlyphs">Testing Dataset GSE39582</text>
<line x1="591.3" y1="735.7" x2="595.9" y2="735.7" stroke="#cf4a3b" stroke-width="1.2"/>
<line x1="593.6" y1="734.9" x2="593.6" y2="736.5" stroke="#cf4a3b" stroke-width="0.5"/>
<line x1="621.7" y1="735.7" x2="626.3" y2="735.7" stroke="#3b7f79" stroke-width="1.2"/>
<line x1="624" y1="734.9" x2="624" y2="736.5" stroke="#3b7f79" stroke-width="0.5"/>
<rect x="538.3" y="742.2" width="124.1" height="55" fill="none" stroke="#8a8a8a" stroke-width="0.6"/>
<line x1="536.9" y1="744.1" x2="538.3" y2="744.1" stroke="#666" stroke-width="0.4"/>
<line x1="536.9" y1="756.85" x2="538.3" y2="756.85" stroke="#666" stroke-width="0.4"/>
<line x1="536.9" y1="769.6" x2="538.3" y2="769.6" stroke="#666" stroke-width="0.4"/>
<line x1="536.9" y1="782.35" x2="538.3" y2="782.35" stroke="#666" stroke-width="0.4"/>
<line x1="536.9" y1="795.1" x2="538.3" y2="795.1" stroke="#666" stroke-width="0.4"/>
<text transform="translate(522,769.7) rotate(-90)" font-size="5.6" fill="#222" text-anchor="middle" stroke="#222" stroke-width="0.17">Survival probability</text>
<line x1="543.7" y1="797.2" x2="543.7" y2="798.6" stroke="#666" stroke-width="0.4"/>
<line x1="572.1" y1="797.2" x2="572.1" y2="798.6" stroke="#666" stroke-width="0.4"/>
<line x1="600.5" y1="797.2" x2="600.5" y2="798.6" stroke="#666" stroke-width="0.4"/>
<line x1="628.9" y1="797.2" x2="628.9" y2="798.6" stroke="#666" stroke-width="0.4"/>
<line x1="657.3" y1="797.2" x2="657.3" y2="798.6" stroke="#666" stroke-width="0.4"/>
<path d="M543.7,744.1 H545.57 V744.61 H548.81 V745.12 H549.61 V745.63 H550.27 V746.14 H551.82 V746.65 H553.34 V747.16 H554.35 V747.67 H556.08 V748.18 H556.58 V748.69 H557.4 V749.2 H558.48 V749.71 H559.53 V750.22 H560.71 V750.73 H561.77 V751.24 H563.41 V751.75 H563.76 V752.23 H565.05 V752.72 H566.28 V753.2 H567.4 V753.69 H568.71 V754.17 H570.68 V754.66 H571.87 V755.24 H573.66 V755.81 H578.01 V756.39 H578.77 V756.89 H581.21 V757.39 H582.76 V757.88 H585.28 V758.38 H586.65 V758.96 H590.3 V759.54 H593.8 V760.11 H595.54 V760.61 H597.78 V761.1 H602.49 V761.59 H603.74 V762.1 H605.04 V762.61 H608.4 V763.12 H608.94 V763.59 H611.82 V764.07 H614.14 V764.54 H618.62 V765.01 H657.7" fill="none" stroke="#3b7f79" stroke-width="1.25"/>
<line x1="591.26" y1="758.6" x2="591.26" y2="760.6" stroke="#3b7f79" stroke-width="0.5"/>
<line x1="562.77" y1="750.44" x2="562.77" y2="752.44" stroke="#3b7f79" stroke-width="0.5"/>
<line x1="588.3" y1="757.99" x2="588.3" y2="759.99" stroke="#3b7f79" stroke-width="0.5"/>
<line x1="656.01" y1="764.01" x2="656.01" y2="766.01" stroke="#3b7f79" stroke-width="0.5"/>
<line x1="652.85" y1="764.01" x2="652.85" y2="766.01" stroke="#3b7f79" stroke-width="0.5"/>
<line x1="615.98" y1="763.52" x2="615.98" y2="765.52" stroke="#3b7f79" stroke-width="0.5"/>
<line x1="601.84" y1="760.48" x2="601.84" y2="762.48" stroke="#3b7f79" stroke-width="0.5"/>
<line x1="584.03" y1="757.04" x2="584.03" y2="759.04" stroke="#3b7f79" stroke-width="0.5"/>
<line x1="556.41" y1="747.34" x2="556.41" y2="749.34" stroke="#3b7f79" stroke-width="0.5"/>
<line x1="576.7" y1="755.08" x2="576.7" y2="757.08" stroke="#3b7f79" stroke-width="0.5"/>
<line x1="633.16" y1="764.01" x2="633.16" y2="766.01" stroke="#3b7f79" stroke-width="0.5"/>
<line x1="642.61" y1="764.01" x2="642.61" y2="766.01" stroke="#3b7f79" stroke-width="0.5"/>
<line x1="586.56" y1="757.64" x2="586.56" y2="759.64" stroke="#3b7f79" stroke-width="0.5"/>
<line x1="633.6" y1="764.01" x2="633.6" y2="766.01" stroke="#3b7f79" stroke-width="0.5"/>
<line x1="632.37" y1="764.01" x2="632.37" y2="766.01" stroke="#3b7f79" stroke-width="0.5"/>
<line x1="623.47" y1="764.01" x2="623.47" y2="766.01" stroke="#3b7f79" stroke-width="0.5"/>
<line x1="620.09" y1="764.01" x2="620.09" y2="766.01" stroke="#3b7f79" stroke-width="0.5"/>
<line x1="630.68" y1="764.01" x2="630.68" y2="766.01" stroke="#3b7f79" stroke-width="0.5"/>
<line x1="586.79" y1="757.69" x2="586.79" y2="759.69" stroke="#3b7f79" stroke-width="0.5"/>
<line x1="624.57" y1="764.01" x2="624.57" y2="766.01" stroke="#3b7f79" stroke-width="0.5"/>
<line x1="577.65" y1="755.31" x2="577.65" y2="757.31" stroke="#3b7f79" stroke-width="0.5"/>
<line x1="600.33" y1="760.23" x2="600.33" y2="762.23" stroke="#3b7f79" stroke-width="0.5"/>
<line x1="631.8" y1="764.01" x2="631.8" y2="766.01" stroke="#3b7f79" stroke-width="0.5"/>
<line x1="623.06" y1="764.01" x2="623.06" y2="766.01" stroke="#3b7f79" stroke-width="0.5"/>
<line x1="579.09" y1="755.69" x2="579.09" y2="757.69" stroke="#3b7f79" stroke-width="0.5"/>
<line x1="651.27" y1="764.01" x2="651.27" y2="766.01" stroke="#3b7f79" stroke-width="0.5"/>
<line x1="618.5" y1="763.99" x2="618.5" y2="765.99" stroke="#3b7f79" stroke-width="0.5"/>
<line x1="610.85" y1="762.58" x2="610.85" y2="764.58" stroke="#3b7f79" stroke-width="0.5"/>
<line x1="547.82" y1="743.92" x2="547.82" y2="745.92" stroke="#3b7f79" stroke-width="0.5"/>
<line x1="607.12" y1="761.79" x2="607.12" y2="763.79" stroke="#3b7f79" stroke-width="0.5"/>
<path d="M543.7,744.1 H545.04 V744.61 H546.12 V745.12 H548.81 V745.63 H549.16 V746.17 H549.81 V746.7 H550.73 V747.24 H551.45 V747.77 H551.94 V748.31 H552.7 V748.84 H553.61 V749.38 H554.46 V749.91 H555.06 V750.45 H556.08 V750.99 H556.66 V751.5 H556.96 V752.02 H557.72 V752.53 H558.77 V753.05 H559.34 V753.56 H559.91 V754.08 H560.87 V754.59 H561.79 V755.11 H562.32 V755.62 H563.41 V756.14 H563.6 V756.65 H564.31 V757.16 H565.4 V757.67 H565.95 V758.18 H566.87 V758.69 H567.21 V759.2 H568.02 V759.71 H568.67 V760.22 H569.54 V760.73 H570.68 V761.24 H571.33 V761.8 H573.33 V762.36 H575.05 V762.92 H578.01 V763.48 H578.55 V763.99 H582.33 V764.5 H585.28 V765.01 H586.2 V765.52 H587.9 V766.03 H589.86 V766.54 H592.55 V767.05 H593.1 V767.61 H594.34 V768.17 H596.13 V768.73 H598.23 V769.29 H598.76 V769.8 H599.85 V770.3 H600.43 V770.8 H601.27 V771.3 H602.51 V771.8 H603.91 V772.3 H625.89 H625.91 V772.78 H625.94 V773.26 H625.98 V773.74 H626.01 V774.22 H626.06 V774.7 H647.81 H647.82 V775.22 H647.82 V775.74 H647.83 V776.25 H647.83 V776.77 H647.84 V777.29 H647.85 V777.81 H647.85 V778.33 H647.86 V778.84 H647.87 V779.36 H647.87 V779.88 H647.88 V780.4 H647.88 V780.92 H647.89 V781.43 H647.89 V781.95 H647.9 V782.47 H647.91 V782.99 H647.91 V783.51 H647.92 V784.02 H647.93 V784.54 H652.93" fill="none" stroke="#cf4a3b" stroke-width="1.25"/>
<line x1="572.88" y1="760.91" x2="572.88" y2="762.91" stroke="#cf4a3b" stroke-width="0.5"/>
<line x1="617.12" y1="771.3" x2="617.12" y2="773.3" stroke="#cf4a3b" stroke-width="0.5"/>
<line x1="595.19" y1="767.09" x2="595.19" y2="769.09" stroke="#cf4a3b" stroke-width="0.5"/>
<line x1="632.36" y1="773.7" x2="632.36" y2="775.7" stroke="#cf4a3b" stroke-width="0.5"/>
<line x1="614.57" y1="771.3" x2="614.57" y2="773.3" stroke="#cf4a3b" stroke-width="0.5"/>
<line x1="630.35" y1="773.7" x2="630.35" y2="775.7" stroke="#cf4a3b" stroke-width="0.5"/>
<line x1="583.1" y1="763.55" x2="583.1" y2="765.55" stroke="#cf4a3b" stroke-width="0.5"/>
<line x1="614.22" y1="771.3" x2="614.22" y2="773.3" stroke="#cf4a3b" stroke-width="0.5"/>
<line x1="624.07" y1="771.3" x2="624.07" y2="773.3" stroke="#cf4a3b" stroke-width="0.5"/>
<line x1="633.57" y1="773.7" x2="633.57" y2="775.7" stroke="#cf4a3b" stroke-width="0.5"/>
<line x1="583.32" y1="763.6" x2="583.32" y2="765.6" stroke="#cf4a3b" stroke-width="0.5"/>
<line x1="635.11" y1="773.7" x2="635.11" y2="775.7" stroke="#cf4a3b" stroke-width="0.5"/>
<line x1="637.95" y1="773.7" x2="637.95" y2="775.7" stroke="#cf4a3b" stroke-width="0.5"/>
<line x1="618.87" y1="771.3" x2="618.87" y2="773.3" stroke="#cf4a3b" stroke-width="0.5"/>
<line x1="649.11" y1="783.54" x2="649.11" y2="785.54" stroke="#cf4a3b" stroke-width="0.5"/>
<line x1="647.05" y1="773.7" x2="647.05" y2="775.7" stroke="#cf4a3b" stroke-width="0.5"/>
<line x1="600.99" y1="769.76" x2="600.99" y2="771.76" stroke="#cf4a3b" stroke-width="0.5"/>
<line x1="602.16" y1="770.38" x2="602.16" y2="772.38" stroke="#cf4a3b" stroke-width="0.5"/>
<line x1="564" y1="755.55" x2="564" y2="757.55" stroke="#cf4a3b" stroke-width="0.5"/>
<line x1="634.45" y1="773.7" x2="634.45" y2="775.7" stroke="#cf4a3b" stroke-width="0.5"/>
<line x1="543.7" y1="769.6" x2="598.51" y2="769.6" stroke="#555" stroke-width="0.65" stroke-dasharray="1.3,1"/>
<line x1="598.51" y1="769.6" x2="598.51" y2="795.1" stroke="#999" stroke-width="0.65" stroke-dasharray="0.9,2"/>
<rect x="538.6" y="816.4" width="124.2" height="9.1" fill="none" stroke="#8a8a8a" stroke-width="0.6"/>
<line x1="537.6" y1="818.8" x2="538.6" y2="818.8" stroke="#333" stroke-width="0.4"/>
<line x1="537.6" y1="823.2" x2="538.6" y2="823.2" stroke="#333" stroke-width="0.4"/>
<line x1="543.7" y1="825.5" x2="543.7" y2="826.8" stroke="#444" stroke-width="0.4"/>
<line x1="572.1" y1="825.5" x2="572.1" y2="826.8" stroke="#444" stroke-width="0.4"/>
<line x1="600.5" y1="825.5" x2="600.5" y2="826.8" stroke="#444" stroke-width="0.4"/>
<line x1="628.9" y1="825.5" x2="628.9" y2="826.8" stroke="#444" stroke-width="0.4"/>
<line x1="657.3" y1="825.5" x2="657.3" y2="826.8" stroke="#444" stroke-width="0.4"/>
<text x="381.5" y="858.1" font-size="9.27" fill="#222" stroke="#222" stroke-width="0.23" textLength="118.0" lengthAdjust="spacingAndGlyphs">Testing Dataset Meta-Cohort</text>
<line x1="432.2" y1="869.5" x2="436.8" y2="869.5" stroke="#cf4a3b" stroke-width="1.2"/>
<line x1="434.5" y1="868.7" x2="434.5" y2="870.3" stroke="#cf4a3b" stroke-width="0.5"/>
<line x1="462.6" y1="869.5" x2="467.2" y2="869.5" stroke="#3b7f79" stroke-width="1.2"/>
<line x1="464.9" y1="868.7" x2="464.9" y2="870.3" stroke="#3b7f79" stroke-width="0.5"/>
<rect x="378.2" y="875.6" width="126.2" height="55" fill="none" stroke="#8a8a8a" stroke-width="0.6"/>
<line x1="376.8" y1="878.1" x2="378.2" y2="878.1" stroke="#666" stroke-width="0.4"/>
<line x1="376.8" y1="890.73" x2="378.2" y2="890.73" stroke="#666" stroke-width="0.4"/>
<line x1="376.8" y1="903.35" x2="378.2" y2="903.35" stroke="#666" stroke-width="0.4"/>
<line x1="376.8" y1="915.98" x2="378.2" y2="915.98" stroke="#666" stroke-width="0.4"/>
<line x1="376.8" y1="928.6" x2="378.2" y2="928.6" stroke="#666" stroke-width="0.4"/>
<text transform="translate(362.2,903.1) rotate(-90)" font-size="5.6" fill="#222" text-anchor="middle" stroke="#222" stroke-width="0.17">Survival probability</text>
<line x1="383.8" y1="930.6" x2="383.8" y2="932" stroke="#666" stroke-width="0.4"/>
<line x1="412.48" y1="930.6" x2="412.48" y2="932" stroke="#666" stroke-width="0.4"/>
<line x1="441.15" y1="930.6" x2="441.15" y2="932" stroke="#666" stroke-width="0.4"/>
<line x1="469.83" y1="930.6" x2="469.83" y2="932" stroke="#666" stroke-width="0.4"/>
<line x1="498.5" y1="930.6" x2="498.5" y2="932" stroke="#666" stroke-width="0.4"/>
<path d="M383.8,878.1 H384.08 V878.44 H385.4 V878.77 H386.68 V879.11 H387.96 V879.45 H388.97 V879.78 H391.08 V880.12 H391.49 V880.48 H392.82 V880.84 H393.74 V881.2 H395 V881.56 H395.9 V881.92 H397.01 V882.28 H398.42 V882.64 H398.91 V883.01 H400.18 V883.37 H401.12 V883.73 H402.35 V884.09 H403.25 V884.45 H404.27 V884.81 H405.71 V885.17 H406.34 V885.55 H407.02 V885.93 H407.8 V886.31 H408.68 V886.69 H409.65 V887.06 H410.62 V887.44 H411.77 V887.82 H413.05 V888.2 H413.34 V888.58 H415.06 V888.96 H416.12 V889.34 H416.95 V889.72 H418.18 V890.09 H420.33 V890.47 H420.83 V890.81 H422.41 V891.15 H423.69 V891.48 H424.66 V891.82 H425.6 V892.16 H427.62 V892.49 H429.08 V892.87 H434.61 V893.25 H435.06 V893.62 H437.99 V893.99 H440.49 V894.36 H442.54 V894.73 H443.89 V895.1 H447.69 V895.47 H448.28 V895.86 H450.86 V896.25 H452.5 V896.63 H455.03 V897.02 H456.81 V897.41 H459.39 V897.8 H499.65" fill="none" stroke="#3b7f79" stroke-width="1.25"/>
<line x1="491.5" y1="896.8" x2="491.5" y2="898.8" stroke="#3b7f79" stroke-width="0.5"/>
<line x1="440.04" y1="893.17" x2="440.04" y2="895.17" stroke="#3b7f79" stroke-width="0.5"/>
<line x1="463.99" y1="896.8" x2="463.99" y2="898.8" stroke="#3b7f79" stroke-width="0.5"/>
<line x1="467.15" y1="896.8" x2="467.15" y2="898.8" stroke="#3b7f79" stroke-width="0.5"/>
<line x1="468.34" y1="896.8" x2="468.34" y2="898.8" stroke="#3b7f79" stroke-width="0.5"/>
<line x1="405.88" y1="884.24" x2="405.88" y2="886.24" stroke="#3b7f79" stroke-width="0.5"/>
<line x1="473.94" y1="896.8" x2="473.94" y2="898.8" stroke="#3b7f79" stroke-width="0.5"/>
<line x1="451.62" y1="895.25" x2="451.62" y2="897.25" stroke="#3b7f79" stroke-width="0.5"/>
<line x1="461.1" y1="896.8" x2="461.1" y2="898.8" stroke="#3b7f79" stroke-width="0.5"/>
<line x1="433.73" y1="892.15" x2="433.73" y2="894.15" stroke="#3b7f79" stroke-width="0.5"/>
<line x1="456.42" y1="896.21" x2="456.42" y2="898.21" stroke="#3b7f79" stroke-width="0.5"/>
<line x1="473.3" y1="896.8" x2="473.3" y2="898.8" stroke="#3b7f79" stroke-width="0.5"/>
<line x1="457.89" y1="896.5" x2="457.89" y2="898.5" stroke="#3b7f79" stroke-width="0.5"/>
<line x1="467.23" y1="896.8" x2="467.23" y2="898.8" stroke="#3b7f79" stroke-width="0.5"/>
<line x1="389.76" y1="878.75" x2="389.76" y2="880.75" stroke="#3b7f79" stroke-width="0.5"/>
<line x1="404.56" y1="883.77" x2="404.56" y2="885.77" stroke="#3b7f79" stroke-width="0.5"/>
<line x1="435.99" y1="892.48" x2="435.99" y2="894.48" stroke="#3b7f79" stroke-width="0.5"/>
<line x1="459.37" y1="896.79" x2="459.37" y2="898.79" stroke="#3b7f79" stroke-width="0.5"/>
<line x1="411.16" y1="886.42" x2="411.16" y2="888.42" stroke="#3b7f79" stroke-width="0.5"/>
<line x1="463.38" y1="896.8" x2="463.38" y2="898.8" stroke="#3b7f79" stroke-width="0.5"/>
<line x1="457.22" y1="896.36" x2="457.22" y2="898.36" stroke="#3b7f79" stroke-width="0.5"/>
<line x1="391.35" y1="879.21" x2="391.35" y2="881.21" stroke="#3b7f79" stroke-width="0.5"/>
<line x1="439.41" y1="893.06" x2="439.41" y2="895.06" stroke="#3b7f79" stroke-width="0.5"/>
<line x1="411.97" y1="886.75" x2="411.97" y2="888.75" stroke="#3b7f79" stroke-width="0.5"/>
<line x1="392.72" y1="879.68" x2="392.72" y2="881.68" stroke="#3b7f79" stroke-width="0.5"/>
<line x1="401.6" y1="882.75" x2="401.6" y2="884.75" stroke="#3b7f79" stroke-width="0.5"/>
<line x1="422.16" y1="889.98" x2="422.16" y2="891.98" stroke="#3b7f79" stroke-width="0.5"/>
<line x1="406.97" y1="884.69" x2="406.97" y2="886.69" stroke="#3b7f79" stroke-width="0.5"/>
<line x1="408.29" y1="885.24" x2="408.29" y2="887.24" stroke="#3b7f79" stroke-width="0.5"/>
<line x1="390.66" y1="879" x2="390.66" y2="881" stroke="#3b7f79" stroke-width="0.5"/>
<path d="M383.8,878.1 H384.02 V878.45 H384.78 V878.8 H385.19 V879.15 H385.74 V879.5 H386.3 V879.85 H386.97 V880.2 H387.59 V880.55 H388.01 V880.9 H388.72 V881.25 H389.15 V881.6 H389.55 V881.95 H390.35 V882.3 H391.08 V882.64 H391.2 V883.01 H392.02 V883.37 H392.25 V883.73 H392.94 V884.09 H393.44 V884.45 H394.09 V884.81 H394.46 V885.17 H394.93 V885.53 H395.47 V885.89 H395.97 V886.25 H396.61 V886.61 H397.07 V886.97 H397.72 V887.33 H398.42 V887.7 H398.7 V888.06 H399.32 V888.43 H400.27 V888.8 H400.88 V889.16 H401.54 V889.53 H402.11 V889.9 H402.69 V890.27 H403.25 V890.63 H404.18 V891 H404.71 V891.37 H405.71 V891.74 H405.93 V892.1 H406.63 V892.47 H407.64 V892.84 H408.45 V893.21 H408.88 V893.58 H409.88 V893.95 H410.4 V894.32 H411.29 V894.68 H412.11 V895.05 H413.05 V895.42 H413.6 V895.77 H414.2 V896.13 H414.83 V896.48 H415.89 V896.84 H416.73 V897.19 H417.35 V897.54 H418.25 V897.9 H419.03 V898.25 H420.33 V898.6 H420.73 V898.98 H421.82 V899.35 H422.92 V899.73 H424.1 V900.1 H424.95 V900.48 H426.36 V900.85 H427.62 V901.23 H428.64 V901.6 H429.81 V901.97 H431.69 V902.34 H432.21 V902.69 H433.38 V903.04 H434.12 V903.39 H435.26 V903.74 H436.32 V904.09 H437.23 V904.44 H438.09 V904.79 H438.98 V905.14 H439.99 V905.49 H441.16 V905.84 H442.3 V906.19 H443.41 V906.54 H444.76 V906.88 H445.6 V907.24 H448.61 V907.59 H449.94 V907.95 H452.71 V908.3 H454.06 V908.65 H457.15 V909.01 H459.23 V909.36 H461.79 V909.71 H463.91 V910.07 H466.67 V910.42 H488.29 H488.3 V910.78 H488.3 V911.15 H488.31 V911.51 H488.31 V911.87 H488.32 V912.24 H488.33 V912.6 H488.34 V912.97 H488.35 V913.33 H488.35 V913.69 H488.36 V914.06 H488.36 V914.42 H488.37 V914.78 H488.38 V915.15 H488.39 V915.51 H488.39 V915.87 H488.4 V916.24 H488.41 V916.6 H488.41 V916.96 H488.42 V917.33 H488.43 V917.69 H488.43 V918.06 H488.44 V918.42 H488.45 V918.78 H488.46 V919.15 H488.46 V919.51 H494.2" fill="none" stroke="#cf4a3b" stroke-width="1.25"/>
<line x1="436.04" y1="902.85" x2="436.04" y2="904.85" stroke="#cf4a3b" stroke-width="0.5"/>
<line x1="427.02" y1="900.01" x2="427.02" y2="902.01" stroke="#cf4a3b" stroke-width="0.5"/>
<line x1="451.58" y1="906.98" x2="451.58" y2="908.98" stroke="#cf4a3b" stroke-width="0.5"/>
<line x1="449.28" y1="906.61" x2="449.28" y2="908.61" stroke="#cf4a3b" stroke-width="0.5"/>
<line x1="411.9" y1="893.85" x2="411.9" y2="895.85" stroke="#cf4a3b" stroke-width="0.5"/>
<line x1="482.49" y1="909.42" x2="482.49" y2="911.42" stroke="#cf4a3b" stroke-width="0.5"/>
<line x1="386.74" y1="878.93" x2="386.74" y2="880.93" stroke="#cf4a3b" stroke-width="0.5"/>
<line x1="429.68" y1="900.79" x2="429.68" y2="902.79" stroke="#cf4a3b" stroke-width="0.5"/>
<line x1="416.22" y1="895.81" x2="416.22" y2="897.81" stroke="#cf4a3b" stroke-width="0.5"/>
<line x1="430.17" y1="900.93" x2="430.17" y2="902.93" stroke="#cf4a3b" stroke-width="0.5"/>
<line x1="398.88" y1="886.95" x2="398.88" y2="888.95" stroke="#cf4a3b" stroke-width="0.5"/>
<line x1="474.87" y1="909.42" x2="474.87" y2="911.42" stroke="#cf4a3b" stroke-width="0.5"/>
<line x1="426.34" y1="899.77" x2="426.34" y2="901.77" stroke="#cf4a3b" stroke-width="0.5"/>
<line x1="390.49" y1="881.28" x2="390.49" y2="883.28" stroke="#cf4a3b" stroke-width="0.5"/>
<line x1="451.77" y1="907.01" x2="451.77" y2="909.01" stroke="#cf4a3b" stroke-width="0.5"/>
<line x1="396.73" y1="885.53" x2="396.73" y2="887.53" stroke="#cf4a3b" stroke-width="0.5"/>
<line x1="444.51" y1="905.8" x2="444.51" y2="907.8" stroke="#cf4a3b" stroke-width="0.5"/>
<line x1="422.67" y1="898.45" x2="422.67" y2="900.45" stroke="#cf4a3b" stroke-width="0.5"/>
<line x1="448.3" y1="906.46" x2="448.3" y2="908.46" stroke="#cf4a3b" stroke-width="0.5"/>
<line x1="488.34" y1="912.01" x2="488.34" y2="914.01" stroke="#cf4a3b" stroke-width="0.5"/>
<line x1="383.8" y1="903.35" x2="431.4" y2="903.35" stroke="#555" stroke-width="0.65" stroke-dasharray="1.3,1"/>
<line x1="431.4" y1="903.35" x2="431.4" y2="928.6" stroke="#999" stroke-width="0.65" stroke-dasharray="0.9,2"/>
<rect x="378" y="949.4" width="122.6" height="9.2" fill="none" stroke="#8a8a8a" stroke-width="0.6"/>
<line x1="377" y1="951.8" x2="378" y2="951.8" stroke="#333" stroke-width="0.4"/>
<line x1="377" y1="956.2" x2="378" y2="956.2" stroke="#333" stroke-width="0.4"/>
<line x1="383.8" y1="958.6" x2="383.8" y2="959.9" stroke="#444" stroke-width="0.4"/>
<line x1="412.48" y1="958.6" x2="412.48" y2="959.9" stroke="#444" stroke-width="0.4"/>
<line x1="441.15" y1="958.6" x2="441.15" y2="959.9" stroke="#444" stroke-width="0.4"/>
<line x1="469.83" y1="958.6" x2="469.83" y2="959.9" stroke="#444" stroke-width="0.4"/>
<line x1="498.5" y1="958.6" x2="498.5" y2="959.9" stroke="#444" stroke-width="0.4"/>
<text x="571.3" y="857.8" font-size="9.34" fill="#222" stroke="#222" stroke-width="0.23" textLength="58.1" lengthAdjust="spacingAndGlyphs">RJ-BK-Cohort</text>
<line x1="589" y1="870.8" x2="593.6" y2="870.8" stroke="#cf4a3b" stroke-width="1.2"/>
<line x1="591.3" y1="870" x2="591.3" y2="871.6" stroke="#cf4a3b" stroke-width="0.5"/>
<line x1="619.4" y1="870.8" x2="624" y2="870.8" stroke="#3b7f79" stroke-width="1.2"/>
<line x1="621.7" y1="870" x2="621.7" y2="871.6" stroke="#3b7f79" stroke-width="0.5"/>
<rect x="536" y="875.5" width="130.5" height="56.4" fill="none" stroke="#8a8a8a" stroke-width="0.6"/>
<line x1="534.6" y1="877.8" x2="536" y2="877.8" stroke="#666" stroke-width="0.4"/>
<line x1="534.6" y1="890.7" x2="536" y2="890.7" stroke="#666" stroke-width="0.4"/>
<line x1="534.6" y1="903.6" x2="536" y2="903.6" stroke="#666" stroke-width="0.4"/>
<line x1="534.6" y1="916.5" x2="536" y2="916.5" stroke="#666" stroke-width="0.4"/>
<line x1="534.6" y1="929.4" x2="536" y2="929.4" stroke="#666" stroke-width="0.4"/>
<text transform="translate(520.5,903.7) rotate(-90)" font-size="5.6" fill="#222" text-anchor="middle" stroke="#222" stroke-width="0.17">Survival probability</text>
<line x1="541.9" y1="931.9" x2="541.9" y2="933.3" stroke="#666" stroke-width="0.4"/>
<line x1="571.58" y1="931.9" x2="571.58" y2="933.3" stroke="#666" stroke-width="0.4"/>
<line x1="601.26" y1="931.9" x2="601.26" y2="933.3" stroke="#666" stroke-width="0.4"/>
<line x1="630.94" y1="931.9" x2="630.94" y2="933.3" stroke="#666" stroke-width="0.4"/>
<line x1="660.62" y1="931.9" x2="660.62" y2="933.3" stroke="#666" stroke-width="0.4"/>
<path d="M541.9,877.8 H617.29 H617.58 V880.38 H663.59" fill="none" stroke="#3b7f79" stroke-width="1.25"/>
<line x1="589.39" y1="876.8" x2="589.39" y2="878.8" stroke="#3b7f79" stroke-width="0.5"/>
<line x1="592.36" y1="876.8" x2="592.36" y2="878.8" stroke="#3b7f79" stroke-width="0.5"/>
<line x1="596.81" y1="876.8" x2="596.81" y2="878.8" stroke="#3b7f79" stroke-width="0.5"/>
<line x1="599.78" y1="876.8" x2="599.78" y2="878.8" stroke="#3b7f79" stroke-width="0.5"/>
<line x1="623.52" y1="879.38" x2="623.52" y2="881.38" stroke="#3b7f79" stroke-width="0.5"/>
<line x1="633.91" y1="879.38" x2="633.91" y2="881.38" stroke="#3b7f79" stroke-width="0.5"/>
<line x1="639.84" y1="879.38" x2="639.84" y2="881.38" stroke="#3b7f79" stroke-width="0.5"/>
<line x1="642.81" y1="879.38" x2="642.81" y2="881.38" stroke="#3b7f79" stroke-width="0.5"/>
<line x1="645.78" y1="879.38" x2="645.78" y2="881.38" stroke="#3b7f79" stroke-width="0.5"/>
<line x1="650.23" y1="879.38" x2="650.23" y2="881.38" stroke="#3b7f79" stroke-width="0.5"/>
<line x1="654.68" y1="879.38" x2="654.68" y2="881.38" stroke="#3b7f79" stroke-width="0.5"/>
<line x1="659.14" y1="879.38" x2="659.14" y2="881.38" stroke="#3b7f79" stroke-width="0.5"/>
<line x1="663.59" y1="879.38" x2="663.59" y2="881.38" stroke="#3b7f79" stroke-width="0.5"/>
<path d="M541.9,877.8 H556.74 H556.89 V879.66 H586.12 H586.27 V881.52 H601.26 H601.41 V883.73 H613.43 H613.58 V886.21 H621.44 H621.59 V888.79 H644 H644.15 V896.38 H663.59" fill="none" stroke="#cf4a3b" stroke-width="1.25"/>
<line x1="592.36" y1="880.52" x2="592.36" y2="882.52" stroke="#cf4a3b" stroke-width="0.5"/>
<line x1="604.23" y1="882.73" x2="604.23" y2="884.73" stroke="#cf4a3b" stroke-width="0.5"/>
<line x1="623.52" y1="887.79" x2="623.52" y2="889.79" stroke="#cf4a3b" stroke-width="0.5"/>
<line x1="625" y1="887.79" x2="625" y2="889.79" stroke="#cf4a3b" stroke-width="0.5"/>
<line x1="629.46" y1="887.79" x2="629.46" y2="889.79" stroke="#cf4a3b" stroke-width="0.5"/>
<line x1="648.75" y1="895.38" x2="648.75" y2="897.38" stroke="#cf4a3b" stroke-width="0.5"/>
<line x1="653.2" y1="895.38" x2="653.2" y2="897.38" stroke="#cf4a3b" stroke-width="0.5"/>
<line x1="657.65" y1="895.38" x2="657.65" y2="897.38" stroke="#cf4a3b" stroke-width="0.5"/>
<line x1="663.59" y1="895.38" x2="663.59" y2="897.38" stroke="#cf4a3b" stroke-width="0.5"/>
<rect x="543.2" y="950.4" width="123.3" height="9.9" fill="none" stroke="#8a8a8a" stroke-width="0.6"/>
<line x1="542.2" y1="952.8" x2="543.2" y2="952.8" stroke="#333" stroke-width="0.4"/>
<line x1="542.2" y1="957.2" x2="543.2" y2="957.2" stroke="#333" stroke-width="0.4"/>
<line x1="548.4" y1="960.3" x2="548.4" y2="961.6" stroke="#444" stroke-width="0.4"/>
<line x1="576.7" y1="960.3" x2="576.7" y2="961.6" stroke="#444" stroke-width="0.4"/>
<line x1="605" y1="960.3" x2="605" y2="961.6" stroke="#444" stroke-width="0.4"/>
<line x1="633.3" y1="960.3" x2="633.3" y2="961.6" stroke="#444" stroke-width="0.4"/>
<line x1="661.6" y1="960.3" x2="661.6" y2="961.6" stroke="#444" stroke-width="0.4"/>
<g font-size="8.1" fill="#111" font-weight="bold" stroke="#111" stroke-width="0.24"><text x="34.4" y="9.4">C-index</text></g>
<g font-size="9.2" fill="#111" font-weight="bold" stroke="#111" stroke-width="0.28"><text x="242.6" y="9.5">cohort</text></g>
<g font-size="11.2" fill="#111" font-weight="bold" stroke="#111" stroke-width="0.34"><text x="3" y="8.8">A</text></g>
<g font-size="6.6" fill="#e9ece4" stroke="#e9ece4" stroke-width="0.17"><text x="24.53" y="20.95">0.628</text><text x="24.53" y="30.42">0.628</text><text x="24.53" y="39.89">0.628</text><text x="24.53" y="49.35">0.628</text><text x="24.61" y="58.82">0.627</text><text x="24.61" y="68.29">0.627</text><text x="24.61" y="77.76">0.627</text><text x="24.61" y="87.23">0.627</text><text x="24.61" y="96.69">0.627</text><text x="24.61" y="106.16">0.627</text><text x="24.61" y="115.63">0.627</text><text x="24.61" y="125.1">0.627</text><text x="24.69" y="134.57">0.626</text><text x="24.69" y="144.03">0.626</text><text x="24.69" y="153.5">0.626</text><text x="25.02" y="162.97">0.622</text><text x="25.02" y="172.44">0.622</text><text x="25.11" y="181.91">0.621</text><text x="25.44" y="191.37">0.617</text><text x="25.44" y="200.84">0.617</text><text x="25.44" y="210.31">0.617</text><text x="25.44" y="219.78">0.617</text><text x="25.44" y="229.25">0.617</text><text x="25.52" y="238.71">0.616</text><text x="25.6" y="248.18">0.615</text><text x="25.6" y="257.65">0.615</text><text x="25.6" y="267.12">0.615</text><text x="25.68" y="276.59">0.614</text><text x="25.68" y="286.05">0.614</text><text x="25.68" y="295.52">0.614</text><text x="25.68" y="304.99">0.614</text><text x="25.68" y="314.46">0.614</text><text x="25.68" y="323.93">0.614</text><text x="25.68" y="333.39">0.614</text><text x="25.68" y="342.86">0.614</text><text x="25.68" y="352.33">0.614</text><text x="25.68" y="361.8">0.614</text><text x="25.77" y="371.27">0.613</text><text x="25.77" y="380.73">0.613</text><text x="25.77" y="390.2">0.613</text><text x="25.77" y="399.67">0.613</text><text x="25.77" y="409.14">0.613</text><text x="25.77" y="418.61">0.613</text><text x="25.77" y="428.07">0.613</text><text x="25.77" y="437.54">0.613</text><text x="25.77" y="447.01">0.613</text><text x="25.77" y="456.48">0.613</text><text x="25.93" y="465.95">0.611</text><text x="25.93" y="475.41">0.611</text><text x="25.93" y="484.88">0.611</text><text x="25.93" y="494.35">0.611</text><text x="25.93" y="503.82">0.611</text><text x="25.93" y="513.29">0.611</text><text x="26.1" y="522.75">0.609</text><text x="26.1" y="532.22">0.609</text><text x="26.1" y="541.69">0.609</text><text x="26.1" y="551.16">0.609</text><text x="26.1" y="560.63">0.609</text><text x="26.1" y="570.09">0.609</text><text x="26.1" y="579.56">0.609</text><text x="26.1" y="589.03">0.609</text><text x="26.1" y="598.5">0.609</text><text x="26.1" y="607.97">0.609</text><text x="26.1" y="617.43">0.609</text><text x="26.1" y="626.9">0.609</text><text x="26.1" y="636.37">0.609</text><text x="26.1" y="645.84">0.609</text><text x="26.1" y="655.31">0.609</text><text x="26.1" y="664.77">0.609</text><text x="26.1" y="674.24">0.609</text><text x="26.1" y="683.71">0.609</text><text x="26.1" y="693.18">0.609</text><text x="26.1" y="702.65">0.609</text><text x="26.1" y="712.11">0.609</text><text x="26.1" y="721.58">0.609</text><text x="26.1" y="731.05">0.609</text><text x="26.1" y="740.52">0.609</text><text x="26.18" y="749.99">0.608</text><text x="26.18" y="759.45">0.608</text><text x="26.18" y="768.92">0.608</text><text x="26.18" y="778.39">0.608</text><text x="26.18" y="787.86">0.608</text><text x="26.18" y="797.33">0.608</text><text x="26.26" y="806.79">0.607</text><text x="26.26" y="816.26">0.607</text><text x="26.26" y="825.73">0.607</text><text x="26.34" y="835.2">0.606</text><text x="26.84" y="844.67">0.600</text><text x="26.84" y="854.13">0.600</text><text x="27.25" y="863.6">0.595</text><text x="27.25" y="873.07">0.595</text><text x="27.34" y="882.54">0.594</text><text x="27.34" y="892.01">0.594</text><text x="27.34" y="901.47">0.594</text><text x="28.08" y="910.94">0.585</text><text x="28.08" y="920.41">0.585</text><text x="28.49" y="929.88">0.580</text><text x="28.49" y="939.35">0.580</text><text x="31.38" y="948.81">0.545</text><text x="32.46" y="958.28">0.532</text><text x="32.46" y="967.75">0.532</text></g>
<g font-size="8" fill="#3a3a3a" text-anchor="middle" fill-opacity="0.85" stroke="none"><text x="96.5" y="20.6">0.643</text><text x="128.32" y="20.6">0.587</text><text x="160.35" y="20.6">0.741</text><text x="191.9" y="20.6">0.573</text><text x="223.5" y="20.6">0.613</text><text x="96.5" y="30.08">0.644</text><text x="128.32" y="30.08">0.584</text><text x="160.35" y="30.08">0.739</text><text x="191.9" y="30.08">0.574</text><text x="223.5" y="30.08">0.614</text><text x="96.5" y="39.56">0.644</text><text x="128.32" y="39.56">0.584</text><text x="160.35" y="39.56">0.741</text><text x="191.9" y="39.56">0.573</text><text x="223.5" y="39.56">0.613</text><text x="96.5" y="49.04">0.644</text><text x="128.32" y="49.04">0.583</text><text x="160.35" y="49.04">0.741</text><text x="191.9" y="49.04">0.573</text><text x="223.5" y="49.04">0.613</text><text x="96.5" y="58.52">0.645</text><text x="128.32" y="58.52">0.583</text><text x="160.35" y="58.52">0.741</text><text x="191.9" y="58.52">0.573</text><text x="223.5" y="58.52">0.613</text><text x="96.5" y="68">0.645</text><text x="128.32" y="68">0.584</text><text x="160.35" y="68">0.739</text><text x="191.9" y="68">0.573</text><text x="223.5" y="68">0.613</text><text x="96.5" y="77.48">0.644</text><text x="128.32" y="77.48">0.585</text><text x="160.35" y="77.48">0.738</text><text x="191.9" y="77.48">0.573</text><text x="223.5" y="77.48">0.613</text><text x="96.5" y="86.96">0.644</text><text x="128.32" y="86.96">0.585</text><text x="160.35" y="86.96">0.737</text><text x="191.9" y="86.96">0.574</text><text x="223.5" y="86.96">0.614</text><text x="96.5" y="96.44">0.644</text><text x="128.32" y="96.44">0.585</text><text x="160.35" y="96.44">0.737</text><text x="191.9" y="96.44">0.574</text><text x="223.5" y="96.44">0.614</text><text x="96.5" y="105.92">0.645</text><text x="128.32" y="105.92">0.583</text><text x="160.35" y="105.92">0.738</text><text x="191.9" y="105.92">0.574</text><text x="223.5" y="105.92">0.613</text><text x="96.5" y="115.4">0.636</text><text x="128.32" y="115.4">0.590</text><text x="160.35" y="115.4">0.735</text><text x="191.9" y="115.4">0.571</text><text x="223.5" y="115.4">0.611</text><text x="96.5" y="124.88">0.645</text><text x="128.32" y="124.88">0.583</text><text x="160.35" y="124.88">0.737</text><text x="191.9" y="124.88">0.574</text><text x="223.5" y="124.88">0.613</text><text x="96.5" y="134.36">0.645</text><text x="128.32" y="134.36">0.583</text><text x="160.35" y="134.36">0.736</text><text x="191.9" y="134.36">0.574</text><text x="223.5" y="134.36">0.613</text><text x="96.5" y="143.84">0.645</text><text x="128.32" y="143.84">0.583</text><text x="160.35" y="143.84">0.736</text><text x="191.9" y="143.84">0.574</text><text x="223.5" y="143.84">0.613</text><text x="96.5" y="153.32">0.896</text><text x="128.32" y="153.32">0.571</text><text x="160.35" y="153.32">0.695</text><text x="191.9" y="153.32">0.558</text><text x="223.5" y="153.32">0.681</text><text x="96.5" y="162.8">0.872</text><text x="128.32" y="162.8">0.576</text><text x="160.35" y="162.8">0.680</text><text x="191.9" y="162.8">0.559</text><text x="223.5" y="162.8">0.675</text><text x="96.5" y="172.28">0.867</text><text x="128.32" y="172.28">0.574</text><text x="160.35" y="172.28">0.689</text><text x="191.9" y="172.28">0.555</text><text x="223.5" y="172.28">0.671</text><text x="96.5" y="181.76">0.635</text><text x="128.32" y="181.76">0.597</text><text x="160.35" y="181.76">0.714</text><text x="191.9" y="181.76">0.564</text><text x="223.5" y="181.76">0.607</text><text x="96.5" y="191.24">0.685</text><text x="128.32" y="191.24">0.580</text><text x="160.35" y="191.24">0.712</text><text x="191.9" y="191.24">0.559</text><text x="223.5" y="191.24">0.619</text><text x="96.5" y="200.72">0.636</text><text x="128.32" y="200.72">0.563</text><text x="160.35" y="200.72">0.737</text><text x="191.9" y="200.72">0.566</text><text x="223.5" y="200.72">0.602</text><text x="96.5" y="210.2">0.636</text><text x="128.32" y="210.2">0.563</text><text x="160.35" y="210.2">0.737</text><text x="191.9" y="210.2">0.566</text><text x="223.5" y="210.2">0.602</text><text x="96.5" y="219.68">0.680</text><text x="128.32" y="219.68">0.576</text><text x="160.35" y="219.68">0.713</text><text x="191.9" y="219.68">0.560</text><text x="223.5" y="219.68">0.617</text><text x="96.5" y="229.16">0.643</text><text x="128.32" y="229.16">0.578</text><text x="160.35" y="229.16">0.721</text><text x="191.9" y="229.16">0.561</text><text x="223.5" y="229.16">0.606</text><text x="96.5" y="238.64">0.686</text><text x="128.32" y="238.64">0.576</text><text x="160.35" y="238.64">0.709</text><text x="191.9" y="238.64">0.560</text><text x="223.5" y="238.64">0.618</text><text x="96.5" y="248.12">0.831</text><text x="128.32" y="248.12">0.574</text><text x="160.35" y="248.12">0.675</text><text x="191.9" y="248.12">0.554</text><text x="223.5" y="248.12">0.658</text><text x="96.5" y="257.6">0.655</text><text x="128.32" y="257.6">0.578</text><text x="160.35" y="257.6">0.712</text><text x="191.9" y="257.6">0.559</text><text x="223.5" y="257.6">0.610</text><text x="96.5" y="267.08">0.684</text><text x="128.32" y="267.08">0.574</text><text x="160.35" y="267.08">0.708</text><text x="191.9" y="267.08">0.559</text><text x="223.5" y="267.08">0.617</text><text x="96.5" y="276.56">0.688</text><text x="128.32" y="276.56">0.575</text><text x="160.35" y="276.56">0.706</text><text x="191.9" y="276.56">0.559</text><text x="223.5" y="276.56">0.618</text><text x="96.5" y="286.04">0.686</text><text x="128.32" y="286.04">0.573</text><text x="160.35" y="286.04">0.709</text><text x="191.9" y="286.04">0.558</text><text x="223.5" y="286.04">0.617</text><text x="96.5" y="295.52">0.684</text><text x="128.32" y="295.52">0.574</text><text x="160.35" y="295.52">0.708</text><text x="191.9" y="295.52">0.558</text><text x="223.5" y="295.52">0.617</text><text x="96.5" y="305">0.688</text><text x="128.32" y="305">0.575</text><text x="160.35" y="305">0.706</text><text x="191.9" y="305">0.559</text><text x="223.5" y="305">0.618</text><text x="96.5" y="314.48">0.687</text><text x="128.32" y="314.48">0.575</text><text x="160.35" y="314.48">0.706</text><text x="191.9" y="314.48">0.559</text><text x="223.5" y="314.48">0.618</text><text x="96.5" y="323.96">0.683</text><text x="128.32" y="323.96">0.574</text><text x="160.35" y="323.96">0.706</text><text x="191.9" y="323.96">0.559</text><text x="223.5" y="323.96">0.617</text><text x="96.5" y="333.44">0.687</text><text x="128.32" y="333.44">0.574</text><text x="160.35" y="333.44">0.706</text><text x="191.9" y="333.44">0.559</text><text x="223.5" y="333.44">0.618</text><text x="96.5" y="342.92">0.685</text><text x="128.32" y="342.92">0.574</text><text x="160.35" y="342.92">0.707</text><text x="191.9" y="342.92">0.558</text><text x="223.5" y="342.92">0.617</text><text x="96.5" y="352.4">0.687</text><text x="128.32" y="352.4">0.574</text><text x="160.35" y="352.4">0.707</text><text x="191.9" y="352.4">0.558</text><text x="223.5" y="352.4">0.617</text><text x="96.5" y="361.88">0.687</text><text x="128.32" y="361.88">0.573</text><text x="160.35" y="361.88">0.706</text><text x="191.9" y="361.88">0.558</text><text x="223.5" y="361.88">0.617</text><text x="96.5" y="371.36">0.625</text><text x="128.32" y="371.36">0.600</text><text x="160.35" y="371.36">0.703</text><text x="191.9" y="371.36">0.552</text><text x="223.5" y="371.36">0.598</text><text x="96.5" y="380.84">0.688</text><text x="128.32" y="380.84">0.574</text><text x="160.35" y="380.84">0.704</text><text x="191.9" y="380.84">0.558</text><text x="223.5" y="380.84">0.617</text><text x="96.5" y="390.32">0.688</text><text x="128.32" y="390.32">0.574</text><text x="160.35" y="390.32">0.704</text><text x="191.9" y="390.32">0.558</text><text x="223.5" y="390.32">0.617</text><text x="96.5" y="399.8">0.686</text><text x="128.32" y="399.8">0.573</text><text x="160.35" y="399.8">0.704</text><text x="191.9" y="399.8">0.558</text><text x="223.5" y="399.8">0.617</text><text x="96.5" y="409.28">0.686</text><text x="128.32" y="409.28">0.573</text><text x="160.35" y="409.28">0.704</text><text x="191.9" y="409.28">0.558</text><text x="223.5" y="409.28">0.617</text><text x="96.5" y="418.76">0.819</text><text x="128.32" y="418.76">0.580</text><text x="160.35" y="418.76">0.663</text><text x="191.9" y="418.76">0.555</text><text x="223.5" y="418.76">0.654</text><text x="96.5" y="428.24">0.688</text><text x="128.32" y="428.24">0.574</text><text x="160.35" y="428.24">0.703</text><text x="191.9" y="428.24">0.557</text><text x="223.5" y="428.24">0.617</text><text x="96.5" y="437.72">0.687</text><text x="128.32" y="437.72">0.574</text><text x="160.35" y="437.72">0.703</text><text x="191.9" y="437.72">0.558</text><text x="223.5" y="437.72">0.617</text><text x="96.5" y="447.2">0.688</text><text x="128.32" y="447.2">0.574</text><text x="160.35" y="447.2">0.702</text><text x="191.9" y="447.2">0.558</text><text x="223.5" y="447.2">0.617</text><text x="96.5" y="456.68">0.687</text><text x="128.32" y="456.68">0.574</text><text x="160.35" y="456.68">0.703</text><text x="191.9" y="456.68">0.558</text><text x="223.5" y="456.68">0.617</text><text x="96.5" y="466.16">0.687</text><text x="128.32" y="466.16">0.572</text><text x="160.35" y="466.16">0.700</text><text x="191.9" y="466.16">0.557</text><text x="223.5" y="466.16">0.616</text><text x="96.5" y="475.64">0.681</text><text x="128.32" y="475.64">0.580</text><text x="160.35" y="475.64">0.688</text><text x="191.9" y="475.64">0.562</text><text x="223.5" y="475.64">0.615</text><text x="96.5" y="485.12">0.681</text><text x="128.32" y="485.12">0.580</text><text x="160.35" y="485.12">0.688</text><text x="191.9" y="485.12">0.562</text><text x="223.5" y="485.12">0.615</text><text x="96.5" y="494.6">0.687</text><text x="128.32" y="494.6">0.573</text><text x="160.35" y="494.6">0.700</text><text x="191.9" y="494.6">0.556</text><text x="223.5" y="494.6">0.615</text><text x="96.5" y="504.08">0.687</text><text x="128.32" y="504.08">0.573</text><text x="160.35" y="504.08">0.700</text><text x="191.9" y="504.08">0.556</text><text x="223.5" y="504.08">0.615</text><text x="96.5" y="513.56">0.810</text><text x="128.32" y="513.56">0.578</text><text x="160.35" y="513.56">0.664</text><text x="191.9" y="513.56">0.552</text><text x="223.5" y="513.56">0.650</text><text x="96.5" y="523.04">0.684</text><text x="128.32" y="523.04">0.574</text><text x="160.35" y="523.04">0.689</text><text x="191.9" y="523.04">0.559</text><text x="223.5" y="523.04">0.614</text><text x="96.5" y="532.52">0.684</text><text x="128.32" y="532.52">0.574</text><text x="160.35" y="532.52">0.689</text><text x="191.9" y="532.52">0.559</text><text x="223.5" y="532.52">0.614</text><text x="96.5" y="542">0.684</text><text x="128.32" y="542">0.574</text><text x="160.35" y="542">0.689</text><text x="191.9" y="542">0.559</text><text x="223.5" y="542">0.614</text><text x="96.5" y="551.48">0.684</text><text x="128.32" y="551.48">0.574</text><text x="160.35" y="551.48">0.689</text><text x="191.9" y="551.48">0.559</text><text x="223.5" y="551.48">0.614</text><text x="96.5" y="560.96">0.684</text><text x="128.32" y="560.96">0.574</text><text x="160.35" y="560.96">0.689</text><text x="191.9" y="560.96">0.559</text><text x="223.5" y="560.96">0.614</text><text x="96.5" y="570.44">0.684</text><text x="128.32" y="570.44">0.574</text><text x="160.35" y="570.44">0.689</text><text x="191.9" y="570.44">0.559</text><text x="223.5" y="570.44">0.614</text><text x="96.5" y="579.92">0.684</text><text x="128.32" y="579.92">0.574</text><text x="160.35" y="579.92">0.689</text><text x="191.9" y="579.92">0.559</text><text x="223.5" y="579.92">0.614</text><text x="96.5" y="589.4">0.684</text><text x="128.32" y="589.4">0.574</text><text x="160.35" y="589.4">0.689</text><text x="191.9" y="589.4">0.559</text><text x="223.5" y="589.4">0.614</text><text x="96.5" y="598.88">0.608</text><text x="128.32" y="598.88">0.610</text><text x="160.35" y="598.88">0.685</text><text x="191.9" y="598.88">0.550</text><text x="223.5" y="598.88">0.591</text><text x="96.5" y="608.36">0.684</text><text x="128.32" y="608.36">0.572</text><text x="160.35" y="608.36">0.691</text><text x="191.9" y="608.36">0.559</text><text x="223.5" y="608.36">0.614</text><text x="96.5" y="617.84">0.684</text><text x="128.32" y="617.84">0.572</text><text x="160.35" y="617.84">0.691</text><text x="191.9" y="617.84">0.559</text><text x="223.5" y="617.84">0.614</text><text x="96.5" y="627.32">0.684</text><text x="128.32" y="627.32">0.574</text><text x="160.35" y="627.32">0.690</text><text x="191.9" y="627.32">0.559</text><text x="223.5" y="627.32">0.614</text><text x="96.5" y="636.8">0.684</text><text x="128.32" y="636.8">0.574</text><text x="160.35" y="636.8">0.690</text><text x="191.9" y="636.8">0.559</text><text x="223.5" y="636.8">0.614</text><text x="96.5" y="646.28">0.684</text><text x="128.32" y="646.28">0.573</text><text x="160.35" y="646.28">0.689</text><text x="191.9" y="646.28">0.559</text><text x="223.5" y="646.28">0.614</text><text x="96.5" y="655.76">0.684</text><text x="128.32" y="655.76">0.573</text><text x="160.35" y="655.76">0.689</text><text x="191.9" y="655.76">0.559</text><text x="223.5" y="655.76">0.614</text><text x="96.5" y="665.24">0.684</text><text x="128.32" y="665.24">0.573</text><text x="160.35" y="665.24">0.689</text><text x="191.9" y="665.24">0.559</text><text x="223.5" y="665.24">0.614</text><text x="96.5" y="674.72">0.684</text><text x="128.32" y="674.72">0.573</text><text x="160.35" y="674.72">0.689</text><text x="191.9" y="674.72">0.559</text><text x="223.5" y="674.72">0.614</text><text x="96.5" y="684.2">0.684</text><text x="128.32" y="684.2">0.574</text><text x="160.35" y="684.2">0.687</text><text x="191.9" y="684.2">0.559</text><text x="223.5" y="684.2">0.614</text><text x="96.5" y="693.68">0.684</text><text x="128.32" y="693.68">0.574</text><text x="160.35" y="693.68">0.687</text><text x="191.9" y="693.68">0.559</text><text x="223.5" y="693.68">0.614</text><text x="96.5" y="703.16">0.684</text><text x="128.32" y="703.16">0.574</text><text x="160.35" y="703.16">0.687</text><text x="191.9" y="703.16">0.559</text><text x="223.5" y="703.16">0.614</text><text x="96.5" y="712.64">0.684</text><text x="128.32" y="712.64">0.574</text><text x="160.35" y="712.64">0.687</text><text x="191.9" y="712.64">0.559</text><text x="223.5" y="712.64">0.614</text><text x="96.5" y="722.12">0.684</text><text x="128.32" y="722.12">0.574</text><text x="160.35" y="722.12">0.687</text><text x="191.9" y="722.12">0.559</text><text x="223.5" y="722.12">0.614</text><text x="96.5" y="731.6">0.684</text><text x="128.32" y="731.6">0.574</text><text x="160.35" y="731.6">0.687</text><text x="191.9" y="731.6">0.559</text><text x="223.5" y="731.6">0.614</text><text x="96.5" y="741.08">0.697</text><text x="128.32" y="741.08">0.545</text><text x="160.35" y="741.08">0.708</text><text x="191.9" y="741.08">0.565</text><text x="223.5" y="741.08">0.616</text><text x="96.5" y="750.56">0.684</text><text x="128.32" y="750.56">0.572</text><text x="160.35" y="750.56">0.689</text><text x="191.9" y="750.56">0.559</text><text x="223.5" y="750.56">0.614</text><text x="96.5" y="760.04">0.684</text><text x="128.32" y="760.04">0.572</text><text x="160.35" y="760.04">0.689</text><text x="191.9" y="760.04">0.559</text><text x="223.5" y="760.04">0.614</text><text x="96.5" y="769.52">0.686</text><text x="128.32" y="769.52">0.568</text><text x="160.35" y="769.52">0.696</text><text x="191.9" y="769.52">0.556</text><text x="223.5" y="769.52">0.614</text><text x="96.5" y="779">0.684</text><text x="128.32" y="779">0.572</text><text x="160.35" y="779">0.690</text><text x="191.9" y="779">0.558</text><text x="223.5" y="779">0.613</text><text x="96.5" y="788.48">0.684</text><text x="128.32" y="788.48">0.572</text><text x="160.35" y="788.48">0.690</text><text x="191.9" y="788.48">0.558</text><text x="223.5" y="788.48">0.613</text><text x="96.5" y="797.96">0.697</text><text x="128.32" y="797.96">0.544</text><text x="160.35" y="797.96">0.708</text><text x="191.9" y="797.96">0.565</text><text x="223.5" y="797.96">0.616</text><text x="96.5" y="807.44">0.684</text><text x="128.32" y="807.44">0.571</text><text x="160.35" y="807.44">0.688</text><text x="191.9" y="807.44">0.558</text><text x="223.5" y="807.44">0.613</text><text x="96.5" y="816.92">0.684</text><text x="128.32" y="816.92">0.571</text><text x="160.35" y="816.92">0.688</text><text x="191.9" y="816.92">0.558</text><text x="223.5" y="816.92">0.613</text><text x="96.5" y="826.4">0.660</text><text x="128.32" y="826.4">0.568</text><text x="160.35" y="826.4">0.703</text><text x="191.9" y="826.4">0.552</text><text x="223.5" y="826.4">0.606</text><text x="96.5" y="835.88">0.780</text><text x="128.32" y="835.88">0.575</text><text x="160.35" y="835.88">0.654</text><text x="191.9" y="835.88">0.556</text><text x="223.5" y="835.88">0.640</text><text x="96.5" y="845.36">0.840</text><text x="128.32" y="845.36">0.556</text><text x="160.35" y="845.36">0.662</text><text x="191.9" y="845.36">0.537</text><text x="223.5" y="845.36">0.647</text><text x="96.5" y="854.84">0.840</text><text x="128.32" y="854.84">0.556</text><text x="160.35" y="854.84">0.662</text><text x="191.9" y="854.84">0.537</text><text x="223.5" y="854.84">0.647</text><text x="96.5" y="864.32">0.609</text><text x="128.32" y="864.32">0.591</text><text x="160.35" y="864.32">0.663</text><text x="191.9" y="864.32">0.544</text><text x="223.5" y="864.32">0.585</text><text x="96.5" y="873.8">0.609</text><text x="128.32" y="873.8">0.591</text><text x="160.35" y="873.8">0.663</text><text x="191.9" y="873.8">0.544</text><text x="223.5" y="873.8">0.585</text><text x="96.5" y="883.28">0.665</text><text x="128.32" y="883.28">0.557</text><text x="160.35" y="883.28">0.671</text><text x="191.9" y="883.28">0.549</text><text x="223.5" y="883.28">0.600</text><text x="96.5" y="892.76">0.665</text><text x="128.32" y="892.76">0.557</text><text x="160.35" y="892.76">0.671</text><text x="191.9" y="892.76">0.549</text><text x="223.5" y="892.76">0.600</text><text x="96.5" y="902.24">0.611</text><text x="128.32" y="902.24">0.581</text><text x="160.35" y="902.24">0.680</text><text x="191.9" y="902.24">0.534</text><text x="223.5" y="902.24">0.581</text><text x="96.5" y="911.72">0.794</text><text x="128.32" y="911.72">0.555</text><text x="160.35" y="911.72">0.630</text><text x="191.9" y="911.72">0.530</text><text x="223.5" y="911.72">0.626</text><text x="96.5" y="921.2">0.794</text><text x="128.32" y="921.2">0.555</text><text x="160.35" y="921.2">0.630</text><text x="191.9" y="921.2">0.530</text><text x="223.5" y="921.2">0.626</text><text x="96.5" y="930.68">0.675</text><text x="128.32" y="930.68">0.537</text><text x="160.35" y="930.68">0.662</text><text x="191.9" y="930.68">0.529</text><text x="223.5" y="930.68">0.589</text><text x="96.5" y="940.16">0.675</text><text x="128.32" y="940.16">0.537</text><text x="160.35" y="940.16">0.662</text><text x="191.9" y="940.16">0.529</text><text x="223.5" y="940.16">0.589</text><text x="96.5" y="949.64">0.547</text><text x="128.32" y="949.64">0.578</text><text x="160.35" y="949.64">0.548</text><text x="191.9" y="949.64">0.515</text><text x="223.5" y="949.64">0.539</text><text x="96.5" y="959.12">0.534</text><text x="128.32" y="959.12">0.563</text><text x="160.35" y="959.12">0.552</text><text x="191.9" y="959.12">0.494</text><text x="223.5" y="959.12">0.518</text><text x="96.5" y="968.6">0.534</text><text x="128.32" y="968.6">0.563</text><text x="160.35" y="968.6">0.552</text><text x="191.9" y="968.6">0.494</text><text x="223.5" y="968.6">0.518</text></g>
<g font-size="7.2" fill="#111" stroke="#111" stroke-width="0.22"><text x="242.9" y="20.6">RSF+Enet[a=0.1]</text><text x="242.9" y="30.08">RSF+CoxBoost</text><text x="242.9" y="39.56">RSF+Enet[a=0.3]</text><text x="242.9" y="49.04">RSF+Enet[a=0.4]</text><text x="242.9" y="58.52">RSF+Enet[a=0.5]</text><text x="242.9" y="68">RSF+Enet[a=0.6]</text><text x="242.9" y="77.48">RSF+Enet[a=0.2]</text><text x="242.9" y="86.96">RSF+StepCox[forward]</text><text x="242.9" y="96.44">RSF+plsRcox</text><text x="242.9" y="105.92">RSF+Enet[a=0.7]</text><text x="242.9" y="115.4">RSF+Ridge</text><text x="242.9" y="124.88">RSF+Enet[a=0.8]</text><text x="242.9" y="134.36">RSF+Enet[a=0.9]</text><text x="242.9" y="143.84">RSF+Lasso</text><text x="242.9" y="153.32">RSF</text><text x="242.9" y="162.8">CoxBoost+RSF</text><text x="242.9" y="172.28">Lasso+RSF</text><text x="242.9" y="181.76">CoxBoost+Ridge</text><text x="242.9" y="191.24">Lasso+CoxBoost</text><text x="242.9" y="200.72">RSF+StepCox[backward]</text><text x="242.9" y="210.2">RSF+StepCox[both]</text><text x="242.9" y="219.68">Enet[a=0.1]</text><text x="242.9" y="229.16">RSF+survival−SVM</text><text x="242.9" y="238.64">CoxBoost</text><text x="242.9" y="248.12">GBM</text><text x="242.9" y="257.6">CoxBoost+survival−SVM</text><text x="242.9" y="267.08">Enet[a=0.2]</text><text x="242.9" y="276.56">Lasso</text><text x="242.9" y="286.04">Enet[a=0.4]</text><text x="242.9" y="295.52">Enet[a=0.3]</text><text x="242.9" y="305">Enet[a=0.9]</text><text x="242.9" y="314.48">Enet[a=0.7]</text><text x="242.9" y="323.96">CoxBoost+Enet[a=0.1]</text><text x="242.9" y="333.44">Enet[a=0.8]</text><text x="242.9" y="342.92">CoxBoost+Enet[a=0.2]</text><text x="242.9" y="352.4">Enet[a=0.5]</text><text x="242.9" y="361.88">Enet[a=0.6]</text><text x="242.9" y="371.36">survival−SVM</text><text x="242.9" y="380.84">CoxBoost+Enet[a=0.7]</text><text x="242.9" y="390.32">CoxBoost+Enet[a=0.8]</text><text x="242.9" y="399.8">CoxBoost+Enet[a=0.4]</text><text x="242.9" y="409.28">CoxBoost+Enet[a=0.3]</text><text x="242.9" y="418.76">CoxBoost+GBM</text><text x="242.9" y="428.24">CoxBoost+Enet[a=0.9]</text><text x="242.9" y="437.72">CoxBoost+Enet[a=0.6]</text><text x="242.9" y="447.2">CoxBoost+Lasso</text><text x="242.9" y="456.68">CoxBoost+Enet[a=0.5]</text><text x="242.9" y="466.16">Lasso+StepCox[forward]</text><text x="242.9" y="475.64">StepCox[backward]+plsRcox</text><text x="242.9" y="485.12">StepCox[both]+plsRcox</text><text x="242.9" y="494.6">CoxBoost+plsRcox</text><text x="242.9" y="504.08">CoxBoost+StepCox[forward]</text><text x="242.9" y="513.56">Lasso+GBM</text><text x="242.9" y="523.04">StepCox[backward]+Enet[a=0.9]</text><text x="242.9" y="532.52">StepCox[both]+Enet[a=0.9]</text><text x="242.9" y="542">StepCox[backward]+Lasso</text><text x="242.9" y="551.48">StepCox[both]+Lasso</text><text x="242.9" y="560.96">StepCox[backward]+Enet[a=0.7]</text><text x="242.9" y="570.44">StepCox[both]+Enet[a=0.7]</text><text x="242.9" y="579.92">StepCox[backward]+Enet[a=0.8]</text><text x="242.9" y="589.4">StepCox[both]+Enet[a=0.8]</text><text x="242.9" y="598.88">Ridge</text><text x="242.9" y="608.36">StepCox[backward]+CoxBoost</text><text x="242.9" y="617.84">StepCox[both]+CoxBoost</text><text x="242.9" y="627.32">StepCox[backward]+Enet[a=0.4]</text><text x="242.9" y="636.8">StepCox[both]+Enet[a=0.4]</text><text x="242.9" y="646.28">StepCox[backward]+Enet[a=0.5]</text><text x="242.9" y="655.76">StepCox[both]+Enet[a=0.5]</text><text x="242.9" y="665.24">StepCox[backward]+Enet[a=0.6]</text><text x="242.9" y="674.72">StepCox[both]+Enet[a=0.6]</text><text x="242.9" y="684.2">CoxBoost+StepCox[backward]</text><text x="242.9" y="693.68">CoxBoost+StepCox[both]</text><text x="242.9" y="703.16">Lasso+StepCox[backward]</text><text x="242.9" y="712.64">Lasso+StepCox[both]</text><text x="242.9" y="722.12">StepCox[backward]</text><text x="242.9" y="731.6">StepCox[both]</text><text x="242.9" y="741.08">plsRcox</text><text x="242.9" y="750.56">StepCox[backward]+Enet[a=0.3]</text><text x="242.9" y="760.04">StepCox[both]+Enet[a=0.3]</text><text x="242.9" y="769.52">Lasso+plsRcox</text><text x="242.9" y="779">StepCox[backward]+Enet[a=0.2]</text><text x="242.9" y="788.48">StepCox[both]+Enet[a=0.2]</text><text x="242.9" y="797.96">StepCox[forward]</text><text x="242.9" y="807.44">StepCox[backward]+Enet[a=0.1]</text><text x="242.9" y="816.92">StepCox[both]+Enet[a=0.1]</text><text x="242.9" y="826.4">Lasso+survival−SVM</text><text x="242.9" y="835.88">RSF+GBM</text><text x="242.9" y="845.36">StepCox[backward]+RSF</text><text x="242.9" y="854.84">StepCox[both]+RSF</text><text x="242.9" y="864.32">CoxBoost+SuperPC</text><text x="242.9" y="873.8">SuperPC</text><text x="242.9" y="883.28">StepCox[backward]+Ridge</text><text x="242.9" y="892.76">StepCox[both]+Ridge</text><text x="242.9" y="902.24">Lasso+SuperPC</text><text x="242.9" y="911.72">StepCox[backward]+GBM</text><text x="242.9" y="921.2">StepCox[both]+GBM</text><text x="242.9" y="930.68">StepCox[backward]+survival−SVM</text><text x="242.9" y="940.16">StepCox[both]+survival−SVM</text><text x="242.9" y="949.64">RSF+SuperPC</text><text x="242.9" y="959.12">StepCox[backward]+SuperPC</text><text x="242.9" y="968.6">StepCox[both]+SuperPC</text></g>
<g font-size="5.6" fill="#3a3a3a" text-anchor="middle" stroke="none"><text x="7" y="21.6">0.9</text><text x="7" y="54.5">0.8</text><text x="7" y="86.8">0.7</text><text x="7" y="115.8">0.6</text><text x="7" y="151.8">0.5</text></g>
<g font-size="12.2" fill="#111" font-weight="bold" stroke="#111" stroke-width="0.37"><text x="347.6" y="18.2">B</text></g>
<g font-size="4.4" fill="#333" text-anchor="middle" stroke="#333" stroke-width="0.11"><text x="374.8" y="124.4">0</text><text x="393.3" y="124.4">200</text><text x="411.8" y="124.4">400</text><text x="430.3" y="124.4">600</text><text x="448.8" y="124.4">800</text><text x="467.3" y="124.4">1000</text><text x="395.3" y="243.3">0.01</text><text x="420.3" y="243.3">0.02</text><text x="445.3" y="243.3">0.03</text><text x="470.3" y="243.3">0.04</text></g>
<g font-size="5.4" fill="#222" text-anchor="middle" stroke="#222" stroke-width="0.14"><text x="421.5" y="131">Number of Trees</text></g>
<g font-size="4.25" fill="#222" stroke="#222" stroke-width="0.11"><text x="350.2" y="142.6">PDGFRA</text><text x="350.2" y="146.87">TPM2</text><text x="350.2" y="151.13">CLU</text><text x="350.2" y="155.4">HSPB1</text><text x="350.2" y="159.67">COX4I2</text><text x="350.2" y="163.94">TPM1</text><text x="350.2" y="168.2">MGP</text><text x="350.2" y="172.47">BCAM</text><text x="350.2" y="176.74">CSRP2</text><text x="350.2" y="181">CRIP2</text><text x="350.2" y="185.27">CCL11</text><text x="350.2" y="189.54">NDUFA4L2</text><text x="350.2" y="193.8">SPARCL1</text><text x="350.2" y="198.07">APOE</text><text x="350.2" y="202.34">CNN1</text><text x="350.2" y="206.61">ADAMTS4</text><text x="350.2" y="210.87">LMOD1</text><text x="350.2" y="215.14">ASPN</text><text x="350.2" y="219.41">FLNA</text><text x="350.2" y="223.67">COX7A1</text><text x="350.2" y="227.94">TAGLN</text><text x="350.2" y="232.21">PDLIM3</text></g>
<g font-size="5.2" fill="#222" text-anchor="middle" stroke="#222" stroke-width="0.13"><text x="420.5" y="251">Variable Importance</text><text x="571.3" y="251.1">Log Lambda</text></g>
<g font-size="11" fill="#111" font-weight="bold" stroke="#111" stroke-width="0.33"><text x="480.6" y="15.9">C</text><text x="353.6" y="280.6">D</text><text x="518.8" y="280.8">E</text><text x="354.3" y="380.8">F</text><text x="518.2" y="379.9">G</text><text x="353.6" y="480.9">H</text><text x="519.9" y="480.7">I</text><text x="354.4" y="587.3">J</text><text x="515.8" y="587.5">K</text><text x="353" y="725.7">L</text><text x="515.9" y="725.7">M</text><text x="352.6" y="859.6">N</text><text x="517.2" y="859.4">O</text></g>
<g font-size="4.6" fill="#333" text-anchor="end" stroke="#333" stroke-width="0.11"><text x="495.6" y="24.25">12.5</text><text x="495.6" y="41.23">12.4</text><text x="495.6" y="58.21">12.3</text><text x="495.6" y="75.19">12.2</text><text x="495.6" y="92.17">12.1</text><text x="495.6" y="109.15">12.0</text></g>
<g font-size="4.8" fill="#333" text-anchor="middle" stroke="#333" stroke-width="0.12"><text x="516.7" y="118.4">−5</text><text x="544.42" y="118.4">−4</text><text x="572.14" y="118.4">−3</text><text x="599.86" y="118.4">−2</text><text x="627.58" y="118.4">−1</text><text x="516.5" y="244.4">−5</text><text x="544.28" y="244.4">−4</text><text x="572.06" y="244.4">−3</text><text x="599.84" y="244.4">−2</text><text x="627.62" y="244.4">−1</text></g>
<g font-size="4.6" fill="#333" text-anchor="middle" stroke="#333" stroke-width="0.11"><text x="507.6" y="16.8">7</text><text x="517.6" y="16.8">7</text><text x="526.2" y="16.8">7</text><text x="535.1" y="16.8">7</text><text x="544.6" y="16.8">7</text><text x="554" y="16.8">7</text><text x="563.5" y="16.8">7</text><text x="572.9" y="16.8">7</text><text x="581.8" y="16.8">7</text><text x="590.5" y="16.8">7</text><text x="599.4" y="16.8">7</text><text x="609.4" y="16.8">7</text><text x="619.4" y="16.8">7</text><text x="630.2" y="16.8">3</text><text x="639.6" y="16.8">2</text><text x="516.5" y="134.6">7</text><text x="544.4" y="134.6">7</text><text x="571.9" y="134.6">7</text><text x="599.7" y="134.6">7</text><text x="626.7" y="134.6">6</text></g>
<g font-size="4.8" fill="#333" text-anchor="end" stroke="#333" stroke-width="0.12"><text x="494.6" y="160.18">0.2</text><text x="494.6" y="179.04">0.1</text><text x="494.6" y="197.9">0</text><text x="494.6" y="216.76">−0.1</text><text x="494.6" y="235.62">−0.2</text></g>
<g font-size="5.3" fill="#222" stroke="#222" stroke-width="0.13"><text x="657" y="161.6">TPM2</text><text x="657" y="171.55">BCAM</text><text x="657" y="181.5">HSPB1</text><text x="657" y="191.45">CLU</text><text x="657" y="201.4">TPM1</text><text x="657" y="211.35">PDGFRA</text><text x="657" y="221.3">CCL11</text></g>
<g font-size="3.6" fill="#555" text-anchor="end" stroke="#555" stroke-width="0.09"><text x="371.1" y="292">1.0</text><text x="371.1" y="297.8">0.5</text><text x="371.1" y="303.6">0.0</text><text x="371.1" y="309.5">−0.5</text><text x="371.1" y="315">−1.0</text><text x="371.1" y="330.7">100</text><text x="371.1" y="339">50</text><text x="371.1" y="347.2">0</text><text x="535.7" y="297.1">0.5</text><text x="535.7" y="305.4">0.0</text><text x="535.7" y="313.5">−0.5</text><text x="535.7" y="332">100</text><text x="535.7" y="340.2">50</text><text x="535.7" y="348.5">0</text><text x="370.3" y="391.1">1.0</text><text x="370.3" y="399.1">0.5</text><text x="370.3" y="407.2">0.0</text><text x="370.3" y="415.5">−0.5</text><text x="370.3" y="429.8">90</text><text x="370.3" y="436.3">60</text><text x="370.3" y="442.6">30</text><text x="370.3" y="449.1">0</text><text x="536.1" y="391.2">0.8</text><text x="536.1" y="397.7">0.4</text><text x="536.1" y="404.6">0.0</text><text x="536.1" y="411.1">−0.4</text><text x="536.1" y="424.7">200</text><text x="536.1" y="430.6">150</text><text x="536.1" y="436.6">100</text><text x="536.1" y="442.5">50</text><text x="536.1" y="448.5">0</text><text x="367.7" y="492.2">1.0</text><text x="367.7" y="498.1">0.5</text><text x="367.7" y="504">0.0</text><text x="367.7" y="509.9">−0.5</text><text x="367.7" y="515.9">−1.0</text><text x="367.7" y="524.7">200</text><text x="367.7" y="530.5">150</text><text x="367.7" y="536.4">100</text><text x="367.7" y="542.2">50</text><text x="367.7" y="548.1">0</text><text x="534" y="493">0.5</text><text x="534" y="499.4">0.0</text><text x="534" y="505.8">−0.5</text><text x="534" y="512.6">−1.0</text><text x="534" y="525.9">40</text><text x="534" y="532.3">30</text><text x="534" y="538.4">20</text><text x="534" y="544.7">10</text></g>
<g font-size="3.6" fill="#555" text-anchor="middle" stroke="#555" stroke-width="0.09"><text x="393.95" y="319.2">100</text><text x="393.95" y="351.1">100</text><text x="414.6" y="319.2">200</text><text x="414.6" y="351.1">200</text><text x="435.25" y="319.2">300</text><text x="435.25" y="351.1">300</text><text x="455.9" y="319.2">400</text><text x="455.9" y="351.1">400</text><text x="476.55" y="319.2">500</text><text x="476.55" y="351.1">500</text><text x="563.74" y="319.6">50</text><text x="563.74" y="352.8">50</text><text x="590.07" y="319.6">100</text><text x="590.07" y="352.8">100</text><text x="616.4" y="319.6">150</text><text x="616.4" y="352.8">150</text><text x="642.74" y="319.6">200</text><text x="642.74" y="352.8">200</text><text x="402.75" y="420.7">30</text><text x="402.75" y="453.2">30</text><text x="433.5" y="420.7">60</text><text x="433.5" y="453.2">60</text><text x="464.25" y="420.7">90</text><text x="464.25" y="453.2">90</text><text x="559.65" y="420.1">100</text><text x="559.65" y="453.2">100</text><text x="581" y="420.1">200</text><text x="581" y="453.2">200</text><text x="602.35" y="420.1">300</text><text x="602.35" y="453.2">300</text><text x="623.7" y="420.1">400</text><text x="623.7" y="453.2">400</text><text x="645.05" y="420.1">500</text><text x="645.05" y="453.2">500</text><text x="411.1" y="520.1">500</text><text x="411.1" y="552.6">500</text><text x="452.3" y="520.1">1000</text><text x="452.3" y="552.6">1000</text><text x="556.7" y="519.8">10</text><text x="556.7" y="553">10</text><text x="579.7" y="519.8">20</text><text x="579.7" y="553">20</text><text x="602.7" y="519.8">30</text><text x="602.7" y="553">30</text><text x="625.7" y="519.8">40</text><text x="625.7" y="553">40</text><text x="648.7" y="519.8">50</text><text x="648.7" y="553">50</text></g>
<g font-size="5.3" fill="#222" text-anchor="middle" stroke="#222" stroke-width="0.13"><text x="433.4" y="358">Patient Number</text><text x="598.5" y="359.7">Patient Number</text><text x="434" y="460.1">Patient Number</text><text x="598.9" y="460.1">Patient Number</text><text x="430.5" y="559.5">Patient Number</text><text x="596.8" y="559.9">Patient Number</text></g>
<g font-size="4.1" fill="#222" stroke="#222" stroke-width="0.10"><text x="496.7" y="292.8">CRPS</text><text x="496.7" y="297.5">Risk Group</text><text x="501" y="304.3">Low Risk</text><text x="501" y="311.1">High Risk</text><text x="496.7" y="328.6">Event</text><text x="501" y="335.6">Dead</text><text x="501" y="341.7">Alive</text><text x="662.3" y="292.8">CRPS</text><text x="662.3" y="297.5">Risk Group</text><text x="666.6" y="304.3">Low Risk</text><text x="666.6" y="311.1">High Risk</text><text x="662.3" y="329.3">Event</text><text x="666.6" y="336.3">Dead</text><text x="666.6" y="342.4">Alive</text><text x="498.7" y="393.2">CRPS</text><text x="498.7" y="397.9">Risk Group</text><text x="503" y="404.7">Low Risk</text><text x="503" y="411.5">High Risk</text><text x="498.7" y="430.4">Event</text><text x="503" y="437.4">Dead</text><text x="503" y="443.5">Alive</text><text x="662.7" y="393.2">CRPS</text><text x="662.7" y="397.9">Risk Group</text><text x="667" y="404.7">Low Risk</text><text x="667" y="411.5">High Risk</text><text x="662.7" y="429.4">Event</text><text x="667" y="436.4">Dead</text><text x="667" y="442.5">Alive</text><text x="494.3" y="493.2">CRPS</text><text x="494.3" y="497.9">Risk Group</text><text x="498.6" y="504.7">Low Risk</text><text x="498.6" y="511.5">High Risk</text><text x="494.3" y="529.7">Event</text><text x="498.6" y="536.7">Dead</text><text x="498.6" y="542.8">Alive</text><text x="660.6" y="493.1">CRPS</text><text x="660.6" y="497.8">Risk Group</text><text x="664.9" y="504.6">Low Risk</text><text x="664.9" y="511.4">High Risk</text><text x="660.6" y="529.5">Event</text><text x="664.9" y="536.5">Dead</text><text x="664.9" y="542.6">Alive</text></g>
<g font-size="6.2" fill="#111" font-weight="bold" stroke="#111" stroke-width="0.19"><text x="431.5" y="534.9">E</text></g>
<g font-size="4.2" fill="#333" stroke="#333" stroke-width="0.11"><text x="388.2" y="599.6">CRPS Risk Group</text><text x="434" y="599.6">High Risk</text><text x="463.9" y="599.6">Low Risk</text><text x="554.3" y="599.7">CRPS Risk Group</text><text x="600.1" y="599.7">High Risk</text><text x="630" y="599.7">Low Risk</text><text x="392.1" y="736.4">CRPS Risk Group</text><text x="437.9" y="736.4">High Risk</text><text x="467.8" y="736.4">Low Risk</text><text x="554.3" y="737.2">CRPS Risk Group</text><text x="600.1" y="737.2">High Risk</text><text x="630" y="737.2">Low Risk</text><text x="395.2" y="871">CRPS Risk Group</text><text x="441" y="871">High Risk</text><text x="470.9" y="871">Low Risk</text><text x="552" y="872.3">CRPS Risk Group</text><text x="597.8" y="872.3">High Risk</text><text x="627.7" y="872.3">Low Risk</text></g>
<g font-size="3.3" fill="#555" text-anchor="end" stroke="#555" stroke-width="0.08"><text x="371.9" y="608.9">1.00</text><text x="371.9" y="621.55">0.75</text><text x="371.9" y="634.2">0.50</text><text x="371.9" y="646.85">0.25</text><text x="371.9" y="659.5">0.00</text><text x="535.8" y="609.3">1.00</text><text x="535.8" y="621.83">0.75</text><text x="535.8" y="634.35">0.50</text><text x="535.8" y="646.88">0.25</text><text x="535.8" y="659.4">0.00</text><text x="373.8" y="744.9">1.00</text><text x="373.8" y="757.82">0.75</text><text x="373.8" y="770.75">0.50</text><text x="373.8" y="783.68">0.25</text><text x="373.8" y="796.6">0.00</text><text x="536.3" y="745.2">1.00</text><text x="536.3" y="757.95">0.75</text><text x="536.3" y="770.7">0.50</text><text x="536.3" y="783.45">0.25</text><text x="536.3" y="796.2">0.00</text><text x="376.2" y="879.2">1.00</text><text x="376.2" y="891.83">0.75</text><text x="376.2" y="904.45">0.50</text><text x="376.2" y="917.08">0.25</text><text x="376.2" y="929.7">0.00</text><text x="534" y="878.9">1.00</text><text x="534" y="891.8">0.75</text><text x="534" y="904.7">0.50</text><text x="534" y="917.6">0.25</text><text x="534" y="930.5">0.00</text></g>
<g font-size="3.3" fill="#555" text-anchor="middle" stroke="#555" stroke-width="0.08"><text x="379.4" y="665.1">0</text><text x="418.5" y="665.1">50</text><text x="457.6" y="665.1">100</text><text x="496.7" y="665.1">150</text><text x="379.4" y="693.6">0</text><text x="418.5" y="693.6">50</text><text x="457.6" y="693.6">100</text><text x="496.7" y="693.6">150</text><text x="543.7" y="664.9">0</text><text x="582.13" y="664.9">50</text><text x="620.57" y="664.9">100</text><text x="659.01" y="664.9">150</text><text x="543.2" y="693.4">0</text><text x="581.63" y="693.4">50</text><text x="620.07" y="693.4">100</text><text x="658.51" y="693.4">150</text><text x="381.6" y="802.2">0</text><text x="410.55" y="802.2">30</text><text x="439.5" y="802.2">60</text><text x="468.45" y="802.2">90</text><text x="497.4" y="802.2">120</text><text x="381.3" y="830.3">0</text><text x="410.25" y="830.3">30</text><text x="439.2" y="830.3">60</text><text x="468.15" y="830.3">90</text><text x="497.1" y="830.3">120</text><text x="543.7" y="801.5">0</text><text x="572.1" y="801.5">50</text><text x="600.5" y="801.5">100</text><text x="628.9" y="801.5">150</text><text x="657.3" y="801.5">200</text><text x="543.7" y="829.6">0</text><text x="572.1" y="829.6">50</text><text x="600.5" y="829.6">100</text><text x="628.9" y="829.6">150</text><text x="657.3" y="829.6">200</text><text x="383.8" y="934.9">0</text><text x="412.48" y="934.9">50</text><text x="441.15" y="934.9">100</text><text x="469.83" y="934.9">150</text><text x="498.5" y="934.9">200</text><text x="383.8" y="962.7">0</text><text x="412.48" y="962.7">50</text><text x="441.15" y="962.7">100</text><text x="469.83" y="962.7">150</text><text x="498.5" y="962.7">200</text><text x="541.9" y="936.2">0</text><text x="571.58" y="936.2">10</text><text x="601.26" y="936.2">20</text><text x="630.94" y="936.2">30</text><text x="660.62" y="936.2">40</text><text x="548.4" y="964.4">0</text><text x="576.7" y="964.4">10</text><text x="605" y="964.4">20</text><text x="633.3" y="964.4">30</text><text x="661.6" y="964.4">40</text></g>
<g font-size="4.2" fill="#333" text-anchor="middle" stroke="#333" stroke-width="0.11"><text x="438.05" y="668.7">Time(month)</text><text x="438.05" y="697.6">Time(month)</text><text x="601.35" y="668.5">Time(month)</text><text x="600.85" y="697.4">Time(month)</text><text x="439.5" y="805.8">Time(month)</text><text x="439.2" y="834.3">Time(month)</text><text x="600.5" y="805.1">Time(month)</text><text x="600.5" y="833.6">Time(month)</text><text x="441.15" y="938.5">Time(month)</text><text x="441.15" y="966.7">Time(month)</text><text x="601.26" y="939.8">Time(month)</text><text x="605" y="968.4">Time(month)</text></g>
<g font-size="5.1" fill="#111" stroke="#111" stroke-width="0.13"><text x="382" y="645">Log−rank</text><text x="382" y="650.3">p &lt; 0.0001</text><text x="546" y="645">Log−rank</text><text x="546" y="650.3">p = 0.0029</text><text x="383.8" y="781.6">Log−rank</text><text x="383.8" y="786.9">p &lt; 0.0001</text><text x="546.2" y="781.6">Log−rank</text><text x="546.2" y="786.9">p = 0.00015</text><text x="386" y="914.8">Log−rank</text><text x="386" y="920.1">p &lt; 0.0001</text><text x="544.1" y="915.5">Log−rank</text><text x="544.1" y="920.8">p = 0.029</text></g>
<g font-size="5.2" fill="#111" text-anchor="middle" stroke="#111" stroke-width="0.13"><text x="439.4" y="677.7">Number at risk</text><text x="602.8" y="677.7">Number at risk</text><text x="439.45" y="814.5">Number at risk</text><text x="602.5" y="813.8">Number at risk</text><text x="441.1" y="946.8">Number at risk</text><text x="606.65" y="947.8">Number at risk</text></g>
<g font-size="3.1" fill="#cf4a3b" text-anchor="end" stroke="#cf4a3b" stroke-width="0.08"><text x="372" y="683.8">High Risk</text><text x="536.3" y="683.8">High Risk</text><text x="374.6" y="820.6">High Risk</text><text x="537.4" y="819.9">High Risk</text><text x="376.8" y="952.9">High Risk</text><text x="542" y="953.9">High Risk</text></g>
<g font-size="3.1" fill="#3b7f79" text-anchor="end" stroke="#3b7f79" stroke-width="0.08"><text x="372" y="688.2">Low Risk</text><text x="536.3" y="688.2">Low Risk</text><text x="374.6" y="825">Low Risk</text><text x="537.4" y="824.3">Low Risk</text><text x="376.8" y="957.3">Low Risk</text><text x="542" y="958.3">Low Risk</text></g>
<g font-size="4.4" fill="#cf4a3b" text-anchor="middle" stroke="#cf4a3b" stroke-width="0.11"><text x="379.4" y="684.3">292</text><text x="418.5" y="684.3">59</text><text x="457.6" y="684.3">9</text><text x="496.7" y="684.3">0</text><text x="543.2" y="684.3">114</text><text x="581.63" y="684.3">46</text><text x="620.07" y="684.3">4</text><text x="658.51" y="684.3">0</text><text x="381.3" y="821.1">59</text><text x="410.25" y="821.1">31</text><text x="439.2" y="821.1">14</text><text x="468.15" y="821.1">6</text><text x="497.1" y="821.1">0</text><text x="543.7" y="820.4">278</text><text x="572.1" y="820.4">130</text><text x="600.5" y="820.4">31</text><text x="628.9" y="820.4">7</text><text x="657.3" y="820.4">0</text><text x="383.8" y="953.4">744</text><text x="412.48" y="953.4">243</text><text x="441.15" y="953.4">46</text><text x="469.83" y="953.4">7</text><text x="498.5" y="953.4">0</text><text x="548.4" y="954.4">28</text><text x="576.7" y="954.4">25</text><text x="605" y="954.4">24</text><text x="633.3" y="954.4">13</text><text x="661.6" y="954.4">2</text></g>
<g font-size="4.4" fill="#3b7f79" text-anchor="middle" stroke="#3b7f79" stroke-width="0.11"><text x="379.4" y="688.7">292</text><text x="418.5" y="688.7">35</text><text x="457.6" y="688.7">6</text><text x="496.7" y="688.7">0</text><text x="543.2" y="688.7">115</text><text x="581.63" y="688.7">61</text><text x="620.07" y="688.7">12</text><text x="658.51" y="688.7">0</text><text x="381.3" y="825.5">60</text><text x="410.25" y="825.5">35</text><text x="439.2" y="825.5">13</text><text x="468.15" y="825.5">9</text><text x="497.1" y="825.5">0</text><text x="543.7" y="824.8">278</text><text x="572.1" y="824.8">153</text><text x="600.5" y="824.8">30</text><text x="628.9" y="824.8">6</text><text x="657.3" y="824.8">1</text><text x="383.8" y="957.8">744</text><text x="412.48" y="957.8">268</text><text x="441.15" y="957.8">60</text><text x="469.83" y="957.8">6</text><text x="498.5" y="957.8">1</text><text x="548.4" y="958.8">27</text><text x="576.7" y="958.8">27</text><text x="605" y="958.8">27</text><text x="633.3" y="958.8">18</text><text x="661.6" y="958.8">1</text></g>
</svg></body></html>
